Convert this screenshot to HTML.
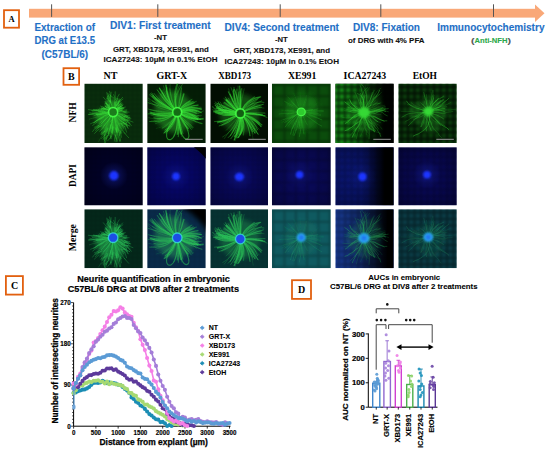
<!DOCTYPE html>
<html><head><meta charset="utf-8"><style>
html,body{margin:0;padding:0;background:#fff;}
body{width:550px;height:453px;overflow:hidden;position:relative;}
svg{position:absolute;left:0;top:0;}
</style></head><body>
<svg width="550" height="453" viewBox="0 0 550 453">
<defs><filter id="bl" x="-10%" y="-10%" width="120%" height="120%"><feGaussianBlur stdDeviation="0.55"/></filter><filter id="bl2" x="-30%" y="-30%" width="160%" height="160%"><feGaussianBlur stdDeviation="2.5"/></filter><filter id="bl1" x="-30%" y="-30%" width="160%" height="160%"><feGaussianBlur stdDeviation="0.8"/></filter><radialGradient id="vig" r="0.75"><stop offset="0.3" stop-color="#000" stop-opacity="0"/><stop offset="1" stop-color="#000" stop-opacity="0.35"/></radialGradient><radialGradient id="gglow"><stop offset="0" stop-color="#2cd02c"/><stop offset="1" stop-color="#2cd02c" stop-opacity="0"/></radialGradient><g id="nr0" fill="none" stroke="currentColor" stroke-linecap="round" stroke-linejoin="round"><polygon points="37.8,28.5 39.6,30.4 40.8,32.9 41.1,35.6 40.5,38.3 39.6,41.4 38.4,45.1 35.8,47.8 32.5,49.3 28.8,50.2 25.0,49.9 21.4,48.9 18.2,46.8 15.9,43.9 14.3,40.7 13.4,37.4 12.0,34.6 10.0,31.8 11.2,28.5 17.7,26.5 22.3,26.1 23.8,25.6 24.2,24.6 24.0,22.8 23.9,20.1 24.4,16.5 26.6,16.1 28.8,16.1 31.0,16.1 33.2,16.5 33.6,20.2 33.5,22.9 32.8,25.1 33.6,25.7 34.3,26.5 35.7,27.3" fill="currentColor" fill-opacity="0.55" stroke="none" filter="url(#bl2)"/><path d="M25.0 29.7 22.5 30.4 20.0 31.2 17.5 31.9 15.0 32.7 12.6 33.5 10.1 34.2 7.5 34.8 5.0 35.6" stroke-width="0.6" stroke-opacity="0.35"/><path d="M30.3 24.8 31.4 22.5 32.8 20.3" stroke-width="0.7" stroke-opacity="0.61"/><path d="M31.0 31.8 32.7 33.8 34.5 35.7 36.5 37.3 38.7 38.8 40.9 40.1 43.2 41.3 45.5 42.5" stroke-width="0.7" stroke-opacity="0.62"/><path d="M24.8 28.5 22.2 28.6 19.6 28.4 17.0 27.9 14.5 27.3 12.0 26.6 9.5 25.9" stroke-width="0.5" stroke-opacity="0.44"/><path d="M32.4 30.2 34.7 31.5 36.9 32.8 39.0 34.3 41.0 36.0" stroke-width="0.4" stroke-opacity="0.40"/><path d="M32.2 26.4 34.4 24.9 36.4 23.3" stroke-width="0.7" stroke-opacity="0.69"/><path d="M28.3 32.5 27.9 35.0 27.5 37.6 27.3 40.2 27.3 42.8 27.6 45.4 28.2 47.9 28.7 50.5" stroke-width="0.5" stroke-opacity="0.58"/><path d="M25.0 29.8 22.6 30.9 20.3 31.9 18.0 33.2 15.8 34.6 13.7 36.1 11.7 37.7 9.6 39.3" stroke-width="0.8" stroke-opacity="0.45"/><path d="M31.8 25.9 33.8 24.2" stroke-width="0.7" stroke-opacity="0.35"/><path d="M32.8 28.2 35.4 28.1 38.0 27.8" stroke-width="0.5" stroke-opacity="0.34"/><path d="M32.2 30.6 34.3 32.1 36.5 33.5 38.7 34.9 40.8 36.5" stroke-width="0.6" stroke-opacity="0.59"/><path d="M31.5 25.5 33.3 23.7" stroke-width="0.8" stroke-opacity="0.42"/><path d="M30.3 32.2 31.3 34.6 32.1 37.1 32.7 39.6 33.2 42.2 33.7 44.7 34.2 47.3 34.9 49.8 35.4 52.3 35.9 54.9 36.3 57.4" stroke-width="0.5" stroke-opacity="0.71"/><path d="M25.5 26.2 23.4 24.7" stroke-width="0.4" stroke-opacity="0.41"/><path d="M25.1 27.0 22.7 26.1 20.3 24.9" stroke-width="0.5" stroke-opacity="0.31"/><path d="M28.3 32.5 28.2 35.1 28.1 37.7 27.9 40.3 28.0 42.9 28.1 45.5" stroke-width="0.8" stroke-opacity="0.79"/><path d="M26.6 25.2 25.1 23.1 23.4 21.0 21.7 19.1" stroke-width="0.9" stroke-opacity="0.65"/><path d="M32.7 27.6 35.2 26.9 37.7 26.1" stroke-width="0.6" stroke-opacity="0.80"/><path d="M32.4 30.3 34.6 31.7 36.8 33.1 38.9 34.6 40.9 36.2 42.8 38.0" stroke-width="0.6" stroke-opacity="0.64"/><path d="M32.0 26.2 34.3 24.8" stroke-width="0.8" stroke-opacity="0.59"/><path d="M26.0 25.7 24.1 23.8 22.2 22.1" stroke-width="0.7" stroke-opacity="0.80"/><path d="M31.7 25.8 33.7 24.1" stroke-width="0.7" stroke-opacity="0.52"/><path d="M30.9 25.1 32.0 22.8 33.1 20.4 34.1 18.0" stroke-width="0.5" stroke-opacity="0.65"/><path d="M24.8 28.6 22.2 28.7 19.6 29.0 17.0 29.3 14.5 29.6 11.9 29.9 9.3 30.4 6.7 30.7 4.1 30.8" stroke-width="0.6" stroke-opacity="0.75"/><path d="M26.9 32.0 25.7 34.3 24.4 36.6 22.8 38.7 21.1 40.6 19.4 42.6 17.7 44.5" stroke-width="0.6" stroke-opacity="0.37"/><path d="M24.8 28.6 22.2 28.5 19.6 28.1 17.1 27.7 14.5 27.4 11.9 27.1 9.3 26.7 6.7 26.4 4.2 26.1" stroke-width="0.7" stroke-opacity="0.55"/><path d="M27.2 32.2 26.1 34.5 25.1 36.9 24.2 39.4 23.1 41.7 22.1 44.1 20.9 46.4 19.7 48.7 18.4 51.0 17.0 53.2 15.7 55.4 14.4 57.7" stroke-width="0.6" stroke-opacity="0.31"/><path d="M30.7 25.0 31.7 22.6 32.8 20.2" stroke-width="0.6" stroke-opacity="0.61"/><path d="M26.6 25.2 25.2 23.0 23.8 20.8 22.5 18.5" stroke-width="0.5" stroke-opacity="0.31"/><path d="M24.9 29.2 22.3 29.7 19.8 30.2 17.2 30.6 14.6 30.9 12.0 31.1" stroke-width="0.8" stroke-opacity="0.50"/><path d="M29.8 24.6 30.8 22.2 31.9 19.9 32.9 17.5" stroke-width="0.6" stroke-opacity="0.61"/><path d="M32.2 26.4 34.4 25.1" stroke-width="0.8" stroke-opacity="0.77"/><path d="M24.9 29.4 22.3 29.9 19.8 30.2 17.2 30.4 14.6 30.4 12.0 30.6" stroke-width="0.8" stroke-opacity="0.79"/><path d="M32.8 27.9 35.3 27.5 37.9 27.2" stroke-width="0.8" stroke-opacity="0.47"/><path d="M32.3 30.5 34.5 31.9 36.7 33.2 39.0 34.4 41.3 35.7 43.6 36.8" stroke-width="0.8" stroke-opacity="0.39"/><path d="M26.8 31.9 25.5 34.2 24.2 36.5 22.7 38.6 21.1 40.6 19.4 42.6" stroke-width="0.9" stroke-opacity="0.55"/><path d="M32.6 27.2 35.0 26.3" stroke-width="0.5" stroke-opacity="0.66"/><path d="M26.2 25.4 24.6 23.4 22.9 21.5 21.1 19.5" stroke-width="0.8" stroke-opacity="0.75"/><path d="M29.8 32.4 30.4 34.9 30.9 37.5 31.4 40.0 31.8 42.6 32.2 45.1 32.4 47.7 32.7 50.3 32.8 52.9 32.7 55.5 32.6 58.1" stroke-width="0.8" stroke-opacity="0.58"/><path d="M24.8 28.7 22.2 28.8 19.6 28.9 17.0 28.7 14.4 28.4" stroke-width="0.5" stroke-opacity="0.54"/><path d="M31.6 31.4 33.3 33.3 35.0 35.3 36.8 37.2 38.7 38.9 40.6 40.7 42.3 42.7 44.2 44.5" stroke-width="0.8" stroke-opacity="0.31"/><path d="M30.2 32.3 31.2 34.6 32.3 37.0 33.5 39.3 34.8 41.5 36.2 43.8 37.7 45.9 39.2 48.0 40.9 50.0" stroke-width="0.5" stroke-opacity="0.57"/><path d="M25.1 30.0 22.7 31.1 20.4 32.2 18.2 33.6 15.9 34.8 13.6 36.1 11.4 37.4" stroke-width="0.8" stroke-opacity="0.61"/><path d="M31.3 25.4 33.0 23.4 34.7 21.4 36.3 19.4" stroke-width="0.6" stroke-opacity="0.76"/><path d="M29.6 32.4 30.1 35.0 30.7 37.5 31.0 40.1 31.3 42.7 31.7 45.2 31.8 47.8 31.9 50.4 31.7 53.0 31.5 55.6 31.3 58.2" stroke-width="0.7" stroke-opacity="0.31"/><path d="M30.0 32.3 30.6 34.9 31.2 37.4 31.9 39.9 32.4 42.4 32.8 45.0 33.1 47.6 33.5 50.1 34.1 52.7 34.7 55.2 35.5 57.7" stroke-width="0.7" stroke-opacity="0.56"/><path d="M25.2 26.8 22.7 25.9" stroke-width="0.8" stroke-opacity="0.80"/><path d="M32.4 26.7 34.8 25.7" stroke-width="0.6" stroke-opacity="0.68"/><path d="M26.9 32.0 25.8 34.4 24.6 36.7 23.5 39.1 22.5 41.4 21.3 43.7 20.2 46.1 19.1 48.5 18.0 50.8" stroke-width="0.6" stroke-opacity="0.40"/><path d="M30.8 31.9 32.0 34.3 33.1 36.6 34.1 39.0 34.9 41.5" stroke-width="0.7" stroke-opacity="0.50"/><path d="M25.6 26.2 23.5 24.5 21.4 23.0" stroke-width="0.9" stroke-opacity="0.67"/><path d="M29.5 24.6 30.2 22.1 31.1 19.6 32.1 17.2 33.4 14.9" stroke-width="0.8" stroke-opacity="0.50"/><path d="M28.1 24.6 27.6 22.0 26.7 19.6 25.7 17.2" stroke-width="0.7" stroke-opacity="0.61"/><path d="M29.2 32.5 29.5 35.1 29.6 37.7 29.5 40.3 29.4 42.9 29.2 45.4 28.6 48.0 27.9 50.5 27.1 52.9 26.0 55.3" stroke-width="0.9" stroke-opacity="0.31"/><path d="M25.8 25.8 23.9 24.1" stroke-width="0.4" stroke-opacity="0.40"/><path d="M26.0 31.3 24.1 33.1 22.2 34.9 20.4 36.8 18.6 38.6 16.8 40.5" stroke-width="0.9" stroke-opacity="0.62"/><path d="M30.3 24.8 31.2 22.4 31.9 19.9 32.7 17.4 33.2 14.8" stroke-width="0.6" stroke-opacity="0.38"/><path d="M24.8 28.6 22.2 28.5 19.6 28.3 17.0 28.2 14.4 27.9" stroke-width="0.6" stroke-opacity="0.44"/><path d="M26.6 25.2 25.2 23.0 23.7 20.8" stroke-width="0.4" stroke-opacity="0.42"/><path d="M32.7 29.6 35.2 30.1 37.7 30.8 40.2 31.5 42.8 31.9 45.3 32.4" stroke-width="0.9" stroke-opacity="0.34"/><path d="M32.1 26.3 34.4 25.0" stroke-width="0.5" stroke-opacity="0.56"/><path d="M32.5 27.0 35.0 26.2" stroke-width="0.8" stroke-opacity="0.60"/><path d="M31.8 31.1 33.8 32.8 35.9 34.3 38.0 35.9 40.2 37.3 42.3 38.8" stroke-width="0.7" stroke-opacity="0.53"/><path d="M28.5 32.5 28.2 35.1 27.8 37.6 27.2 40.2 26.4 42.7 25.5 45.1 24.7 47.6 24.0 50.1" stroke-width="0.8" stroke-opacity="0.69"/><path d="M26.0 25.7 24.2 23.8" stroke-width="0.7" stroke-opacity="0.60"/><path d="M26.1 25.5 24.3 23.6" stroke-width="0.9" stroke-opacity="0.76"/><path d="M31.7 25.7 33.4 23.8" stroke-width="0.6" stroke-opacity="0.61"/><path d="M32.0 30.9 34.2 32.3 36.3 33.8 38.4 35.3" stroke-width="0.7" stroke-opacity="0.49"/><path d="M24.8 29.0 22.3 29.4 19.7 29.6 17.1 30.1 14.6 30.8 12.1 31.4 9.6 32.1" stroke-width="0.8" stroke-opacity="0.41"/><path d="M25.2 30.3 23.0 31.6 20.7 32.9 18.4 34.0 16.1 35.3 13.9 36.6 11.6 37.9 9.3 39.0" stroke-width="0.6" stroke-opacity="0.48"/><path d="M43.2 38.5l4.0 3.5M9.2 30.4l-4.2 0.2M30.0 21.4l0.9 -3.2M21.0 50.8l-4.0 4.2M26.2 40.9l0.4 4.4M41.3 39.9l2.3 4.7M35.0 25.0l6.0 -1.5M23.1 44.5l-0.8 4.5M35.4 25.6l4.1 -1.8M17.6 41.5l-3.8 2.5M35.7 47.5l1.5 6.2M23.4 26.2l-6.0 -0.2M33.1 24.5l4.8 -2.0M21.3 25.1l-5.0 -2.6M31.2 21.9l-0.5 -3.3M42.5 36.2l6.2 2.3M41.8 36.1l3.7 4.2M29.2 43.3l-2.1 5.7M14.3 26.5l-6.9 0.5M23.9 19.3l-1.6 -4.9M26.3 14.8l0.5 -6.3M23.0 18.4l-3.9 -4.8M34.6 18.5l4.1 -3.0M25.2 14.3l-1.7 -4.4M19.2 33.7l-3.8 2.4M35.2 39.8l4.7 0.6M21.8 54.3l-1.7 3.0M23.2 21.0l-1.9 -3.2M40.3 33.2l3.1 -0.6M36.9 35.1l3.6 1.3M30.9 51.6l1.0 3.6M26.2 41.8l-0.5 6.0M20.8 48.0l-2.0 3.5M33.9 24.1l2.3 -3.7M20.1 25.8l-3.2 -0.3M35.6 26.2l4.3 -1.4M17.6 26.5l-5.6 -0.2M29.3 34.9l-3.6 3.3M13.4 44.6l-2.3 2.8M36.9 40.8l3.4 2.2M33.8 23.2l0.5 -4.0M21.9 27.0l-5.3 2.9M39.6 28.6l3.2 1.1M25.9 51.8l1.1 3.2M11.7 30.6l-6.2 -1.6M20.7 51.6l-1.0 4.5M33.1 26.0l4.7 -2.1M20.6 27.2l-6.3 0.1M22.5 44.1l-2.8 4.0M26.4 17.7l-0.6 -5.7M39.3 36.7l6.3 -0.6M26.1 24.6l-1.8 -4.1M26.4 19.0l-1.6 -2.6M38.7 28.0l3.8 -0.7M24.2 24.4l-3.8 -1.9M19.5 43.7l-4.1 3.9M28.2 42.8l-0.1 6.8M21.6 25.5l-4.3 -0.6M31.9 22.5l3.1 -4.8M26.5 19.8l-0.7 -4.6M33.9 20.1l2.4 -2.7M38.7 38.3l2.1 2.6M34.1 25.6l3.6 -4.9M33.2 19.4l1.7 -4.0M23.4 31.8l-4.1 5.6M32.2 15.3l2.7 -4.7M37.9 29.6l3.4 -0.4M15.6 41.3l-5.7 2.4M33.9 18.5l4.5 -4.8M22.0 26.4l-3.7 -3.3M40.5 43.0l1.8 5.6M32.6 22.1l3.3 -5.9M24.5 24.1l-2.9 -4.4M25.3 18.2l-1.5 -6.6M17.0 42.5l-3.4 1.0M33.9 25.0l5.2 -0.2M22.9 26.1l-2.5 -5.8M24.7 25.5l-6.2 -0.8M22.6 53.6l-1.7 6.1M36.6 46.7l0.0 3.3M37.0 30.2l3.5 4.4M20.7 49.9l-1.8 5.7M14.6 41.6l-2.8 2.5M17.6 30.8l-4.4 1.1M23.6 26.1l-5.2 -1.1M18.0 47.6l-1.5 2.8M25.3 22.0l-0.5 -4.9M13.0 38.3l-4.6 3.5M29.5 14.5l-5.0 -3.9M33.6 22.4l3.2 -3.5M21.4 25.2l-4.7 -0.3M33.5 25.3l2.5 -2.0M26.5 13.6l-1.2 -5.9M21.5 49.0l0.2 3.3M39.1 38.7l2.8 1.5M24.5 16.6l-1.4 -3.7M22.4 45.9l-2.4 6.2M36.2 26.9l6.4 -0.6M11.1 38.0l-4.8 2.1M32.8 25.7l6.1 -0.7M39.8 39.3l2.8 2.8M23.6 44.8l-1.0 3.1M34.0 24.5l3.4 -4.1M34.6 30.2l5.9 2.9M21.6 47.4l-4.4 2.1M33.1 43.8l3.8 5.5M33.0 25.3l4.3 -2.3M39.7 48.9l4.7 5.2M35.1 48.9l0.3 3.2M41.9 38.8l1.4 4.0M34.2 24.6l4.6 -3.6M34.6 26.1l2.8 -1.7M31.5 44.6l0.8 3.6M30.9 50.9l1.7 5.9M14.5 43.3l-3.4 1.9M20.6 53.4l-0.3 5.7M25.0 50.6l-3.7 3.0M17.7 26.5l-2.6 -1.9M24.3 25.2l-2.7 -2.0M23.5 52.0l-2.7 2.9M25.0 49.2l-2.9 6.3M39.6 30.8l4.2 4.3M11.5 43.8l-3.2 4.1M24.2 22.5l-3.5 -4.5M31.4 16.3l-2.1 -5.3M12.7 26.4l-3.7 -0.4M30.4 19.9l0.1 -4.8M30.9 14.3l0.0 -6.2M30.6 48.3l0.1 5.0M40.6 31.2l4.8 3.4M21.9 25.1l-2.7 -1.6M12.8 28.9l-4.7 -0.6M26.8 53.0l-3.3 4.1M20.3 26.1l-3.3 -2.1M37.2 39.6l2.1 5.1M19.3 27.0l-5.2 -1.2M43.0 37.3l2.9 2.2M23.5 15.0l-1.0 -6.1M39.8 33.0l6.7 1.7M40.2 31.6l5.5 2.5M35.1 28.0l2.7 -1.7M30.3 54.0l-0.3 3.6M17.4 37.6l-2.2 2.2M38.9 28.3l5.9 0.2M30.7 43.7l1.6 4.6M34.3 26.0l3.8 -2.1M37.2 27.5l5.5 1.0M39.2 32.5l5.2 2.5M34.0 22.6l3.8 -2.6M33.4 21.6l2.2 -5.7M32.5 45.1l0.2 3.6M32.9 42.0l-0.3 4.9M21.8 46.6l-4.7 4.4M33.7 45.3l1.0 3.1M24.8 18.3l-1.4 -3.5M27.4 46.9l-0.9 6.6M26.6 18.6l-2.2 -6.4M14.5 45.8l-4.3 4.0M32.5 26.1l2.5 -2.2M33.2 24.5l5.4 -2.8" stroke-width="0.6" stroke-opacity="0.55"/></g><g id="nr1" fill="none" stroke="currentColor" stroke-linecap="round" stroke-linejoin="round"><polygon points="49.5,28.6 49.0,31.9 47.9,35.1 46.2,38.0 44.0,40.3 41.7,42.6 39.4,44.8 36.6,46.7 33.4,48.0 30.0,48.9 26.5,48.7 23.0,47.9 19.6,46.6 16.6,44.6 13.7,42.3 11.0,39.6 8.9,36.3 8.2,32.4 8.2,28.6 7.8,24.7 8.0,20.6 9.0,16.5 10.8,12.5 14.0,9.5 18.1,8.1 22.3,7.5 26.3,7.5 30.0,8.4 33.4,9.5 36.3,11.3 38.8,13.4 40.7,15.8 42.1,18.5 44.4,20.3 46.5,22.6 48.2,25.4" fill="currentColor" fill-opacity="0.38" stroke="none" filter="url(#bl2)"/><path d="M29.3 24.7 28.9 22.1 28.6 19.5 28.7 16.9 29.1 14.3 29.8 11.9 30.8 9.4 31.8 7.1 32.9 4.7 34.3 2.5" stroke-width="0.8" stroke-opacity="0.34"/><path d="M34.0 28.3 36.6 28.5 39.2 28.9 41.6 29.6 44.1 30.5 46.5 31.5 48.8 32.7 51.1 33.9" stroke-width="1.0" stroke-opacity="0.42"/><path d="M27.0 25.9 25.1 24.2 23.4 22.3 21.7 20.3 20.1 18.2 18.5 16.1 17.3 13.9 16.3 11.5 15.4 9.0 14.6 6.5" stroke-width="0.6" stroke-opacity="0.56"/><path d="M32.0 32.1 33.2 34.4 34.4 36.7 35.7 38.9 37.3 41.0 39.0 43.0 40.7 44.9" stroke-width="1.1" stroke-opacity="0.46"/><path d="M33.4 30.6 35.7 32.0 38.0 33.2 40.3 34.4 42.6 35.5 45.0 36.5 47.5 37.4 49.9 38.3 52.3 39.3 54.8 40.0" stroke-width="1.1" stroke-opacity="0.46"/><path d="M26.4 30.4 24.1 31.5 21.7 32.6 19.3 33.6 16.9 34.5 14.4 35.3 12.0 36.2 9.4 36.8 6.8 37.1 4.2 37.2" stroke-width="0.6" stroke-opacity="0.23"/><path d="M30.8 32.5 31.3 35.1 31.6 37.6 31.9 40.2 32.3 42.8 32.6 45.4 32.9 48.0 33.3 50.5" stroke-width="0.8" stroke-opacity="0.49"/><path d="M27.5 25.5 26.0 23.3 24.5 21.2 23.0 19.1 21.5 17.0 20.1 14.8 18.9 12.5 17.8 10.1 16.8 7.7 15.9 5.3" stroke-width="0.7" stroke-opacity="0.31"/><path d="M33.4 30.7 35.6 32.1 37.9 33.3 40.4 34.1 42.9 34.7 45.5 35.0 48.1 35.3 50.7 35.6 53.3 35.5" stroke-width="1.1" stroke-opacity="0.29"/><path d="M34.0 28.0 36.5 27.8 39.1 27.6 41.7 27.6 44.3 27.9 46.8 28.5 49.4 29.1 51.9 29.9" stroke-width="1.0" stroke-opacity="0.27"/><path d="M33.9 27.7 36.5 27.3 39.1 27.1 41.7 27.1 44.3 27.1 46.9 27.3 49.4 27.7 51.9 28.3 54.4 29.2" stroke-width="0.9" stroke-opacity="0.25"/><path d="M27.5 25.4 26.1 23.2 24.8 21.0 23.7 18.7 22.5 16.3 21.4 14.0 20.2 11.7 19.1 9.4 18.0 7.0 17.0 4.6 16.3 2.1" stroke-width="0.6" stroke-opacity="0.42"/><path d="M29.3 24.7 28.9 22.1 28.6 19.5 28.3 16.9 28.3 14.3 28.2 11.7 28.4 9.1 28.9 6.6 29.5 4.0 30.1 1.5 30.9 -1.0" stroke-width="1.2" stroke-opacity="0.43"/><path d="M27.4 25.6 25.9 23.4 24.6 21.2 23.5 18.8 22.6 16.4 21.9 13.9 21.1 11.4 20.4 8.9 19.6 6.4 18.7 4.0 18.1 1.4" stroke-width="0.7" stroke-opacity="0.21"/><path d="M26.3 30.0 23.7 30.5 21.1 30.9 18.6 31.2 16.0 31.3 13.4 31.3 10.8 31.0 8.2 30.7 5.6 30.2 3.1 29.5" stroke-width="1.2" stroke-opacity="0.56"/><path d="M26.6 26.5 24.3 25.2 22.1 23.9 19.8 22.6 17.6 21.4 15.2 20.2 13.1 18.8 11.0 17.2 8.9 15.6 6.9 14.0 5.0 12.2" stroke-width="0.9" stroke-opacity="0.23"/><path d="M26.5 30.5 24.1 31.5 21.6 32.2 19.0 32.7 16.5 33.1 13.9 33.2 11.3 33.0 8.7 32.6 6.2 32.1 3.7 31.3" stroke-width="1.2" stroke-opacity="0.25"/><path d="M26.4 26.9 24.1 25.6 21.9 24.3 19.6 23.1 17.4 21.7 15.1 20.4 13.0 18.8 11.0 17.2 9.0 15.5 7.1 13.8 5.2 12.0 3.5 10.0" stroke-width="0.9" stroke-opacity="0.49"/><path d="M33.4 26.6 35.8 25.6 38.3 24.7 40.8 24.2 43.4 24.0 46.0 23.9 48.6 24.1 51.2 24.6 53.7 25.3" stroke-width="1.0" stroke-opacity="0.30"/><path d="M27.4 25.5 26.1 23.3 24.7 21.1 23.5 18.8 22.3 16.5 21.3 14.1 20.6 11.6 19.8 9.1 19.2 6.6 18.8 4.0 18.5 1.4" stroke-width="0.6" stroke-opacity="0.52"/><path d="M27.4 25.6 25.7 23.6 24.1 21.5 22.6 19.4 20.9 17.4 19.3 15.4 17.9 13.2 16.4 11.0 15.2 8.8" stroke-width="0.9" stroke-opacity="0.26"/><path d="M33.6 30.3 36.0 31.3 38.4 32.3 40.8 33.3 43.3 34.2 45.8 34.9 48.3 35.5 50.8 36.1" stroke-width="0.8" stroke-opacity="0.54"/><path d="M33.1 26.1 35.1 24.4 37.3 23.0 39.6 21.8 42.0 20.8 44.5 20.0" stroke-width="0.8" stroke-opacity="0.37"/><path d="M33.4 26.6 35.7 25.3 38.1 24.3 40.6 23.4 43.1 22.7 45.6 22.3 48.2 21.9 50.8 21.7" stroke-width="0.6" stroke-opacity="0.21"/><path d="M26.7 30.8 24.3 31.9 21.9 32.8 19.4 33.6 16.9 34.4 14.4 34.9 11.8 35.1 9.2 35.1 6.6 35.1 4.0 34.7 1.5 34.1" stroke-width="0.6" stroke-opacity="0.31"/><path d="M31.7 25.0 32.7 22.6 33.6 20.2 34.4 17.7 35.0 15.1 35.7 12.6 36.3 10.1" stroke-width="0.8" stroke-opacity="0.46"/><path d="M26.3 27.1 23.9 26.0 21.6 24.8 19.2 23.8 16.9 22.6 14.5 21.5 12.2 20.5 9.8 19.4 7.4 18.4 5.1 17.1 2.9 15.9 0.7 14.4" stroke-width="1.1" stroke-opacity="0.20"/><path d="M33.5 26.7 35.9 25.6 38.3 24.5 40.7 23.8 43.2 23.0 45.7 22.2 48.2 21.7 50.8 21.3" stroke-width="0.7" stroke-opacity="0.46"/><path d="M26.4 30.4 24.0 31.2 21.4 31.7 18.8 32.0 16.2 32.0 13.6 31.9 11.1 31.5 8.5 31.1 5.9 30.6" stroke-width="1.1" stroke-opacity="0.59"/><path d="M33.0 25.9 35.0 24.3 37.2 22.9 39.5 21.6 41.8 20.5 44.2 19.4 46.6 18.6 49.1 17.6" stroke-width="0.8" stroke-opacity="0.25"/><path d="M33.5 30.5 35.9 31.6 38.3 32.6 40.8 33.3 43.3 33.8 45.9 34.3 48.5 34.4 51.1 34.5" stroke-width="1.0" stroke-opacity="0.51"/><path d="M26.4 26.9 24.1 25.6 21.9 24.2 19.7 22.9 17.5 21.5 15.3 20.2 13.0 18.9 10.8 17.5 8.6 16.1 6.6 14.4 4.6 12.8 2.6 11.1" stroke-width="1.3" stroke-opacity="0.31"/><path d="M26.7 30.8 24.4 32.1 22.2 33.4 19.9 34.6 17.5 35.6 15.0 36.5 12.6 37.3 10.1 38.0 7.5 38.5" stroke-width="0.6" stroke-opacity="0.24"/><path d="M26.3 27.2 23.9 26.1 21.5 25.2 19.2 23.9 16.9 22.8 14.6 21.4 12.5 19.9 10.4 18.4 8.4 16.7 6.6 14.9 4.9 12.9" stroke-width="1.3" stroke-opacity="0.34"/><path d="M26.5 30.6 24.1 31.6 21.6 32.2 19.0 32.6 16.4 32.8 13.8 32.6 11.3 32.1 8.8 31.4 6.4 30.3 4.2 28.9" stroke-width="0.7" stroke-opacity="0.37"/><path d="M33.5 30.5 35.9 31.5 38.3 32.5 40.8 33.4 43.2 34.2 45.7 35.1 48.2 35.6 50.8 35.8 53.4 35.8 56.0 35.5" stroke-width="1.2" stroke-opacity="0.44"/><path d="M26.0 28.0 23.5 27.5 21.0 26.9 18.4 26.3 15.9 25.5 13.5 24.7 11.1 23.7 8.8 22.5 6.6 21.0 4.6 19.5 2.6 17.8 0.6 16.1" stroke-width="0.5" stroke-opacity="0.46"/><path d="M33.8 27.3 36.3 26.5 38.8 26.1 41.4 25.9 44.0 25.7 46.6 25.5 49.2 25.4 51.8 25.4 54.4 25.4" stroke-width="1.3" stroke-opacity="0.34"/><path d="M34.0 28.5 36.6 28.4 39.2 28.7 41.7 29.3 44.1 30.2 46.5 31.4 48.8 32.5" stroke-width="1.1" stroke-opacity="0.25"/><path d="M33.7 30.1 36.2 30.8 38.8 31.3 41.4 31.5 44.0 31.3 46.5 30.9 49.0 30.1 51.4 29.2 53.9 28.3 56.3 27.3" stroke-width="0.6" stroke-opacity="0.40"/><path d="M33.1 26.1 35.2 24.5 37.3 23.0 39.7 21.9 42.1 20.9 44.5 20.1 47.0 19.3" stroke-width="0.8" stroke-opacity="0.36"/><path d="M28.6 32.4 27.6 34.7 26.5 37.1 25.3 39.4 23.8 41.5 22.1 43.5 20.1 45.1 17.8 46.4" stroke-width="0.8" stroke-opacity="0.45"/><path d="M28.8 32.4 27.8 34.8 26.5 37.1 25.1 39.3 23.7 41.4 22.2 43.6 20.7 45.7 18.9 47.6 17.1 49.4" stroke-width="0.9" stroke-opacity="0.44"/><path d="M27.2 25.7 25.5 23.8 23.9 21.7 22.4 19.6 20.8 17.5 19.2 15.5 17.7 13.4 16.3 11.2 14.8 9.0 13.5 6.8 12.1 4.6" stroke-width="1.1" stroke-opacity="0.52"/><path d="M28.9 32.4 28.2 34.9 27.3 37.4 26.1 39.7 24.8 42.0 23.3 44.1 21.6 46.1 19.9 48.0" stroke-width="1.0" stroke-opacity="0.59"/><path d="M32.7 25.6 34.4 23.7 36.3 21.9 38.4 20.3 40.6 19.0 42.9 17.8" stroke-width="1.2" stroke-opacity="0.56"/><path d="M26.5 26.7 24.2 25.4 22.0 24.0 19.8 22.6 17.7 21.2 15.5 19.8 13.4 18.2 11.4 16.6 9.4 14.9 7.5 13.2 5.6 11.3" stroke-width="0.9" stroke-opacity="0.52"/><path d="M30.5 32.6 30.8 35.1 31.0 37.7 31.2 40.3 31.1 42.9 31.0 45.5 30.7 48.1 30.4 50.7" stroke-width="1.0" stroke-opacity="0.37"/><path d="M27.5 25.4 26.0 23.4 24.5 21.2 23.0 19.1 21.9 16.7 20.9 14.4 20.1 11.9 19.6 9.3 19.3 6.7 19.2 4.1 19.0 1.5" stroke-width="0.9" stroke-opacity="0.56"/><path d="M26.5 26.7 24.2 25.4 22.1 23.9 19.9 22.5 17.8 21.0 15.8 19.3 13.8 17.6 11.9 15.9 10.2 13.9 8.5 11.9 6.9 9.9" stroke-width="0.8" stroke-opacity="0.50"/><path d="M26.7 30.8 24.4 32.1 22.0 33.1 19.5 33.8 17.0 34.4 14.4 34.8 11.8 34.9 9.2 34.7 6.7 34.2" stroke-width="1.0" stroke-opacity="0.46"/><path d="M31.1 24.8 31.6 22.2 32.0 19.6 32.3 17.1 32.9 14.5 33.3 11.9 33.6 9.4 33.9 6.8 34.3 4.2" stroke-width="1.3" stroke-opacity="0.40"/><path d="M34.0 29.2 36.5 29.8 38.9 30.8 41.3 31.8 43.6 33.0 45.9 34.3 48.1 35.7" stroke-width="0.6" stroke-opacity="0.45"/><path d="M30.8 32.5 31.2 35.1 31.7 37.6 32.2 40.2 32.6 42.8 33.1 45.3 33.7 47.8 34.2 50.4" stroke-width="1.0" stroke-opacity="0.57"/><path d="M27.6 25.4 26.1 23.3 24.6 21.1 23.4 18.8 22.4 16.4 21.4 14.0 20.7 11.5 20.2 9.0 19.7 6.4 19.5 3.8" stroke-width="1.2" stroke-opacity="0.55"/><path d="M33.7 27.1 36.1 26.1 38.5 25.1 40.9 24.2 43.4 23.3 45.8 22.4 48.4 21.9 51.0 21.7" stroke-width="0.8" stroke-opacity="0.45"/><path d="M28.8 32.4 27.8 34.8 26.7 37.2 25.3 39.4 23.8 41.5 22.2 43.5 20.4 45.4 18.5 47.1 16.5 48.8" stroke-width="0.9" stroke-opacity="0.22"/><path d="M32.2 32.0 33.8 34.0 35.5 36.0 37.3 37.9 39.0 39.8 40.8 41.7 42.5 43.7 44.1 45.7" stroke-width="1.0" stroke-opacity="0.41"/><path d="M27.4 25.6 25.8 23.5 24.1 21.5 22.5 19.5 21.2 17.3 19.8 15.0 18.4 12.8 17.2 10.5 16.0 8.2" stroke-width="0.5" stroke-opacity="0.22"/><path d="M30.8 32.5 31.2 35.1 31.4 37.7 31.2 40.3 31.2 42.9 31.2 45.5 31.1 48.1 30.8 50.7" stroke-width="0.7" stroke-opacity="0.24"/><path d="M33.9 29.3 36.5 29.9 38.9 30.9 41.1 32.2 43.3 33.6 45.3 35.2 47.2 37.1 49.0 39.0" stroke-width="0.6" stroke-opacity="0.42"/><path d="M28.8 24.8 28.3 22.2 28.0 19.6 28.1 17.0 28.4 14.5 29.0 11.9 29.6 9.4 30.3 6.9 31.1 4.4 32.3 2.1" stroke-width="0.6" stroke-opacity="0.48"/><path d="M33.7 30.1 36.2 30.9 38.7 31.5 41.2 32.2 43.8 32.6 46.4 32.8 49.0 32.8 51.6 32.5 54.1 32.1" stroke-width="0.6" stroke-opacity="0.52"/><path d="M26.7 30.8 24.5 32.2 22.3 33.7 20.1 35.0 17.9 36.4 15.5 37.4 13.1 38.4 10.6 39.2 8.2 40.1" stroke-width="0.9" stroke-opacity="0.26"/><path d="M33.9 27.5 36.4 26.9 38.9 26.4 41.5 26.2 44.1 26.3 46.7 26.5 49.2 27.1 51.7 27.8 54.2 28.6" stroke-width="0.7" stroke-opacity="0.42"/><path d="M30.1 32.6 30.4 35.2 30.4 37.8 30.4 40.4 30.3 43.0 30.2 45.6 30.1 48.2 29.9 50.8" stroke-width="0.8" stroke-opacity="0.40"/><path d="M27.0 25.9 25.0 24.2 23.2 22.4 21.3 20.7 19.4 18.9 17.7 16.9 16.1 14.9 14.5 12.8 13.1 10.6 11.6 8.5 10.1 6.3" stroke-width="0.9" stroke-opacity="0.58"/><path d="M33.7 30.2 36.1 31.1 38.6 31.8 41.1 32.6 43.6 33.3 46.1 34.1 48.6 34.7 51.1 35.3 53.7 35.6" stroke-width="0.8" stroke-opacity="0.52"/><path d="M26.1 29.3 23.5 29.5 20.9 29.5 18.3 29.8 15.7 30.0 13.1 30.1 10.5 30.1 7.9 30.1 5.3 30.3 2.7 30.4 0.1 30.5" stroke-width="0.9" stroke-opacity="0.29"/><path d="M34.0 28.9 36.6 29.3 39.1 29.9 41.5 30.9 43.9 31.9 46.2 33.0 48.6 34.1 50.8 35.4" stroke-width="1.0" stroke-opacity="0.28"/><path d="M29.3 32.5 28.6 35.1 27.9 37.5 26.9 39.9 25.6 42.2 24.0 44.3 22.3 46.2 20.3 47.9 18.3 49.5" stroke-width="0.8" stroke-opacity="0.31"/><path d="M28.5 32.3 27.5 34.7 26.4 37.1 25.0 39.3 23.4 41.3 21.7 43.3 19.8 45.1 17.8 46.7" stroke-width="0.7" stroke-opacity="0.45"/><path d="M34.0 28.4 36.6 28.5 39.2 28.8 41.7 29.5 44.1 30.6 46.4 31.8 48.5 33.2 50.5 34.9" stroke-width="0.9" stroke-opacity="0.25"/><path d="M28.7 32.4 27.6 34.7 26.5 37.1 25.4 39.4 24.0 41.7 22.3 43.6 20.6 45.6 18.8 47.5 16.9 49.2" stroke-width="1.0" stroke-opacity="0.44"/><path d="M26.0 29.2 23.5 29.6 20.9 30.0 18.3 30.1 15.7 30.2 13.1 30.0 10.5 29.8 7.9 29.4 5.4 28.9 2.8 28.5" stroke-width="1.2" stroke-opacity="0.44"/><path d="M30.8 32.5 31.3 35.1 31.5 37.7 31.7 40.3 31.7 42.9 31.6 45.5 31.6 48.1 31.3 50.6 31.1 53.2" stroke-width="1.0" stroke-opacity="0.42"/><path d="M26.2 27.4 23.8 26.4 21.3 25.5 18.9 24.6 16.4 23.8 13.9 23.0 11.5 22.2 9.0 21.5 6.4 20.9 4.0 20.1 1.5 19.3 -0.9 18.3" stroke-width="0.8" stroke-opacity="0.53"/><path d="M27.3 25.6 25.6 23.7 23.9 21.7 22.3 19.7 20.7 17.7 19.2 15.5 17.7 13.4 16.4 11.1 15.0 8.9 13.7 6.7 12.4 4.4" stroke-width="0.9" stroke-opacity="0.50"/><path d="M31.0 32.5 31.6 35.0 32.3 37.5 32.7 40.1 33.2 42.6 33.6 45.2 33.8 47.8 34.1 50.4" stroke-width="1.2" stroke-opacity="0.27"/><path d="M26.0 29.0 23.4 29.3 20.8 29.4 18.2 29.2 15.7 28.9 13.1 28.5 10.5 28.1 8.0 27.5 5.5 26.7 3.0 26.0 0.5 25.3" stroke-width="1.0" stroke-opacity="0.29"/><path d="M33.2 26.3 35.5 24.9 37.8 23.7 40.1 22.6 42.4 21.4 44.8 20.2 47.1 19.1" stroke-width="0.8" stroke-opacity="0.48"/><path d="M30.6 32.6 30.8 35.1 30.7 37.7 30.4 40.3 30.0 42.9 29.3 45.4 28.4 47.8 27.3 50.2 26.3 52.6" stroke-width="0.5" stroke-opacity="0.41"/><path d="M33.9 27.9 36.5 27.4 39.1 27.0 41.7 26.9 44.3 26.7 46.8 26.6 49.4 26.7 52.0 27.1" stroke-width="1.0" stroke-opacity="0.23"/><path d="M32.9 25.9 35.0 24.3 37.1 22.8 39.2 21.3 41.5 20.0 43.8 18.8 46.1 17.6" stroke-width="0.9" stroke-opacity="0.27"/><path d="M33.5 30.6 35.8 31.7 38.3 32.4 40.8 33.1 43.4 33.6 45.9 34.2 48.5 34.7 51.1 34.9" stroke-width="0.6" stroke-opacity="0.31"/><path d="M33.8 27.3 36.3 26.8 38.9 26.4 41.5 26.1 44.1 26.1 46.7 26.4 49.2 27.0 51.6 27.9" stroke-width="1.0" stroke-opacity="0.32"/><path d="M32.3 31.9 34.0 33.9 35.6 35.9 37.3 37.8 39.2 39.6 41.2 41.3 43.2 42.9 45.4 44.4" stroke-width="1.1" stroke-opacity="0.30"/><path d="M26.0 28.7 23.4 28.6 20.8 28.4 18.2 28.2 15.6 28.0 13.0 27.7 10.5 27.3 7.9 26.9 5.3 26.5 2.8 26.1" stroke-width="0.6" stroke-opacity="0.55"/><path d="M26.3 27.1 23.9 26.2 21.4 25.2 19.0 24.4 16.6 23.3 14.2 22.3 11.8 21.2 9.6 20.0 7.3 18.7 5.1 17.3" stroke-width="0.9" stroke-opacity="0.38"/><path d="M28.9 24.8 28.3 22.2 27.7 19.7 27.3 17.1 27.3 14.5 27.3 11.9 27.5 9.3 27.9 6.7 28.4 4.2 29.2 1.7 30.2 -0.7" stroke-width="0.8" stroke-opacity="0.49"/><path d="M26.8 26.2 24.9 24.4 23.1 22.5 21.4 20.6 19.7 18.6 18.0 16.7 16.4 14.6 15.1 12.4 13.8 10.1" stroke-width="1.3" stroke-opacity="0.32"/><path d="M26.5 30.6 24.2 31.8 21.9 33.0 19.5 34.0 17.1 34.8 14.5 35.4 12.0 36.0 9.4 36.4 6.8 36.8" stroke-width="0.7" stroke-opacity="0.31"/><path d="M33.8 27.3 36.3 26.6 38.9 26.2 41.4 25.9 44.0 25.9 46.6 26.2 49.1 26.9 51.6 27.8 53.8 29.1" stroke-width="1.1" stroke-opacity="0.40"/><path d="M26.0 29.1 23.4 29.3 20.8 29.3 18.2 29.3 15.6 29.4 13.0 29.4 10.4 29.5 7.8 29.5 5.2 29.6 2.7 29.8 0.1 30.1 -2.5 30.5" stroke-width="0.6" stroke-opacity="0.29"/><path d="M32.6 25.6 34.4 23.6 36.1 21.7 38.0 20.0 40.2 18.5 42.3 17.1 44.7 15.9" stroke-width="0.9" stroke-opacity="0.47"/><path d="M32.0 32.1 33.3 34.3 34.8 36.4 36.4 38.5 37.9 40.6 39.6 42.6 41.2 44.7" stroke-width="1.1" stroke-opacity="0.29"/><path d="M32.7 25.6 34.6 23.9 36.7 22.3 38.9 21.0 41.2 19.7 43.6 18.8 46.0 17.8" stroke-width="1.2" stroke-opacity="0.23"/><path d="M26.8 31.0 24.7 32.5 22.5 33.9 20.2 35.2 17.8 36.2 15.3 36.9 12.8 37.5 10.2 37.7 7.6 38.0 5.0 38.0 2.4 37.9" stroke-width="1.0" stroke-opacity="0.41"/><path d="M32.7 31.6 34.4 33.5 36.2 35.4 38.0 37.2 39.9 39.0 41.9 40.7 44.0 42.3 46.2 43.6" stroke-width="0.6" stroke-opacity="0.47"/><path d="M33.8 29.9 36.4 30.3 38.9 30.8 41.5 31.2 44.0 31.7 46.6 31.9 49.2 32.1 51.8 31.9" stroke-width="0.9" stroke-opacity="0.44"/><path d="M28.2 25.0 27.1 22.7 26.2 20.2 25.4 17.8 24.6 15.3 24.0 12.8 23.5 10.2 23.0 7.7 22.6 5.1" stroke-width="1.1" stroke-opacity="0.29"/><path d="M33.0 26.0 35.1 24.4 37.2 22.9 39.4 21.6 41.8 20.4 44.2 19.5 46.7 18.7 49.2 18.2" stroke-width="0.7" stroke-opacity="0.31"/><path d="M28.8 24.8 28.3 22.2 28.0 19.7 28.1 17.1 28.5 14.5 29.0 11.9 29.9 9.5 31.1 7.2 32.3 4.9 33.7 2.7 35.3 0.7" stroke-width="0.8" stroke-opacity="0.33"/><path d="M26.3 27.0 23.9 26.0 21.6 24.8 19.4 23.4 17.3 21.9 15.2 20.3 13.2 18.7 11.3 17.0 9.4 15.2 7.6 13.3" stroke-width="0.6" stroke-opacity="0.27"/><path d="M30.9 32.5 31.5 35.0 32.2 37.5 32.9 40.0 33.6 42.6 34.2 45.1 35.0 47.5 35.7 50.1" stroke-width="1.1" stroke-opacity="0.39"/><path d="M34.0 28.0 36.5 27.6 39.1 27.3 41.7 27.0 44.3 27.1 46.9 27.4 49.4 27.9" stroke-width="1.0" stroke-opacity="0.49"/><path d="M33.5 30.5 35.8 31.7 38.2 32.8 40.6 33.8 43.1 34.5 45.6 35.1 48.2 35.3 50.8 35.3 53.4 35.1 56.0 34.8" stroke-width="1.0" stroke-opacity="0.44"/><path d="M33.6 26.8 36.0 25.9 38.5 25.1 41.0 24.5 43.6 24.0 46.2 23.7 48.7 23.5 51.3 23.6 53.9 23.7" stroke-width="0.9" stroke-opacity="0.32"/><path d="M32.2 31.9 33.7 34.1 35.1 36.3 36.4 38.5 37.8 40.7 39.1 42.9 40.4 45.2 41.8 47.4" stroke-width="0.9" stroke-opacity="0.28"/><path d="M26.3 27.0 24.0 25.9 21.7 24.7 19.5 23.3 17.2 22.0 15.1 20.6 12.9 19.1 10.9 17.4 9.1 15.6 7.4 13.6 6.0 11.4 4.5 9.3" stroke-width="0.8" stroke-opacity="0.53"/><path d="M33.6 26.9 36.1 26.0 38.5 25.2 41.1 24.8 43.7 24.5 46.3 24.3 48.9 24.5 51.4 24.9 54.0 25.5" stroke-width="1.2" stroke-opacity="0.46"/><path d="M28.3 32.2 26.8 34.4 25.2 36.4 23.4 38.3 21.5 40.0 19.4 41.6 17.3 43.2 15.1 44.5" stroke-width="1.3" stroke-opacity="0.29"/><path d="M28.0 25.1 26.7 22.9 25.7 20.5 24.9 18.0 24.2 15.5 23.7 12.9 23.2 10.4 22.9 7.8 22.9 5.2 22.9 2.6 23.0 0.0" stroke-width="0.5" stroke-opacity="0.41"/><path d="M34.0 28.5 36.6 28.8 39.1 29.3 41.6 30.1 44.0 31.2 46.1 32.6 48.3 34.1 50.3 35.7" stroke-width="1.2" stroke-opacity="0.58"/><path d="M28.6 32.3 27.4 34.7 26.2 37.0 25.0 39.3 23.7 41.5 22.4 43.8 20.9 45.9 19.2 47.8 17.3 49.7" stroke-width="0.7" stroke-opacity="0.35"/><path d="M31.2 32.4 31.8 34.9 32.4 37.5 32.8 40.0 33.3 42.6 33.8 45.1 34.1 47.7 34.3 50.3 34.5 52.9" stroke-width="0.5" stroke-opacity="0.45"/><path d="M33.9 27.8 36.5 27.5 39.1 27.3 41.7 27.4 44.3 27.9 46.7 28.6 49.1 29.7" stroke-width="1.1" stroke-opacity="0.50"/><path d="M27.9 32.0 26.4 34.2 24.7 36.0 22.8 37.9 20.7 39.4 18.5 40.8 16.3 42.2 14.0 43.3 11.5 44.1 9.0 44.8" stroke-width="0.6" stroke-opacity="0.21"/><path d="M32.7 31.5 34.6 33.3 36.4 35.2 38.4 36.9 40.4 38.6 42.4 40.2 44.4 41.8" stroke-width="0.6" stroke-opacity="0.53"/><path d="M31.6 24.9 32.7 22.6 33.7 20.2 34.6 17.7 35.3 15.2 36.1 12.7 36.9 10.3" stroke-width="1.1" stroke-opacity="0.48"/><path d="M29.0,32.6 C16.0,46.6 18.0,58.6 24.0,55.6 C29.0,52.6 30.0,42.6 30.0,33.6" stroke-width="1.1" stroke-opacity="0.55"/><path d="M31.0,33.6 C32.0,46.6 36.0,58.6 41.0,54.6 C44.0,50.6 38.0,40.6 33.0,32.6" stroke-width="1.1" stroke-opacity="0.55"/></g><g id="nr2" fill="none" stroke="currentColor" stroke-linecap="round" stroke-linejoin="round"><polygon points="49.5,29.8 49.2,33.2 48.3,36.5 46.9,39.5 44.9,42.3 42.6,44.8 39.9,46.9 36.8,48.5 33.5,49.6 30.0,50.0 26.5,49.6 23.2,48.5 20.1,46.9 17.4,44.8 14.9,42.4 12.7,39.8 10.9,36.8 9.6,33.4 9.0,29.8 9.8,26.2 11.2,23.0 13.1,20.0 15.4,17.6 17.9,15.4 20.5,13.3 23.4,11.8 26.6,10.8 30.0,10.3 33.4,10.6 36.7,11.5 39.7,12.9 42.5,14.9 44.9,17.3 46.9,20.1 48.3,23.1 49.2,26.4" fill="currentColor" fill-opacity="0.3" stroke="none" filter="url(#bl2)"/><path d="M34.0 29.4 36.6 29.6 39.2 29.6 41.8 29.7 44.4 30.1 46.9 30.6 49.4 31.3 51.9 32.1 54.4 32.9 56.8 33.9" stroke-width="0.9" stroke-opacity="0.38"/><path d="M28.4 26.1 27.5 23.7 26.8 21.2 26.0 18.7 25.2 16.2 24.3 13.8 23.5 11.3 22.5 8.9 21.6 6.5 20.7 4.0" stroke-width="0.7" stroke-opacity="0.49"/><path d="M26.2 31.1 23.7 31.7 21.1 31.9 18.5 31.8 15.9 31.8 13.3 31.5 10.8 30.9 8.3 30.2 5.9 29.1 3.6 27.9" stroke-width="1.2" stroke-opacity="0.49"/><path d="M29.7 25.8 29.4 23.2 29.1 20.6 29.0 18.0 28.7 15.5 28.4 12.9 28.1 10.3 28.0 7.7 27.9 5.1 27.8 2.5" stroke-width="0.9" stroke-opacity="0.32"/><path d="M27.2 26.9 25.4 25.0 23.8 23.0 22.1 21.1 20.3 19.2 18.4 17.4 16.6 15.5" stroke-width="1.0" stroke-opacity="0.33"/><path d="M27.1 27.0 25.3 25.2 23.7 23.1 22.1 21.1 20.6 19.0 19.1 16.8 17.8 14.6" stroke-width="1.0" stroke-opacity="0.22"/><path d="M29.5 25.8 29.1 23.3 28.5 20.7 27.9 18.2 27.3 15.7 26.6 13.2 25.8 10.7 25.1 8.2 24.2 5.8" stroke-width="1.2" stroke-opacity="0.55"/><path d="M26.7 27.6 24.6 26.0 22.5 24.4 20.3 23.0 18.1 21.7 16.0 20.2 13.9 18.7" stroke-width="1.1" stroke-opacity="0.46"/><path d="M31.3 33.6 32.0 36.1 32.3 38.7 32.3 41.3 31.9 43.8 31.1 46.3 30.0 48.7 28.5 50.8" stroke-width="0.5" stroke-opacity="0.20"/><path d="M33.4 27.7 35.8 26.6 38.1 25.5 40.5 24.4 43.0 23.6 45.5 22.9 48.0 22.5 50.6 22.2" stroke-width="1.2" stroke-opacity="0.32"/><path d="M33.0 32.5 34.8 34.4 36.5 36.3 38.1 38.4 39.7 40.4 41.3 42.4 43.0 44.4 44.6 46.5 46.1 48.6 47.7 50.7" stroke-width="0.7" stroke-opacity="0.58"/><path d="M34.0 29.3 36.6 29.2 39.2 29.1 41.8 29.2 44.4 29.3 47.0 29.4 49.6 29.4 52.2 29.4 54.7 29.5" stroke-width="0.7" stroke-opacity="0.63"/><path d="M26.7 32.1 24.6 33.6 22.4 34.9 20.1 36.1 17.7 37.1 15.3 38.1 12.8 38.8 10.3 39.6" stroke-width="1.0" stroke-opacity="0.28"/><path d="M30.9 33.7 31.1 36.3 31.3 38.9 31.3 41.5 31.1 44.1 30.7 46.7 30.1 49.2 29.2 51.6 28.2 54.0" stroke-width="0.9" stroke-opacity="0.49"/><path d="M33.8 30.9 36.2 31.9 38.6 33.0 40.9 34.2 43.1 35.6 45.1 37.2 46.9 39.1 48.6 41.1" stroke-width="0.7" stroke-opacity="0.56"/><path d="M26.1 29.0 23.5 28.4 21.0 27.9 18.5 27.4 15.9 27.1 13.3 26.8 10.7 26.6 8.1 26.7 5.5 26.9" stroke-width="1.3" stroke-opacity="0.40"/><path d="M31.7 33.4 32.5 35.9 33.2 38.4 33.7 40.9 33.7 43.5 33.7 46.1 33.4 48.7 33.0 51.3" stroke-width="1.2" stroke-opacity="0.34"/><path d="M33.6 28.1 36.1 27.2 38.5 26.4 41.0 25.5 43.5 25.0 46.1 24.4 48.6 24.0 51.2 23.7" stroke-width="0.8" stroke-opacity="0.51"/><path d="M31.0 33.7 31.6 36.2 31.7 38.8 31.5 41.4 31.0 44.0 30.1 46.4 29.1 48.8 27.8 51.0 26.3 53.2" stroke-width="0.7" stroke-opacity="0.25"/><path d="M31.8 26.2 33.1 24.0 34.7 21.9 36.5 20.1 38.4 18.3 40.5 16.7 42.7 15.4 45.1 14.3 47.6 13.7 50.1 13.2" stroke-width="1.3" stroke-opacity="0.47"/><path d="M26.0 29.4 23.4 29.3 20.8 29.0 18.2 29.0 15.6 29.1 13.0 29.3 10.5 29.7 7.9 30.0 5.3 30.3" stroke-width="0.6" stroke-opacity="0.28"/><path d="M32.1 26.4 33.6 24.3 35.3 22.3 37.1 20.4 38.9 18.6 41.0 17.0 43.2 15.7 45.6 14.6 48.1 13.9 50.6 13.3" stroke-width="0.6" stroke-opacity="0.42"/><path d="M33.0 32.5 34.9 34.3 36.8 36.0 38.6 37.9 40.4 39.8 42.0 41.8 43.5 43.9 45.0 46.0 46.4 48.2 47.8 50.4" stroke-width="0.8" stroke-opacity="0.53"/><path d="M26.8 27.4 24.8 25.7 22.9 24.0 21.0 22.2 19.1 20.4 17.3 18.6 15.6 16.6" stroke-width="1.2" stroke-opacity="0.54"/><path d="M26.1 29.0 23.5 28.6 20.9 28.4 18.3 28.4 15.7 28.4 13.1 28.3 10.5 28.3 7.9 28.3" stroke-width="0.8" stroke-opacity="0.21"/><path d="M26.0 29.3 23.5 28.7 21.0 28.1 18.5 27.4 16.0 26.7 13.4 26.1 10.9 25.4 8.4 24.7 5.9 23.9" stroke-width="0.7" stroke-opacity="0.54"/><path d="M32.8 32.7 34.5 34.6 36.0 36.8 37.4 38.9 38.6 41.2 39.9 43.5 41.2 45.8 42.3 48.1" stroke-width="1.1" stroke-opacity="0.42"/><path d="M29.7 25.8 29.6 23.2 29.2 20.6 29.0 18.0 28.6 15.5 28.2 12.9 27.8 10.3 27.3 7.8 26.7 5.3" stroke-width="0.8" stroke-opacity="0.26"/><path d="M26.1 28.9 23.6 28.4 21.0 28.1 18.4 28.0 15.8 28.0 13.2 28.2 10.6 28.6 8.0 28.9 5.5 29.4" stroke-width="0.6" stroke-opacity="0.35"/><path d="M32.5 33.0 34.0 35.0 35.4 37.3 36.5 39.6 37.4 42.0 38.2 44.5 38.8 47.0 39.3 49.6 39.7 52.2" stroke-width="1.1" stroke-opacity="0.52"/><path d="M31.9 33.3 32.8 35.8 33.2 38.3 33.5 40.9 33.3 43.5 32.7 46.0 31.7 48.4 30.4 50.7 28.6 52.6 26.8 54.4" stroke-width="0.8" stroke-opacity="0.48"/><path d="M33.8 31.0 36.1 32.2 38.3 33.7 40.2 35.4 41.9 37.4 43.5 39.5 44.9 41.7 46.1 43.9 47.2 46.3" stroke-width="0.9" stroke-opacity="0.54"/><path d="M26.2 28.5 23.8 27.5 21.4 26.5 19.0 25.4 16.7 24.2 14.4 23.0 12.1 21.9 9.7 21.0 7.3 19.9" stroke-width="1.2" stroke-opacity="0.49"/><path d="M27.0 27.1 25.1 25.4 23.3 23.5 21.6 21.5 19.8 19.6 17.9 17.9 16.0 16.2" stroke-width="1.2" stroke-opacity="0.60"/><path d="M33.3 27.6 35.5 26.2 37.8 24.9 40.0 23.6 42.4 22.5 44.8 21.6 47.4 21.1 49.9 20.6" stroke-width="0.7" stroke-opacity="0.26"/><path d="M26.1 29.1 23.5 28.6 21.0 28.0 18.4 27.5 15.9 27.1 13.3 27.0 10.7 26.7 8.1 26.3" stroke-width="1.3" stroke-opacity="0.56"/><path d="M27.7 33.1 26.1 35.1 24.5 37.1 22.7 39.1 21.1 41.1 19.4 43.1 17.6 45.0 15.8 46.8" stroke-width="0.6" stroke-opacity="0.35"/><path d="M26.0 30.2 23.4 30.3 20.8 30.3 18.3 29.9 15.8 29.1 13.5 28.0 11.3 26.5 9.3 24.8 7.6 22.8 6.2 20.7 5.0 18.3" stroke-width="0.7" stroke-opacity="0.43"/><path d="M32.8 32.7 34.4 34.7 36.1 36.7 37.6 38.8 39.1 40.9 40.5 43.1 42.0 45.3 43.3 47.5 44.6 49.7" stroke-width="1.0" stroke-opacity="0.61"/><path d="M28.1 33.3 26.9 35.6 25.7 37.9 24.5 40.2 23.2 42.5 21.8 44.7 20.2 46.8 18.6 48.8 17.1 50.9 15.5 52.9 13.9 55.0" stroke-width="0.6" stroke-opacity="0.38"/><path d="M27.1 27.0 25.4 25.1 23.8 23.0 22.5 20.8 21.0 18.7 19.4 16.6 17.8 14.5" stroke-width="0.8" stroke-opacity="0.25"/><path d="M33.8 31.0 36.2 32.0 38.5 33.3 40.7 34.6 42.9 36.0 44.9 37.6 46.9 39.3 48.8 41.1 50.5 43.1" stroke-width="0.6" stroke-opacity="0.39"/><path d="M26.9 27.3 24.9 25.6 23.1 23.7 21.3 21.8 19.7 19.8 18.0 17.8 16.4 15.8 15.1 13.5" stroke-width="0.8" stroke-opacity="0.55"/><path d="M28.0 26.3 26.9 24.0 25.9 21.6 25.1 19.1 24.5 16.6 24.0 14.0 23.8 11.4 23.6 8.8 23.4 6.2" stroke-width="1.2" stroke-opacity="0.38"/><path d="M29.7 33.8 29.5 36.4 29.0 38.9 28.5 41.5 28.0 44.0 27.3 46.5 26.6 49.0 25.9 51.5 24.9 54.0 23.9 56.4" stroke-width="1.2" stroke-opacity="0.64"/><path d="M26.0 29.7 23.4 29.3 20.9 28.7 18.5 27.6 16.3 26.3 14.2 24.7 12.5 22.8 11.0 20.6 9.8 18.4" stroke-width="0.7" stroke-opacity="0.46"/><path d="M26.0 29.4 23.4 29.3 20.8 29.1 18.2 28.8 15.7 28.6 13.1 28.5 10.5 28.5 7.9 28.4 5.3 28.4" stroke-width="1.0" stroke-opacity="0.59"/><path d="M26.1 30.6 23.5 30.9 20.9 30.9 18.3 30.9 15.7 30.6 13.2 30.0 10.7 29.2 8.4 28.0 6.2 26.7 4.2 25.0 2.3 23.2" stroke-width="1.3" stroke-opacity="0.33"/><path d="M28.5 26.1 27.9 23.6 27.5 21.0 27.5 18.4 27.6 15.8 27.6 13.2 28.0 10.6 28.7 8.1" stroke-width="1.1" stroke-opacity="0.28"/><path d="M26.5 31.7 24.2 32.9 21.8 34.0 19.5 35.1 17.1 36.2 14.6 37.0 12.1 37.6 9.5 38.0 7.0 38.4" stroke-width="1.1" stroke-opacity="0.62"/><path d="M30.3 25.8 30.3 23.2 30.2 20.6 30.2 18.0 30.2 15.4 30.0 12.8 29.8 10.2 29.7 7.6 29.5 5.0 29.4 2.4" stroke-width="1.1" stroke-opacity="0.54"/><path d="M32.5 26.7 34.3 24.8 36.4 23.2 38.6 21.9 40.9 20.7 43.3 19.8 45.9 19.1 48.4 18.6 51.0 18.5 53.6 18.8" stroke-width="0.9" stroke-opacity="0.44"/><path d="M33.5 27.8 35.9 26.8 38.3 26.0 40.9 25.4 43.4 24.8 46.0 24.4 48.6 24.2 51.2 24.2 53.8 24.5" stroke-width="0.9" stroke-opacity="0.24"/><path d="M26.5 31.8 24.2 32.9 21.9 34.1 19.4 35.0 17.0 35.8 14.5 36.5 11.9 37.1 9.4 37.5 6.8 37.7 4.2 38.0" stroke-width="1.0" stroke-opacity="0.38"/><path d="M33.2 32.2 35.3 33.8 37.3 35.4 39.2 37.2 41.0 39.1 42.6 41.1 44.1 43.2 45.3 45.5 46.4 47.9" stroke-width="1.2" stroke-opacity="0.25"/><path d="M26.3 28.3 23.9 27.2 21.5 26.4 19.0 25.6 16.5 24.8 14.0 24.0 11.5 23.4 9.0 22.9" stroke-width="0.9" stroke-opacity="0.51"/><path d="M26.1 30.6 23.5 31.0 20.9 31.2 18.3 31.1 15.7 31.0 13.2 30.5 10.7 29.7 8.2 28.9 5.9 27.7 3.7 26.4" stroke-width="1.0" stroke-opacity="0.35"/><path d="M30.0 25.8 30.0 23.2 29.9 20.6 29.7 18.0 29.5 15.4 29.5 12.8 29.6 10.2 29.8 7.6" stroke-width="1.1" stroke-opacity="0.29"/><path d="M26.0 30.3 23.4 30.3 20.9 29.9 18.3 29.4 15.9 28.5 13.4 27.6 11.1 26.5 8.9 25.0 6.9 23.4 4.9 21.8" stroke-width="1.2" stroke-opacity="0.47"/><path d="M34.0 29.9 36.6 30.0 39.2 29.9 41.8 30.1 44.4 30.3 47.0 30.6 49.6 30.9 52.1 31.2" stroke-width="1.1" stroke-opacity="0.64"/><path d="M26.1 30.7 23.5 31.0 20.9 30.9 18.3 30.7 15.8 30.2 13.3 29.3 11.1 28.0 8.9 26.6 6.8 25.0" stroke-width="1.0" stroke-opacity="0.22"/><path d="M27.0 27.1 25.1 25.4 23.2 23.6 21.3 21.8 19.4 20.0 17.5 18.2 15.6 16.5 13.6 14.9" stroke-width="1.0" stroke-opacity="0.31"/><path d="M29.1 33.7 28.2 36.1 27.3 38.6 26.3 41.0 25.2 43.3 24.0 45.6 22.7 47.9 21.5 50.2 20.0 52.3" stroke-width="0.9" stroke-opacity="0.33"/><path d="M31.7 26.2 32.9 23.9 34.2 21.6 35.9 19.7 37.8 17.9 39.9 16.3 42.0 14.8 44.1 13.3" stroke-width="1.1" stroke-opacity="0.46"/><path d="M33.6 28.1 36.0 27.0 38.3 25.9 40.7 24.9 43.1 23.9 45.6 23.0 48.0 22.2 50.5 21.4 53.0 20.7" stroke-width="1.0" stroke-opacity="0.51"/><path d="M31.8 33.4 32.4 35.9 32.7 38.5 32.5 41.1 32.2 43.7 31.6 46.2 30.6 48.6 29.5 50.9" stroke-width="1.2" stroke-opacity="0.42"/><path d="M26.1 28.9 23.6 28.3 21.0 27.8 18.5 27.2 16.0 26.6 13.4 26.2 10.8 25.7 8.3 25.4 5.7 25.2" stroke-width="0.5" stroke-opacity="0.46"/><path d="M26.0 29.9 23.4 29.8 20.8 29.4 18.3 28.8 15.9 27.9 13.5 26.7 11.4 25.3 9.4 23.6 7.8 21.6 6.4 19.3" stroke-width="0.7" stroke-opacity="0.50"/><path d="M30.8 33.7 31.1 36.3 31.3 38.9 31.5 41.5 31.5 44.1 31.2 46.7 30.5 49.2 29.6 51.6 28.2 53.8" stroke-width="1.3" stroke-opacity="0.37"/><path d="M26.9 32.4 24.8 33.9 22.7 35.4 20.7 37.0 18.5 38.4 16.2 39.7 14.0 41.0 11.7 42.3" stroke-width="0.9" stroke-opacity="0.21"/><path d="M30.5 33.8 30.5 36.4 30.3 39.0 29.9 41.5 29.3 44.1 28.2 46.4 27.1 48.8 25.8 51.0 24.2 53.1" stroke-width="1.3" stroke-opacity="0.52"/><path d="M33.4 27.7 35.6 26.2 37.8 25.0 40.1 23.7 42.3 22.3 44.4 20.8 46.6 19.4 48.9 18.3 51.4 17.3" stroke-width="1.0" stroke-opacity="0.37"/><path d="M29.9 33.8 29.8 36.4 29.5 39.0 29.2 41.6 28.7 44.1 28.1 46.7 27.5 49.2 26.8 51.7 26.0 54.1" stroke-width="0.6" stroke-opacity="0.65"/><path d="M34.0 29.8 36.6 30.1 39.2 30.4 41.8 30.5 44.4 30.6 46.9 31.0 49.5 31.2 52.1 31.7 54.6 32.2" stroke-width="1.1" stroke-opacity="0.49"/><path d="M26.2 28.7 23.7 27.9 21.1 27.4 18.6 27.1 16.0 26.7 13.4 26.7 10.8 26.9 8.2 27.3 5.7 27.9 3.1 28.4" stroke-width="0.9" stroke-opacity="0.32"/><path d="M28.3 26.2 27.4 23.7 26.5 21.3 25.9 18.8 25.2 16.3 24.5 13.8 24.0 11.2 23.4 8.7 22.9 6.1" stroke-width="0.9" stroke-opacity="0.29"/><path d="M26.3 28.2 23.9 27.2 21.5 26.3 19.0 25.5 16.6 24.5 14.2 23.6 11.7 22.7 9.3 21.9" stroke-width="0.8" stroke-opacity="0.26"/><path d="M26.4 31.5 24.0 32.5 21.6 33.5 19.3 34.7 16.9 35.9 14.5 36.8 12.1 37.6 9.6 38.6 7.2 39.4" stroke-width="0.5" stroke-opacity="0.62"/><path d="M29.9 33.8 29.8 36.4 29.5 39.0 28.9 41.5 28.0 44.0 27.1 46.4 26.0 48.8 24.8 51.1 23.4 53.3" stroke-width="0.8" stroke-opacity="0.21"/><path d="M26.2 28.4 23.8 27.4 21.4 26.5 18.9 25.8 16.4 25.0 13.9 24.4 11.3 23.9 8.8 23.5" stroke-width="0.5" stroke-opacity="0.49"/><path d="M26.8 27.4 24.8 25.7 23.0 23.9 21.1 22.1 19.3 20.3 17.5 18.3 15.8 16.4" stroke-width="0.8" stroke-opacity="0.26"/><path d="M26.0 30.3 23.4 30.3 20.8 30.0 18.4 29.3 16.0 28.1 14.0 26.5 12.0 24.9 10.3 22.8 9.0 20.6 7.9 18.3" stroke-width="0.8" stroke-opacity="0.58"/><path d="M26.6 31.9 24.4 33.3 22.3 34.8 20.1 36.1 17.9 37.6 15.7 39.0 13.4 40.2 11.2 41.6" stroke-width="0.8" stroke-opacity="0.49"/><path d="M28.1 26.3 26.7 24.1 25.3 21.9 24.1 19.6 22.9 17.3 21.8 14.9 20.5 12.7 19.2 10.4 18.0 8.1" stroke-width="1.1" stroke-opacity="0.51"/><path d="M33.3 32.0 35.5 33.5 37.5 35.1 39.6 36.6 41.7 38.2 43.6 40.0 45.4 41.8 47.1 43.8 48.8 45.7" stroke-width="0.6" stroke-opacity="0.39"/><path d="M26.9 32.3 24.8 33.8 22.7 35.5 20.6 36.9 18.4 38.4 16.1 39.6 13.7 40.6 11.3 41.4 8.8 42.3" stroke-width="0.7" stroke-opacity="0.59"/><path d="M33.9 30.8 36.3 31.7 38.7 32.8 41.1 33.8 43.3 35.1 45.4 36.6 47.5 38.2 49.6 39.8 51.6 41.4" stroke-width="1.1" stroke-opacity="0.47"/><path d="M33.0 32.5 34.6 34.5 36.4 36.4 37.8 38.6 39.0 40.9 40.1 43.3 41.0 45.7 41.9 48.1 42.7 50.6" stroke-width="0.7" stroke-opacity="0.43"/><path d="M29.9 33.8 29.8 36.4 29.3 39.0 28.8 41.5 28.3 44.0 27.7 46.6 27.1 49.1 26.5 51.6 25.8 54.1 25.1 56.7" stroke-width="0.6" stroke-opacity="0.35"/><path d="M26.2 31.0 23.7 31.6 21.1 31.9 18.5 32.1 15.9 32.0 13.3 31.5 10.8 30.8 8.3 30.1 6.0 28.9 3.9 27.4 1.9 25.8" stroke-width="0.6" stroke-opacity="0.37"/><path d="M26.1 30.4 23.5 30.8 20.9 31.1 18.3 31.1 15.7 30.8 13.2 30.3 10.6 29.7 8.1 28.9 5.7 28.0" stroke-width="0.8" stroke-opacity="0.25"/><path d="M33.2 27.3 35.2 25.7 37.1 24.0 39.1 22.3 41.1 20.6 43.0 18.9 45.1 17.3 47.2 15.7" stroke-width="1.2" stroke-opacity="0.27"/><path d="M32.9 32.5 34.7 34.5 36.1 36.6 37.3 38.9 38.5 41.3 39.5 43.6 40.5 46.1 41.4 48.5 42.0 51.0 42.5 53.6 42.9 56.1" stroke-width="0.7" stroke-opacity="0.26"/><path d="M32.2 26.4 33.9 24.5 35.7 22.6 37.6 20.9 39.6 19.2 41.8 17.8 44.1 16.6 46.4 15.5 48.8 14.3" stroke-width="0.8" stroke-opacity="0.60"/><path d="M30.8 33.7 30.9 36.3 30.9 38.9 30.7 41.5 30.2 44.1 29.5 46.6 28.7 49.0" stroke-width="1.2" stroke-opacity="0.24"/><path d="M27.9 26.4 26.9 24.0 25.9 21.6 24.9 19.2 24.3 16.7 23.8 14.1 23.6 11.5 23.4 8.9 23.5 6.3 23.7 3.7" stroke-width="1.3" stroke-opacity="0.31"/><path d="M26.6 27.7 24.4 26.3 22.2 24.8 20.1 23.4 17.8 22.1 15.5 20.9 13.2 19.7" stroke-width="1.1" stroke-opacity="0.24"/><path d="M31.2 33.6 31.9 36.1 32.5 38.7 32.7 41.2 32.5 43.8 32.0 46.4 31.1 48.8 29.9 51.1" stroke-width="1.1" stroke-opacity="0.49"/><path d="M33.3 32.1 35.4 33.6 37.4 35.3 39.1 37.2 40.7 39.3 42.1 41.4 43.4 43.7 44.4 46.1" stroke-width="0.7" stroke-opacity="0.35"/><path d="M26.1 30.7 23.5 31.0 20.9 30.9 18.4 30.5 15.9 29.6 13.6 28.3 11.5 26.8 9.8 24.9 8.0 23.0 6.5 20.9" stroke-width="1.0" stroke-opacity="0.40"/><path d="M26.1 28.8 23.6 28.1 21.1 27.4 18.6 26.8 16.0 26.3 13.5 25.9 10.9 25.4 8.4 25.0 5.8 24.5" stroke-width="1.2" stroke-opacity="0.51"/><path d="M30.3 25.8 30.5 23.2 30.7 20.6 30.8 18.0 31.0 15.4 31.1 12.8 31.3 10.2 31.5 7.7 31.6 5.1" stroke-width="1.3" stroke-opacity="0.23"/><path d="M28.3 33.4 27.2 35.8 26.0 38.1 24.9 40.4 23.6 42.7 22.1 44.8 20.5 46.8 18.6 48.7 16.7 50.4 14.6 51.9 12.4 53.3" stroke-width="0.8" stroke-opacity="0.33"/><path d="M33.6 31.4 36.0 32.6 38.3 33.8 40.6 35.1 42.8 36.3 45.1 37.6 47.2 39.2 49.1 40.9 50.8 42.9" stroke-width="1.2" stroke-opacity="0.46"/><path d="M30.3 25.8 30.5 23.2 30.7 20.6 31.2 18.1 31.6 15.5 32.1 13.0 32.8 10.4 33.3 7.9 33.8 5.3" stroke-width="1.1" stroke-opacity="0.23"/><path d="M28.8 33.6 27.8 36.0 26.7 38.4 25.6 40.7 24.4 43.0 23.3 45.4 22.2 47.7 21.0 50.0 19.9 52.4" stroke-width="0.9" stroke-opacity="0.30"/><path d="M27.5 26.7 26.0 24.5 24.7 22.3 23.6 19.9 22.5 17.6 21.4 15.2 20.4 12.8 19.5 10.4" stroke-width="1.1" stroke-opacity="0.40"/><path d="M29.9 25.8 29.9 23.2 30.0 20.6 30.1 18.0 30.1 15.4 30.1 12.8 30.3 10.2 30.5 7.6 31.0 5.1" stroke-width="1.1" stroke-opacity="0.37"/><path d="M33.1 32.3 35.1 34.0 37.0 35.8 38.8 37.7 40.4 39.7 41.9 41.8 43.0 44.2 44.1 46.5 45.0 49.0" stroke-width="1.0" stroke-opacity="0.43"/><path d="M30.3 33.8 30.2 36.4 29.8 39.0 29.2 41.5 28.1 43.8 26.9 46.1 25.5 48.3 23.9 50.4" stroke-width="0.7" stroke-opacity="0.47"/><path d="M27.8 26.4 26.4 24.3 25.0 22.1 23.7 19.9 22.6 17.5 21.6 15.1 20.7 12.6 19.9 10.2 19.0 7.7 18.3 5.2" stroke-width="0.9" stroke-opacity="0.29"/><path d="M33.9 30.8 36.4 31.5 38.9 32.2 41.2 33.3 43.5 34.7 45.6 36.1 47.6 37.8 49.4 39.7" stroke-width="1.3" stroke-opacity="0.30"/><path d="M26.0 30.3 23.4 30.3 20.8 29.9 18.3 29.4 15.8 28.8 13.4 27.8 11.2 26.4 9.1 24.8 7.4 22.8" stroke-width="1.0" stroke-opacity="0.42"/><path d="M28.9 33.7 28.2 36.2 27.3 38.6 26.4 41.0 25.3 43.4 24.0 45.6 22.7 47.9 21.3 50.0 19.7 52.1 17.9 54.0" stroke-width="0.6" stroke-opacity="0.65"/><path d="M28.7 26.0 28.0 23.5 27.5 21.0 27.1 18.4 26.6 15.8 26.2 13.3 26.1 10.7 26.2 8.1 26.5 5.5" stroke-width="0.6" stroke-opacity="0.57"/><path d="M29.5 33.8 28.8 36.3 28.1 38.8 27.4 41.3 26.4 43.7 25.5 46.1 24.5 48.5 23.4 50.9 22.0 53.1 20.5 55.2" stroke-width="0.7" stroke-opacity="0.58"/><path d="M30.0 33.8 29.9 36.4 29.8 39.0 29.7 41.6 29.4 44.2 29.0 46.7 28.4 49.3 27.8 51.8 27.3 54.4" stroke-width="1.2" stroke-opacity="0.26"/><path d="M26.1 29.1 23.5 28.8 20.9 28.7 18.3 28.8 15.7 28.9 13.1 29.1 10.5 29.6 8.0 30.1" stroke-width="1.0" stroke-opacity="0.41"/><path d="M34.0 30.0 36.6 30.3 39.2 30.6 41.7 30.9 44.3 31.2 46.9 31.4 49.5 31.6 52.1 31.9 54.7 32.2" stroke-width="0.6" stroke-opacity="0.56"/><path d="M26.1 30.4 23.5 30.7 20.9 30.6 18.3 30.3 15.7 29.9 13.3 29.0 11.0 27.7 9.0 26.0 7.3 24.1 5.7 22.1 4.4 19.8" stroke-width="0.8" stroke-opacity="0.41"/></g><g id="nr3" fill="none" stroke="currentColor" stroke-linecap="round" stroke-linejoin="round"><polygon points="45.8,28.3 45.9,31.2 45.4,34.2 44.5,37.0 43.0,39.8 41.0,42.2 38.6,44.3 35.7,46.0 32.6,47.2 29.3,47.8 26.1,46.7 23.2,45.1 20.8,43.0 18.9,40.7 17.1,38.5 15.2,36.4 13.7,34.0 12.6,31.2 12.1,28.3 12.8,25.4 14.0,22.7 15.7,20.4 17.6,18.5 19.5,16.6 21.4,14.7 23.7,13.0 26.4,11.8 29.3,11.1 32.4,11.0 35.4,11.5 38.4,12.5 41.2,14.1 43.5,16.4 44.9,19.3 45.7,22.3 46.0,25.3" fill="currentColor" fill-opacity="0.12" stroke="none" filter="url(#bl2)"/><path d="M25.9 30.5 23.8 32.0 21.8 33.6 19.9 35.4 18.1 37.2 16.4 39.2 14.8 41.3 13.3 43.4" stroke-width="0.9" stroke-opacity="0.27"/><path d="M26.4 31.1 24.6 32.9 22.9 34.9 21.1 36.8 19.3 38.7 17.7 40.7 16.1 42.8" stroke-width="0.4" stroke-opacity="0.34"/><path d="M32.4 30.8 34.6 32.3 36.7 33.7 38.9 35.2 40.9 36.8 43.0 38.3 45.2 39.8 47.4 41.2 49.7 42.4" stroke-width="0.7" stroke-opacity="0.30"/><path d="M25.6 29.9 23.2 30.8 20.8 31.8 18.4 32.9 16.0 33.9 13.6 34.9 11.2 35.9 8.9 36.9" stroke-width="0.5" stroke-opacity="0.21"/><path d="M30.4 24.5 31.3 22.0 32.3 19.6 33.1 17.1 33.9 14.7 34.5 12.1" stroke-width="0.4" stroke-opacity="0.29"/><path d="M26.9 25.1 25.3 23.1 23.6 21.1 21.7 19.3 19.9 17.4 18.1 15.5 16.4 13.6 14.5 11.8" stroke-width="0.6" stroke-opacity="0.11"/><path d="M26.4 25.5 24.6 23.7 22.8 21.8 21.0 19.9 19.2 18.1" stroke-width="0.7" stroke-opacity="0.17"/><path d="M33.3 28.5 35.9 28.6 38.5 28.6 41.1 28.7 43.7 28.9 46.3 29.0 48.9 29.2" stroke-width="0.5" stroke-opacity="0.12"/><path d="M25.3 28.0 22.7 27.7 20.1 27.4 17.6 27.2 15.0 27.0 12.4 26.8 9.8 26.5" stroke-width="0.9" stroke-opacity="0.12"/><path d="M29.2 32.3 29.3 34.9 29.4 37.5 29.3 40.1 29.1 42.7 28.9 45.3 28.5 47.9 28.0 50.4 27.5 52.9" stroke-width="0.7" stroke-opacity="0.31"/><path d="M29.5 32.3 29.7 34.9 30.1 37.5 30.4 40.0 30.9 42.6 31.2 45.2 31.5 47.8 32.0 50.3" stroke-width="0.7" stroke-opacity="0.23"/><path d="M27.6 31.9 26.4 34.2 25.3 36.6 24.1 38.9 22.8 41.1 21.4 43.4 20.0 45.5" stroke-width="0.6" stroke-opacity="0.34"/><path d="M29.1 24.3 28.9 21.7 28.8 19.1 28.8 16.5 28.6 13.9 28.4 11.3 28.2 8.7" stroke-width="0.5" stroke-opacity="0.13"/><path d="M30.8 32.0 31.9 34.4 33.0 36.7 34.2 39.0 35.4 41.3" stroke-width="0.5" stroke-opacity="0.33"/><path d="M26.6 25.4 24.8 23.5 23.0 21.6 21.3 19.7 19.5 17.7 17.9 15.7 16.2 13.8" stroke-width="0.8" stroke-opacity="0.13"/><path d="M33.3 28.7 35.9 29.1 38.4 29.6 41.0 29.8 43.6 30.1 46.2 30.4 48.7 30.9" stroke-width="0.8" stroke-opacity="0.16"/><path d="M28.7 32.3 28.4 34.8 28.0 37.4 27.5 40.0 27.3 42.6 27.2 45.2" stroke-width="0.6" stroke-opacity="0.32"/><path d="M25.4 29.0 22.8 29.3 20.2 29.5 17.6 29.7 15.0 30.0 12.4 30.0 9.8 30.2 7.2 30.4" stroke-width="0.8" stroke-opacity="0.22"/><path d="M26.8 25.2 25.0 23.3 23.2 21.4 21.3 19.7" stroke-width="0.5" stroke-opacity="0.34"/><path d="M25.6 29.8 23.3 31.0 21.0 32.3 18.8 33.6 16.5 34.9 14.3 36.3 12.1 37.6 9.9 38.9" stroke-width="0.6" stroke-opacity="0.22"/><path d="M33.3 28.4 35.9 28.6 38.5 28.9 41.1 29.1 43.6 29.4 46.2 29.9" stroke-width="0.5" stroke-opacity="0.30"/><path d="M25.3 28.9 22.8 29.2 20.2 29.7 17.7 30.2 15.1 30.5" stroke-width="0.7" stroke-opacity="0.19"/><path d="M33.2 27.4 35.7 26.8 38.3 26.3 40.8 25.8" stroke-width="0.6" stroke-opacity="0.34"/><path d="M27.3 31.8 26.1 34.1 25.0 36.4 24.2 38.9 23.5 41.4 22.9 43.9 22.2 46.4 21.6 49.0 21.0 51.5" stroke-width="0.8" stroke-opacity="0.26"/><path d="M25.8 26.4 23.5 25.2 21.2 23.9 19.0 22.6 16.8 21.2 14.7 19.6 12.7 17.9" stroke-width="0.7" stroke-opacity="0.13"/><path d="M25.3 27.7 22.8 27.3 20.2 27.0 17.6 26.8 15.0 26.3" stroke-width="0.7" stroke-opacity="0.12"/><path d="M25.3 28.0 22.7 27.9 20.1 28.0 17.5 28.0" stroke-width="0.6" stroke-opacity="0.10"/><path d="M29.4 32.3 29.5 34.9 29.7 37.5 30.0 40.1 30.5 42.6 31.1 45.1 31.7 47.7 32.3 50.2" stroke-width="0.7" stroke-opacity="0.14"/><path d="M33.2 29.3 35.6 30.1 38.1 31.1 40.5 32.0 42.9 33.1 45.3 34.1 47.6 35.2 49.9 36.4" stroke-width="0.6" stroke-opacity="0.25"/><path d="M33.3 28.0 35.9 28.0 38.5 28.0 41.1 28.0 43.7 27.9" stroke-width="0.4" stroke-opacity="0.12"/><path d="M33.3 27.8 35.8 27.3 38.4 27.0 41.0 26.8 43.6 26.8 46.2 26.8 48.8 26.9 51.4 27.1" stroke-width="0.5" stroke-opacity="0.33"/><path d="M28.0 32.1 27.2 34.6 26.3 37.0 25.4 39.4 24.7 41.9 24.0 44.5 23.5 47.0" stroke-width="0.9" stroke-opacity="0.19"/><path d="M33.3 28.9 35.8 29.3 38.4 29.8 40.9 30.3 43.4 31.0 46.0 31.5 48.6 31.8" stroke-width="0.6" stroke-opacity="0.26"/><path d="M25.8 30.3 23.7 31.7 21.5 33.2 19.3 34.5 17.1 36.0 15.0 37.5 12.8 38.9" stroke-width="0.6" stroke-opacity="0.35"/><path d="M33.1 27.1 35.5 26.2 38.0 25.2 40.3 24.2 42.7 23.1" stroke-width="0.4" stroke-opacity="0.17"/><path d="M25.9 30.4 23.7 31.8 21.4 33.1 19.1 34.3 16.8 35.4" stroke-width="0.5" stroke-opacity="0.28"/><path d="M26.6 31.2 24.8 33.2 23.0 35.0 21.3 37.0" stroke-width="0.6" stroke-opacity="0.24"/><path d="M29.6 32.3 29.7 34.9 29.5 37.5 29.4 40.1 29.2 42.7 29.1 45.3" stroke-width="0.6" stroke-opacity="0.13"/><path d="M32.9 26.5 35.3 25.6 37.6 24.4 39.9 23.1 42.2 21.9 44.3 20.4 46.4 18.8" stroke-width="0.5" stroke-opacity="0.10"/><path d="M27.1 31.6 25.7 33.8 24.5 36.1 23.3 38.4 22.2 40.8 21.0 43.1 20.1 45.5 19.3 48.0 18.7 50.5" stroke-width="0.8" stroke-opacity="0.33"/><path d="M33.2 27.4 35.8 27.0 38.3 26.6 40.9 26.4 43.5 26.0 46.0 25.3" stroke-width="0.6" stroke-opacity="0.31"/><path d="M27.8 24.6 26.8 22.2 25.9 19.8 24.9 17.4 24.0 14.9 23.0 12.5 21.9 10.1" stroke-width="0.6" stroke-opacity="0.18"/><path d="M28.9 32.3 28.6 34.9 28.3 37.4 28.0 40.0 27.7 42.6" stroke-width="0.7" stroke-opacity="0.30"/><path d="M33.3 27.9 35.9 27.8 38.5 27.8 41.1 27.8 43.7 27.8 46.3 27.8 48.9 27.9 51.5 28.0" stroke-width="0.8" stroke-opacity="0.15"/><path d="M32.9 30.0 35.3 31.0 37.8 31.8 40.2 32.7 42.7 33.6 45.1 34.4 47.6 35.3 50.0 36.2" stroke-width="0.7" stroke-opacity="0.17"/><path d="M29.7 32.3 30.0 34.9 30.4 37.4 31.1 39.9 31.7 42.5 32.4 45.0 33.0 47.5 33.4 50.1 33.7 52.7" stroke-width="0.5" stroke-opacity="0.13"/><path d="M31.2 24.8 32.3 22.4 33.2 20.0 34.1 17.6 34.8 15.0" stroke-width="0.8" stroke-opacity="0.11"/><path d="M28.4 32.2 27.6 34.7 26.9 37.2 26.4 39.7 25.7 42.2 25.0 44.7 24.1 47.2 23.1 49.6 22.1 52.0" stroke-width="0.8" stroke-opacity="0.33"/><path d="M26.3 25.6 24.2 24.1 22.0 22.7 19.7 21.5 17.4 20.3 15.1 19.1 12.9 17.7" stroke-width="0.6" stroke-opacity="0.24"/><path d="M25.8 30.3 23.6 31.6 21.3 32.8 18.8 33.7 16.4 34.7 13.9 35.4 11.5 36.2" stroke-width="0.8" stroke-opacity="0.21"/></g><g id="nr4" fill="none" stroke="currentColor" stroke-linecap="round" stroke-linejoin="round"><polygon points="45.1,28.9 45.2,31.8 44.7,34.8 43.8,37.6 42.3,40.4 40.3,42.9 38.0,45.1 35.2,47.0 32.0,48.3 28.6,49.1 25.2,48.0 22.2,46.4 19.7,44.3 17.7,41.9 15.8,39.6 13.9,37.4 12.3,34.8 11.2,32.0 10.6,28.9 11.5,25.9 12.9,23.2 14.7,20.9 16.9,19.0 18.6,17.0 20.3,14.6 22.6,12.5 25.4,10.7 28.6,9.4 32.0,9.4 35.5,9.9 38.8,11.1 42.0,12.9 44.3,15.7 45.5,19.2 46.0,22.6 45.8,25.9" fill="currentColor" fill-opacity="0.2" stroke="none" filter="url(#bl2)"/><path d="M32.0 31.1 33.8 32.9 35.1 35.1 35.9 37.6 36.8 40.1" stroke-width="0.6" stroke-opacity="0.49"/><path d="M32.5 28.0 35.0 27.4 37.5 26.6 40.1 26.3 42.7 25.9 45.2 25.6 47.8 25.6" stroke-width="0.7" stroke-opacity="0.22"/><path d="M29.1 32.9 28.8 35.5 29.1 38.0 29.8 40.5 30.4 43.1 30.5 45.7 31.0 48.2 31.0 50.8" stroke-width="0.6" stroke-opacity="0.32"/><path d="M30.5 25.4 31.3 22.9 31.8 20.4 31.7 17.8 31.4 15.2 31.4 12.6 30.9 10.1 30.2 7.5 29.4 5.1 28.1 2.8 26.3 1.0" stroke-width="0.7" stroke-opacity="0.37"/><path d="M24.7 29.7 22.1 29.6 19.6 28.9 17.0 28.6 14.5 27.7" stroke-width="0.7" stroke-opacity="0.32"/><path d="M28.1 32.9 28.0 35.5 28.1 38.1 28.4 40.6 28.8 43.2 29.9 45.6 31.5 47.6 33.1 49.7" stroke-width="0.6" stroke-opacity="0.27"/><path d="M27.9 32.8 27.0 35.3 26.1 37.7 25.1 40.1 23.7 42.3 22.0 44.3 20.1 46.0 18.5 48.1 16.6 49.8 14.9 51.8" stroke-width="0.6" stroke-opacity="0.41"/><path d="M32.4 27.6 34.7 26.4 37.2 25.7 39.6 24.6 41.9 23.6 44.4 22.8 46.9 22.2 49.5 21.6" stroke-width="0.7" stroke-opacity="0.20"/><path d="M32.6 28.5 35.1 27.9 37.6 27.3 40.2 27.0 42.8 26.5 45.2 25.5 47.3 24.1" stroke-width="0.8" stroke-opacity="0.28"/><path d="M24.6 28.5 22.1 27.8 19.7 26.9 17.6 25.4 15.3 24.2 12.9 23.1" stroke-width="0.6" stroke-opacity="0.31"/><path d="M25.0 30.7 22.5 31.3 20.1 32.3 18.0 33.8 15.7 35.1 13.5 36.5" stroke-width="0.4" stroke-opacity="0.50"/><path d="M28.0 24.9 27.3 22.4 27.2 19.8 27.0 17.3 27.3 14.7 28.5 12.4 29.8 10.1 31.0 7.8 32.6 5.8 34.5 4.0" stroke-width="0.7" stroke-opacity="0.23"/><path d="M26.1 32.1 24.6 34.1 22.5 35.7 20.3 37.0" stroke-width="0.5" stroke-opacity="0.25"/><path d="M25.0 27.2 22.7 26.0 20.9 24.1 19.2 22.1 17.7 20.0 15.7 18.3" stroke-width="0.6" stroke-opacity="0.21"/><path d="M32.5 28.0 35.1 27.7 37.5 26.7 40.0 26.2 42.6 26.0 45.1 25.2 47.7 25.0 50.3 25.4" stroke-width="0.9" stroke-opacity="0.24"/><path d="M32.1 26.9 34.0 25.1 36.1 23.7 37.9 21.8 39.8 20.0 42.1 18.7" stroke-width="0.6" stroke-opacity="0.33"/><path d="M25.1 30.9 22.9 32.2 20.5 33.3 18.0 33.7 15.6 34.9" stroke-width="0.6" stroke-opacity="0.53"/><path d="M27.6 32.8 26.3 35.0 24.7 37.1 22.9 38.9 20.6 40.2 18.6 41.8 16.6 43.6 14.4 44.9 12.2 46.3 9.7 47.1" stroke-width="0.9" stroke-opacity="0.49"/><path d="M25.2 26.8 22.8 25.8 20.2 25.5 17.7 24.7 15.6 23.3 13.6 21.6 11.6 19.9 9.5 18.4" stroke-width="0.9" stroke-opacity="0.48"/><path d="M32.6 28.5 35.1 28.0 37.7 27.8 40.2 27.1 42.6 26.1 45.1 25.2 47.5 24.3 50.1 24.3" stroke-width="0.7" stroke-opacity="0.24"/><path d="M29.8 25.1 31.3 22.9 33.1 21.1 35.1 19.4 37.3 18.0 39.1 16.1 40.8 14.2 42.5 12.2 44.6 10.6 46.2 8.6" stroke-width="0.5" stroke-opacity="0.30"/><path d="M29.8 32.7 30.9 35.1 32.5 37.1 34.7 38.6 36.6 40.3 38.6 41.9 40.1 44.1 41.9 45.9 43.1 48.2 44.6 50.4 45.4 52.8" stroke-width="0.9" stroke-opacity="0.36"/><path d="M32.0 31.0 34.0 32.6 36.4 33.8 38.4 35.4 40.5 36.9 42.8 38.2 45.3 38.9" stroke-width="0.4" stroke-opacity="0.38"/><path d="M31.3 31.9 32.8 34.0 34.4 36.0 36.4 37.7 38.3 39.5 40.3 41.1 41.9 43.2 43.2 45.4" stroke-width="0.8" stroke-opacity="0.31"/><path d="M29.0 24.9 28.7 22.3 28.3 19.8 28.2 17.2 27.6 14.6 26.4 12.3 25.3 10.0" stroke-width="0.7" stroke-opacity="0.49"/><path d="M31.3 25.9 32.6 23.7 34.2 21.6 35.3 19.3 36.7 17.1 37.7 14.7 38.7 12.3 40.0 10.1 41.6 8.0 43.4 6.1 45.6 4.6" stroke-width="0.6" stroke-opacity="0.30"/><path d="M30.5 25.4 32.3 23.6 34.6 22.2 37.0 21.4 39.5 20.5 42.1 20.1 44.6 19.6" stroke-width="0.5" stroke-opacity="0.53"/><path d="M25.5 26.4 23.5 24.7 21.5 23.0 19.2 21.9" stroke-width="0.8" stroke-opacity="0.38"/><path d="M24.6 29.4 22.2 30.3 19.9 31.6 18.0 33.3 15.9 34.9 14.2 36.8 12.2 38.5 10.0 39.8" stroke-width="0.8" stroke-opacity="0.59"/><path d="M24.6 28.4 22.1 28.0 19.5 27.4 16.9 27.3 14.4 26.8 11.9 25.9 9.4 25.2" stroke-width="0.4" stroke-opacity="0.43"/><path d="M28.7 32.9 28.3 35.5 27.3 37.9 26.3 40.3 25.0 42.5 24.1 45.0 23.2 47.4 22.2 49.8 21.7 52.3 21.1 54.9" stroke-width="0.7" stroke-opacity="0.27"/><path d="M29.4 25.0 29.5 22.4 30.1 19.9 31.0 17.4 31.5 14.9 31.4 12.3 31.2 9.7 30.7 7.1 30.3 4.5 29.8 2.0" stroke-width="0.4" stroke-opacity="0.32"/><path d="M24.7 27.8 22.3 27.0 19.7 26.5 17.3 25.6 15.0 24.5 12.5 23.6" stroke-width="0.5" stroke-opacity="0.59"/><path d="M30.4 32.5 31.8 34.6 33.7 36.5 35.0 38.7 36.3 41.0 38.0 42.9" stroke-width="0.4" stroke-opacity="0.44"/><path d="M28.8 32.9 28.6 35.5 28.7 38.1 29.2 40.6 29.1 43.2 28.2 45.7 27.2 48.1 26.2 50.5 25.1 52.8" stroke-width="0.5" stroke-opacity="0.27"/><path d="M31.9 31.1 34.4 31.9 36.6 33.3 38.7 34.8 40.4 36.8 42.6 38.1" stroke-width="0.8" stroke-opacity="0.51"/><path d="M27.8 25.0 27.9 22.4 28.0 19.8 28.3 17.2 27.9 14.6 27.9 12.0 27.1 9.5 26.3 7.1 25.9 4.5 25.0 2.1" stroke-width="0.6" stroke-opacity="0.47"/><path d="M32.6 29.3 35.1 30.1 37.7 30.2 40.2 29.7 42.5 28.4 44.8 27.3 47.4 26.9 49.7 25.7" stroke-width="0.8" stroke-opacity="0.42"/><path d="M29.1 32.9 29.8 35.4 30.9 37.8 32.2 40.0 33.9 41.9 35.7 43.8 37.3 45.8 39.3 47.5" stroke-width="0.6" stroke-opacity="0.57"/><path d="M24.9 30.4 22.4 31.0 20.1 32.4 17.8 33.4 15.2 34.0 12.7 34.4 10.1 34.3 7.5 34.0" stroke-width="0.8" stroke-opacity="0.26"/><path d="M31.9 26.6 34.1 25.2 36.5 24.3 38.8 23.1 41.1 21.8 43.1 20.2 45.5 19.2" stroke-width="0.6" stroke-opacity="0.24"/><path d="M31.7 26.4 33.2 24.3 34.7 22.2 36.8 20.5 38.5 18.6 40.2 16.6" stroke-width="0.4" stroke-opacity="0.34"/><path d="M24.8 27.7 22.3 27.0 19.7 26.5 17.1 26.6 14.6 26.2" stroke-width="0.8" stroke-opacity="0.25"/><path d="M25.2 31.0 22.8 32.0 20.5 33.2 18.3 34.7 16.1 36.0 13.6 36.8 11.1 37.5 8.5 37.6" stroke-width="0.9" stroke-opacity="0.22"/><path d="M32.3 27.3 34.7 26.4 37.2 25.7 39.7 25.1 42.3 24.5 44.9 24.3 47.4 23.7 49.9 22.9" stroke-width="0.4" stroke-opacity="0.58"/><path d="M25.0 27.1 22.9 25.6 20.7 24.3 18.9 22.4 16.9 20.8 15.4 18.6 14.5 16.2" stroke-width="0.9" stroke-opacity="0.59"/><path d="M26.8 25.3 25.8 22.9 25.5 20.3 25.2 17.8 24.7 15.2" stroke-width="0.7" stroke-opacity="0.40"/><path d="M30.0 32.7 30.3 35.2 31.1 37.7 32.3 40.0 33.2 42.4 34.5 44.7 36.3 46.6" stroke-width="0.8" stroke-opacity="0.48"/><path d="M29.5 25.0 29.3 22.4 29.0 19.8 28.3 17.3 27.5 14.9 26.0 12.7 24.1 11.0 21.8 9.8" stroke-width="0.9" stroke-opacity="0.29"/><path d="M29.2 32.9 29.2 35.5 29.8 38.0 29.7 40.6 29.9 43.2" stroke-width="0.4" stroke-opacity="0.29"/><path d="M27.2 32.7 26.1 35.0 25.1 37.4 24.2 39.8 23.0 42.1 21.7 44.4 20.3 46.6 19.3 49.0 18.0 51.2 17.0 53.6" stroke-width="0.8" stroke-opacity="0.56"/><path d="M32.4 30.0 35.0 30.1 37.6 30.2 40.2 30.4 42.8 31.0 45.4 30.9" stroke-width="0.4" stroke-opacity="0.33"/><path d="M26.3 32.1 24.3 33.9 22.9 36.0 21.8 38.4 20.2 40.5 18.3 42.2 16.2 43.7 13.7 44.6" stroke-width="0.4" stroke-opacity="0.41"/><path d="M29.3 32.8 29.3 35.4 30.0 38.0 30.9 40.4 32.5 42.4 34.3 44.3 36.5 45.8 38.4 47.5" stroke-width="0.7" stroke-opacity="0.30"/><path d="M29.5 25.0 30.9 22.8 32.3 20.6 34.0 18.6 35.8 16.8 37.7 15.0 40.0 13.8 42.1 12.3 44.2 10.7" stroke-width="0.5" stroke-opacity="0.42"/><path d="M29.3 32.8 30.1 35.3 31.4 37.5 32.0 40.1 33.2 42.4 33.9 44.9 33.9 47.5 34.1 50.1 33.9 52.7 33.7 55.3" stroke-width="0.6" stroke-opacity="0.42"/><path d="M24.6 28.5 22.0 28.9 19.5 28.6 16.9 28.5 14.3 28.2 11.8 27.3 9.3 27.1" stroke-width="0.6" stroke-opacity="0.29"/><path d="M27.7 25.0 27.0 22.5 26.1 20.1 25.5 17.5 25.6 14.9 26.5 12.5 27.7 10.2 28.5 7.8 30.1 5.7 32.1 4.0" stroke-width="0.9" stroke-opacity="0.29"/><path d="M27.1 32.6 26.1 35.0 25.1 37.4 24.5 39.9 23.8 42.4 23.5 45.0" stroke-width="0.4" stroke-opacity="0.43"/><path d="M28.0 24.9 28.2 22.3 28.3 19.7 28.5 17.2 28.9 14.6 29.6 12.1" stroke-width="0.7" stroke-opacity="0.58"/><path d="M24.6 28.4 22.1 28.0 19.5 27.3 17.0 26.9 14.6 25.8 12.4 24.5" stroke-width="0.5" stroke-opacity="0.23"/><path d="M25.1 30.9 22.8 32.1 20.6 33.4 18.2 34.6 16.3 36.3 14.9 38.5" stroke-width="0.4" stroke-opacity="0.27"/><path d="M32.5 28.2 35.1 28.2 37.7 27.9 40.3 27.4 42.9 27.4 45.4 28.1 47.7 29.3 49.6 31.0 52.0 32.2" stroke-width="0.7" stroke-opacity="0.40"/><path d="M32.5 29.7 34.9 30.7 37.1 32.1 39.6 33.0 41.7 34.5 44.0 35.8 46.4 36.6 49.0 37.2 51.6 37.2" stroke-width="0.6" stroke-opacity="0.54"/><path d="M31.8 26.5 33.3 24.4 34.9 22.4 35.9 20.0 37.3 17.7 38.4 15.4 40.2 13.5 41.7 11.4 43.1 9.2 44.2 6.8" stroke-width="0.8" stroke-opacity="0.52"/><path d="M26.9 25.3 25.5 23.1 24.7 20.6 23.7 18.2 22.8 15.8 21.7 13.4 20.8 11.0 19.7 8.7" stroke-width="0.6" stroke-opacity="0.38"/><path d="M24.9 27.4 22.3 27.2 19.7 27.4 17.1 27.1 14.6 27.7" stroke-width="0.7" stroke-opacity="0.45"/><path d="M31.4 26.0 32.5 23.7 33.2 21.2 34.5 18.9 34.9 16.3 35.8 13.9 36.7 11.5 38.0 9.2 38.8 6.8" stroke-width="0.9" stroke-opacity="0.29"/><path d="M25.3 31.2 23.6 33.1 22.1 35.3 21.0 37.6 20.0 40.0 19.0 42.4 17.5 44.6 15.5 46.2" stroke-width="0.6" stroke-opacity="0.35"/><path d="M32.6 28.8 35.2 28.3 37.7 27.8 40.1 26.8 42.6 26.3 45.2 26.2 47.8 25.5 50.3 25.4 52.9 25.0" stroke-width="0.5" stroke-opacity="0.59"/><path d="M30.2 25.2 30.7 22.7 31.8 20.3 33.4 18.3 34.8 16.1 35.7 13.7 36.5 11.2 37.1 8.7" stroke-width="0.6" stroke-opacity="0.46"/><path d="M28.5 24.9 27.9 22.4 26.9 20.0 25.4 17.9 23.6 15.9" stroke-width="0.6" stroke-opacity="0.22"/><path d="M31.2 31.9 33.1 33.7 35.2 35.2 37.0 37.1 39.0 38.8 41.1 40.3 43.4 41.6 45.3 43.3 46.7 45.5" stroke-width="0.7" stroke-opacity="0.21"/><path d="M32.6 29.1 35.2 28.9 37.8 28.6 40.2 27.8 42.8 27.3 45.4 26.9 48.0 26.9 50.4 27.8" stroke-width="0.7" stroke-opacity="0.56"/><path d="M30.3 32.5 31.8 34.7 33.2 36.9 34.4 39.1 35.9 41.3 37.3 43.5 38.3 45.8 39.1 48.3" stroke-width="0.8" stroke-opacity="0.47"/><path d="M29.8 32.7 30.5 35.2 31.6 37.6 33.2 39.6 34.9 41.6 36.8 43.4 38.8 45.1 40.3 47.2" stroke-width="0.8" stroke-opacity="0.34"/><path d="M32.6 29.1 35.2 29.1 37.8 28.9 40.3 28.3 42.9 28.0 45.5 27.8 48.1 27.4 50.7 27.4 53.1 28.2" stroke-width="0.9" stroke-opacity="0.23"/><path d="M28.2 32.9 28.8 35.4 29.4 37.9 30.3 40.4 31.7 42.6 33.7 44.3 35.8 45.7 38.1 47.1 40.4 48.2 42.9 48.9 45.3 49.9" stroke-width="0.4" stroke-opacity="0.41"/><path d="M30.8 32.3 32.5 34.2 34.1 36.2 35.9 38.1 37.8 39.9 39.3 42.1" stroke-width="0.4" stroke-opacity="0.44"/><path d="M32.3 30.5 34.6 31.6 36.9 32.8 39.5 33.4 41.9 34.3 44.3 35.4 46.6 36.6 48.9 37.8" stroke-width="0.6" stroke-opacity="0.54"/></g><g id="nr5" fill="none" stroke="currentColor" stroke-linecap="round" stroke-linejoin="round"><polygon points="50.2,28.0 48.7,31.3 46.7,34.1 44.3,36.2 43.8,39.6 42.5,42.9 40.5,46.2 37.3,48.1 33.8,49.4 30.0,48.6 26.6,47.2 23.8,45.1 21.5,42.7 19.9,40.0 18.0,38.1 15.3,36.5 12.9,34.2 10.8,31.4 10.1,28.0 10.1,24.5 13.0,21.8 16.2,20.0 19.4,19.1 21.8,18.2 23.5,16.7 25.5,15.6 27.7,14.9 30.0,14.5 32.4,14.2 35.0,14.4 37.5,15.0 40.0,16.1 42.3,17.7 44.3,19.8 46.7,21.9 48.7,24.7" fill="currentColor" fill-opacity="0.2" stroke="none" filter="url(#bl2)"/><path d="M33.6 29.7 36.0 30.8 38.5 31.5 40.8 32.6 43.1 33.8 45.3 35.3" stroke-width="0.9" stroke-opacity="0.35"/><path d="M26.1 28.8 23.7 29.9 21.5 31.3 19.7 33.1 17.7 34.8 15.8 36.5 13.9 38.4 12.1 40.3 10.1 41.9" stroke-width="0.9" stroke-opacity="0.30"/><path d="M32.9 25.3 35.2 24.0 37.3 22.5 39.4 20.9 41.4 19.3 43.3 17.5 45.1 15.6" stroke-width="0.5" stroke-opacity="0.52"/><path d="M33.9 27.3 36.5 26.8 39.0 26.1 41.5 25.5 43.8 24.3 46.0 22.8 48.1 21.4 50.3 19.9 52.6 18.8" stroke-width="0.7" stroke-opacity="0.19"/><path d="M32.3 24.7 33.7 22.5 34.8 20.2 36.5 18.2 38.5 16.6 40.2 14.6" stroke-width="0.9" stroke-opacity="0.47"/><path d="M31.8 24.4 33.0 22.1 34.1 19.8 34.6 17.2 35.0 14.6 34.9 12.0 34.6 9.5 34.6 6.9" stroke-width="0.6" stroke-opacity="0.48"/><path d="M27.3 31.0 26.0 33.2 25.2 35.7 24.3 38.1 23.2 40.5 22.7 43.0" stroke-width="0.8" stroke-opacity="0.36"/><path d="M33.2 30.4 35.1 32.2 36.7 34.3 38.2 36.3 40.3 37.9 42.2 39.7 44.5 40.9 46.7 42.3" stroke-width="0.4" stroke-opacity="0.54"/><path d="M26.0 28.5 23.5 29.2 21.0 29.7 18.5 30.5 16.3 31.9 14.0 33.2" stroke-width="0.5" stroke-opacity="0.22"/><path d="M30.9 31.9 32.2 34.2 34.0 36.0 36.2 37.5 38.5 38.7 40.5 40.2 42.4 42.1" stroke-width="0.7" stroke-opacity="0.22"/><path d="M33.6 26.3 36.0 25.2 38.3 24.0 40.3 22.4 42.6 21.1 44.6 19.5 46.4 17.6" stroke-width="0.7" stroke-opacity="0.26"/><path d="M34.0 28.5 36.6 28.8 39.2 28.7 41.7 29.0 44.3 29.4 46.9 29.3 49.4 28.6 52.0 28.4 54.6 27.9" stroke-width="0.7" stroke-opacity="0.29"/><path d="M33.7 26.5 36.1 25.5 38.6 24.7 40.9 23.5 42.9 21.8 44.8 20.0 46.4 18.1 48.6 16.5 50.5 14.8" stroke-width="0.7" stroke-opacity="0.50"/><path d="M26.1 27.1 23.7 26.1 21.2 25.4 18.6 24.9 16.3 23.8 13.9 22.8 11.7 21.3 9.7 19.7 8.3 17.5" stroke-width="0.7" stroke-opacity="0.53"/><path d="M31.9 24.5 33.4 22.3 34.8 20.2 36.7 18.3 38.7 16.7 40.8 15.2 43.1 14.1 45.5 13.0" stroke-width="0.8" stroke-opacity="0.36"/><path d="M33.2 25.6 34.9 23.6 36.9 22.0 38.6 20.1 40.2 18.0 41.6 15.8 43.3 13.8 45.1 12.0" stroke-width="0.6" stroke-opacity="0.18"/><path d="M26.0 28.6 23.5 29.1 20.9 28.8 18.3 28.8 15.8 28.1 13.2 27.8 10.6 27.9 8.0 27.9 5.4 27.9 2.8 27.7" stroke-width="0.6" stroke-opacity="0.23"/><path d="M33.3 25.8 35.4 24.3 37.6 22.8 39.5 21.0 41.1 19.0 42.3 16.7" stroke-width="0.8" stroke-opacity="0.31"/><path d="M31.1 31.9 31.2 34.5 31.1 37.1 30.3 39.5 29.5 42.0 28.1 44.2 26.2 46.0 24.2 47.6 22.0 49.1 19.8 50.4 17.3 51.3 15.0 52.5" stroke-width="0.9" stroke-opacity="0.44"/><path d="M33.7 26.4 35.8 24.9 37.8 23.2 40.1 22.0 42.6 21.4" stroke-width="0.5" stroke-opacity="0.29"/><path d="M34.0 28.2 36.6 28.4 39.2 28.8 41.6 29.7 44.2 30.0 46.8 30.0" stroke-width="0.5" stroke-opacity="0.41"/><path d="M26.3 29.4 24.0 30.6 21.6 31.8 19.2 32.7 16.7 33.2" stroke-width="0.5" stroke-opacity="0.36"/><path d="M30.2 32.0 30.7 34.5 31.7 36.9 32.9 39.2 33.6 41.8 34.8 44.0 36.4 46.1 38.1 48.0 39.9 49.9 41.3 52.2 43.1 54.0" stroke-width="0.9" stroke-opacity="0.27"/><path d="M33.9 27.2 36.4 26.4 39.0 26.2 41.5 25.7 44.0 25.1 46.6 24.8" stroke-width="0.6" stroke-opacity="0.54"/><path d="M32.6 31.0 34.5 32.8 36.2 34.8 38.1 36.6 39.8 38.5 41.7 40.3 43.9 41.7 46.1 43.0 48.4 44.2 50.4 45.9" stroke-width="0.8" stroke-opacity="0.52"/><path d="M28.9 24.2 28.4 21.6 28.2 19.0 28.2 16.4 28.1 13.8 28.2 11.2" stroke-width="0.6" stroke-opacity="0.31"/><path d="M26.1 29.0 23.6 29.5 21.1 30.4 18.9 31.7 16.8 33.3 14.7 34.8" stroke-width="0.6" stroke-opacity="0.21"/><path d="M27.8 24.7 26.3 22.6 24.6 20.6" stroke-width="0.7" stroke-opacity="0.35"/><path d="M27.9 24.6 26.2 22.6 24.2 21.0 22.4 19.1" stroke-width="0.7" stroke-opacity="0.29"/><path d="M26.6 25.9 24.3 24.7 21.8 24.0 19.3 23.2 17.0 22.0 14.8 20.6 12.8 19.0" stroke-width="0.4" stroke-opacity="0.42"/><path d="M29.1 31.9 28.8 34.5 29.2 37.1 30.1 39.5 30.9 41.9 31.9 44.4 32.8 46.8" stroke-width="0.6" stroke-opacity="0.54"/><path d="M28.0 31.5 27.2 33.9 25.9 36.2 25.2 38.7 24.2 41.1 22.7 43.2" stroke-width="0.8" stroke-opacity="0.30"/><path d="M33.6 26.3 36.0 25.3 38.5 24.4 40.7 23.1 43.2 22.3 45.5 21.1" stroke-width="0.4" stroke-opacity="0.44"/><path d="M28.4 24.3 27.3 22.0 26.7 19.5 25.9 17.0" stroke-width="0.5" stroke-opacity="0.26"/><path d="M32.7 25.1 34.4 23.1 36.1 21.1 37.6 19.0 38.5 16.6" stroke-width="0.6" stroke-opacity="0.16"/><path d="M33.5 26.1 35.9 25.1 38.3 24.1 40.9 23.7 43.4 23.3 46.0 23.4 48.6 23.1" stroke-width="0.6" stroke-opacity="0.37"/><path d="M30.9 24.1 32.0 21.7 32.6 19.2 33.1 16.7 33.7 14.1 34.5 11.7" stroke-width="0.6" stroke-opacity="0.33"/><path d="M30.2 24.0 30.5 21.4 30.9 18.9 30.9 16.3" stroke-width="0.6" stroke-opacity="0.33"/><path d="M26.2 26.8 23.7 26.2 21.2 25.4 18.9 24.2 16.7 22.8 14.2 22.0 11.7 21.4 9.1 21.2" stroke-width="0.7" stroke-opacity="0.28"/><path d="M31.8 24.5 33.3 22.3 35.0 20.3 37.0 18.7" stroke-width="0.4" stroke-opacity="0.29"/><path d="M26.1 28.8 23.6 29.6 21.3 30.7 18.9 31.9 16.6 32.9 14.1 33.8 11.9 35.1 9.7 36.6 7.4 37.7" stroke-width="0.8" stroke-opacity="0.28"/><path d="M32.4 24.8 34.3 23.0 36.4 21.5 38.6 20.2 40.6 18.5 42.9 17.2 45.1 15.9" stroke-width="0.7" stroke-opacity="0.35"/><path d="M31.2 24.2 32.0 21.7 32.6 19.2 33.1 16.6 33.5 14.1 33.3 11.5 32.8 8.9" stroke-width="0.6" stroke-opacity="0.32"/><path d="M29.7 24.0 29.7 21.4 29.1 18.9 28.9 16.3" stroke-width="0.5" stroke-opacity="0.36"/><path d="M33.7 26.4 36.2 25.7 38.6 24.8 41.0 23.7 43.1 22.3" stroke-width="0.6" stroke-opacity="0.16"/><path d="M33.9 26.9 36.4 26.4 39.0 26.3 41.6 26.6 44.1 27.2 46.5 28.2" stroke-width="0.8" stroke-opacity="0.43"/><path d="M26.7 25.7 24.7 24.1 22.6 22.5 20.3 21.3" stroke-width="0.7" stroke-opacity="0.15"/><path d="M26.7 30.3 24.7 31.9 22.4 33.1 19.9 33.9 17.5 34.8 15.2 36.1" stroke-width="0.9" stroke-opacity="0.30"/><path d="M33.3 25.7 35.8 24.9 38.2 24.1 40.8 23.6 43.2 22.6 45.7 21.8 48.1 20.8 50.6 20.3" stroke-width="0.6" stroke-opacity="0.22"/><path d="M29.1 31.9 28.4 34.4 28.0 37.0 28.1 39.6 27.7 42.1 27.8 44.7 28.2 47.3" stroke-width="0.8" stroke-opacity="0.41"/><path d="M29.0 24.1 28.2 21.6 27.9 19.1 28.2 16.5 29.0 14.0 30.0 11.6" stroke-width="0.4" stroke-opacity="0.18"/><path d="M29.4 24.0 28.8 21.5 28.2 19.0 27.4 16.5 26.7 14.0 26.0 11.5 25.5 9.0" stroke-width="0.6" stroke-opacity="0.52"/><path d="M32.9 25.2 34.9 23.5 36.8 21.8 39.0 20.5 41.1 19.0 43.4 17.8 45.8 16.7" stroke-width="0.8" stroke-opacity="0.27"/><path d="M31.1 24.1 31.9 21.7 33.1 19.4 34.4 17.2 35.4 14.7" stroke-width="0.7" stroke-opacity="0.33"/><path d="M30.8 24.1 31.4 21.6 31.9 19.0 32.5 16.5 32.8 13.9" stroke-width="0.4" stroke-opacity="0.26"/><path d="M32.5 24.9 34.0 22.7 35.5 20.6 36.6 18.3 37.6 15.9" stroke-width="0.5" stroke-opacity="0.19"/><path d="M26.0 28.5 23.5 29.0 20.9 29.3 18.3 29.2 15.7 29.5 13.1 29.7 10.6 30.1 8.1 31.0 5.9 32.4 3.6 33.5" stroke-width="0.6" stroke-opacity="0.48"/><path d="M34.0 27.9 36.5 27.4 39.1 27.2 41.7 26.9 44.3 26.3 46.9 26.3 49.5 26.3 52.1 26.4 54.6 25.9 57.2 25.7" stroke-width="0.8" stroke-opacity="0.21"/><path d="M31.4 24.3 32.2 21.8 33.2 19.4 34.3 17.0 34.9 14.5 36.1 12.1" stroke-width="0.8" stroke-opacity="0.18"/><path d="M31.1 31.8 31.4 34.4 31.8 37.0 32.6 39.5 33.4 41.9 34.4 44.4 35.7 46.6" stroke-width="0.4" stroke-opacity="0.32"/></g><pattern id="p00" x="86.10" y="85.40" width="4.6" height="4.6" patternUnits="userSpaceOnUse"><rect width="4.6" height="1.0"/><rect width="1.0" height="4.6"/></pattern><clipPath id="c00"><rect x="84.3" y="83.6" width="58.5" height="59.4"/></clipPath><pattern id="p01" x="86.10" y="149.00" width="4.6" height="4.6" patternUnits="userSpaceOnUse"><rect width="4.6" height="1.0"/><rect width="1.0" height="4.6"/></pattern><clipPath id="c01"><rect x="84.3" y="147.2" width="58.5" height="58.2"/></clipPath><radialGradient id="dg0"><stop offset="0" stop-color="#2c44ff" stop-opacity="0.3"/><stop offset="1" stop-color="#2c44ff" stop-opacity="0"/></radialGradient><pattern id="p02" x="86.10" y="211.00" width="4.6" height="4.6" patternUnits="userSpaceOnUse"><rect width="4.6" height="1.0"/><rect width="1.0" height="4.6"/></pattern><clipPath id="c02"><rect x="84.3" y="209.2" width="58.5" height="59.0"/></clipPath><pattern id="p10" x="149.20" y="85.60" width="5.0" height="5.0" patternUnits="userSpaceOnUse"><rect width="5.0" height="1.0"/><rect width="1.0" height="5.0"/></pattern><clipPath id="c10"><rect x="147.2" y="83.6" width="58.55" height="59.4"/></clipPath><pattern id="p11" x="149.20" y="149.20" width="5.0" height="5.0" patternUnits="userSpaceOnUse"><rect width="5.0" height="1.0"/><rect width="1.0" height="5.0"/></pattern><clipPath id="c11"><rect x="147.2" y="147.2" width="58.55" height="58.2"/></clipPath><radialGradient id="dg1"><stop offset="0" stop-color="#2c44ff" stop-opacity="0.2"/><stop offset="1" stop-color="#2c44ff" stop-opacity="0"/></radialGradient><pattern id="p12" x="149.20" y="211.20" width="5.0" height="5.0" patternUnits="userSpaceOnUse"><rect width="5.0" height="1.0"/><rect width="1.0" height="5.0"/></pattern><clipPath id="c12"><rect x="147.2" y="209.2" width="58.55" height="59.0"/></clipPath><pattern id="p20" x="212.30" y="85.60" width="5.0" height="5.0" patternUnits="userSpaceOnUse"><rect width="5.0" height="1.0"/><rect width="1.0" height="5.0"/></pattern><clipPath id="c20"><rect x="210.3" y="83.6" width="57.7" height="59.4"/></clipPath><pattern id="p21" x="212.30" y="149.20" width="5.0" height="5.0" patternUnits="userSpaceOnUse"><rect width="5.0" height="1.0"/><rect width="1.0" height="5.0"/></pattern><clipPath id="c21"><rect x="210.3" y="147.2" width="57.7" height="58.2"/></clipPath><radialGradient id="dg2"><stop offset="0" stop-color="#2c44ff" stop-opacity="0.2"/><stop offset="1" stop-color="#2c44ff" stop-opacity="0"/></radialGradient><pattern id="p22" x="212.30" y="211.20" width="5.0" height="5.0" patternUnits="userSpaceOnUse"><rect width="5.0" height="1.0"/><rect width="1.0" height="5.0"/></pattern><clipPath id="c22"><rect x="210.3" y="209.2" width="57.7" height="59.0"/></clipPath><pattern id="p30" x="272.30" y="84.00" width="11.3" height="11.3" patternUnits="userSpaceOnUse"><rect width="11.3" height="1.8"/><rect width="1.8" height="11.3"/></pattern><clipPath id="c30"><rect x="271.9" y="83.6" width="58.9" height="59.4"/></clipPath><pattern id="p31" x="272.30" y="147.60" width="11.3" height="11.3" patternUnits="userSpaceOnUse"><rect width="11.3" height="1.8"/><rect width="1.8" height="11.3"/></pattern><clipPath id="c31"><rect x="271.9" y="147.2" width="58.9" height="58.2"/></clipPath><radialGradient id="dg3"><stop offset="0" stop-color="#2c44ff" stop-opacity="0.15"/><stop offset="1" stop-color="#2c44ff" stop-opacity="0"/></radialGradient><pattern id="p32" x="272.30" y="209.60" width="11.3" height="11.3" patternUnits="userSpaceOnUse"><rect width="11.3" height="1.8"/><rect width="1.8" height="11.3"/></pattern><clipPath id="c32"><rect x="271.9" y="209.2" width="58.9" height="59.0"/></clipPath><pattern id="p40" x="337.55" y="85.85" width="6.5" height="6.5" patternUnits="userSpaceOnUse"><rect width="6.5" height="2.0"/><rect width="2.0" height="6.5"/></pattern><clipPath id="c40"><rect x="335.3" y="83.6" width="58.45" height="59.4"/></clipPath><linearGradient id="lg4" x1="0" x2="1" y1="0" y2="0"><stop offset="0" stop-color="#17961a"/><stop offset="0.35" stop-color="#0f6a12"/><stop offset="0.65" stop-color="#052606"/><stop offset="0.85" stop-color="#010401"/></linearGradient><pattern id="p41" x="337.55" y="149.45" width="6.5" height="6.5" patternUnits="userSpaceOnUse"><rect width="6.5" height="2.0"/><rect width="2.0" height="6.5"/></pattern><clipPath id="c41"><rect x="335.3" y="147.2" width="58.45" height="58.2"/></clipPath><linearGradient id="fd4" x1="0" x2="1"><stop offset="0" stop-color="#000" stop-opacity="0"/><stop offset="0.5" stop-color="#000" stop-opacity="0.25"/><stop offset="0.85" stop-color="#000" stop-opacity="1"/><stop offset="1" stop-color="#000" stop-opacity="1"/></linearGradient><radialGradient id="dg4"><stop offset="0" stop-color="#2c44ff" stop-opacity="0.15"/><stop offset="1" stop-color="#2c44ff" stop-opacity="0"/></radialGradient><pattern id="p42" x="337.55" y="211.45" width="6.5" height="6.5" patternUnits="userSpaceOnUse"><rect width="6.5" height="2.0"/><rect width="2.0" height="6.5"/></pattern><clipPath id="c42"><rect x="335.3" y="209.2" width="58.45" height="59.0"/></clipPath><linearGradient id="mf4" x1="0" x2="1"><stop offset="0" stop-color="#000" stop-opacity="0"/><stop offset="0.45" stop-color="#000" stop-opacity="0.35"/><stop offset="0.9" stop-color="#000" stop-opacity="1"/><stop offset="1" stop-color="#000" stop-opacity="1"/></linearGradient><pattern id="p50" x="400.55" y="85.85" width="6.5" height="6.5" patternUnits="userSpaceOnUse"><rect width="6.5" height="2.0"/><rect width="2.0" height="6.5"/></pattern><clipPath id="c50"><rect x="398.3" y="83.6" width="58.5" height="59.4"/></clipPath><pattern id="p51" x="400.55" y="149.45" width="6.5" height="6.5" patternUnits="userSpaceOnUse"><rect width="6.5" height="2.0"/><rect width="2.0" height="6.5"/></pattern><clipPath id="c51"><rect x="398.3" y="147.2" width="58.5" height="58.2"/></clipPath><radialGradient id="dg5"><stop offset="0" stop-color="#2c44ff" stop-opacity="0.25"/><stop offset="1" stop-color="#2c44ff" stop-opacity="0"/></radialGradient><pattern id="p52" x="400.55" y="211.45" width="6.5" height="6.5" patternUnits="userSpaceOnUse"><rect width="6.5" height="2.0"/><rect width="2.0" height="6.5"/></pattern><clipPath id="c52"><rect x="398.3" y="209.2" width="58.5" height="59.0"/></clipPath></defs><g clip-path="url(#c00)"><rect x="84.3" y="83.6" width="58.5" height="59.4" fill="#0a300e"/><rect x="84.3" y="83.6" width="58.5" height="59.4" fill="url(#p00)" opacity="0.25" filter="url(#bl1)"/><g filter="url(#bl)"><use href="#nr0" transform="translate(84.3,83.6)" color="#36dc36"/><circle cx="113.1" cy="112.1" r="4.6" fill="#127012" fill-opacity="0.5" stroke="#44f444" stroke-width="1.5"/></g></g><g clip-path="url(#c01)"><rect x="84.3" y="147.2" width="58.5" height="58.2" fill="#020228"/><rect x="84.3" y="147.2" width="58.5" height="58.2" fill="url(#p01)" opacity="0.2" filter="url(#bl1)"/><rect x="84.3" y="147.2" width="58.5" height="58.2" fill="url(#vig)"/><circle cx="113.9" cy="175.7" r="14" fill="url(#dg0)"/><ellipse cx="113.9" cy="175.7" rx="4.6" ry="4.6" fill="#1c34ff" filter="url(#bl1)"/></g><g clip-path="url(#c02)"><rect x="84.3" y="209.2" width="58.5" height="59.0" fill="#052a1c"/><rect x="84.3" y="209.2" width="58.5" height="59.0" fill="url(#p02)" opacity="0.2" filter="url(#bl1)"/><g filter="url(#bl)"><use href="#nr0" transform="translate(84.3,209.2)" color="#2cc45a" opacity="1.0"/></g><circle cx="113.1" cy="237.7" r="4.8" fill="#1c4ee6" stroke="#3ad8d8" stroke-width="1.3" stroke-opacity="0.85" filter="url(#bl)"/></g><g clip-path="url(#c10)"><rect x="147.2" y="83.6" width="58.55" height="59.4" fill="#051f07"/><rect x="147.2" y="83.6" width="58.55" height="59.4" fill="url(#p10)" opacity="0.15" filter="url(#bl1)"/><g filter="url(#bl)"><use href="#nr1" transform="translate(147.2,83.6)" color="#36dc36"/><circle cx="177.2" cy="112.19999999999999" r="4.6" fill="#127012" fill-opacity="0.5" stroke="#44f444" stroke-width="1.5"/></g><rect x="185.2" y="138.8" width="17.5" height="1.1" fill="#8a8a8a"/></g><g clip-path="url(#c11)"><rect x="147.2" y="147.2" width="58.55" height="58.2" fill="#060668"/><circle cx="157.2" cy="197.2" r="77" fill="none" stroke="#000" stroke-width="30"/><rect x="147.2" y="147.2" width="58.55" height="58.2" fill="url(#p11)" opacity="0.2" filter="url(#bl1)"/><rect x="147.2" y="147.2" width="58.55" height="58.2" fill="url(#vig)"/><circle cx="176.0" cy="176.39999999999998" r="14" fill="url(#dg1)"/><ellipse cx="176.0" cy="176.39999999999998" rx="3.8" ry="3.8" fill="#1c34ff" filter="url(#bl1)"/></g><g clip-path="url(#c12)"><rect x="147.2" y="209.2" width="58.55" height="59.0" fill="#0a2c4c"/><circle cx="157.2" cy="259.2" r="74" fill="none" stroke="#000" stroke-width="34" filter="url(#bl2)"/><rect x="147.2" y="209.2" width="58.55" height="59.0" fill="url(#p12)" opacity="0.15" filter="url(#bl1)"/><g filter="url(#bl)"><use href="#nr1" transform="translate(147.2,209.2)" color="#2cc45a" opacity="1.0"/></g><circle cx="177.2" cy="237.79999999999998" r="4.8" fill="#1c4ee6" stroke="#3ad8d8" stroke-width="1.3" stroke-opacity="0.85" filter="url(#bl)"/></g><g clip-path="url(#c20)"><rect x="210.3" y="83.6" width="57.7" height="59.4" fill="#030f03"/><rect x="210.3" y="83.6" width="57.7" height="59.4" fill="url(#p20)" opacity="0.1" filter="url(#bl1)"/><g filter="url(#bl)"><use href="#nr2" transform="translate(210.3,83.6)" color="#36dc36"/><circle cx="240.3" cy="113.39999999999999" r="4.6" fill="#127012" fill-opacity="0.5" stroke="#44f444" stroke-width="1.5"/></g><rect x="248.3" y="138.8" width="17.5" height="1.1" fill="#8a8a8a"/></g><g clip-path="url(#c21)"><rect x="210.3" y="147.2" width="57.7" height="58.2" fill="#08085a"/><rect x="210.3" y="147.2" width="57.7" height="58.2" fill="url(#p21)" opacity="0.2" filter="url(#bl1)"/><rect x="210.3" y="147.2" width="57.7" height="58.2" fill="url(#vig)"/><circle cx="239.4" cy="176.79999999999998" r="14" fill="url(#dg2)"/><ellipse cx="239.4" cy="176.79999999999998" rx="4.6" ry="4.0" fill="#1c34ff" filter="url(#bl1)"/></g><g clip-path="url(#c22)"><rect x="210.3" y="209.2" width="57.7" height="59.0" fill="#073434"/><rect x="210.3" y="209.2" width="57.7" height="59.0" fill="url(#p22)" opacity="0.15" filter="url(#bl1)"/><g filter="url(#bl)"><use href="#nr2" transform="translate(210.3,209.2)" color="#2cc45a" opacity="1.0"/></g><circle cx="240.3" cy="239.0" r="4.8" fill="#1c4ee6" stroke="#3ad8d8" stroke-width="1.3" stroke-opacity="0.85" filter="url(#bl)"/></g><g clip-path="url(#c30)"><rect x="271.9" y="83.6" width="58.9" height="59.4" fill="#0b4c0c"/><circle cx="301.2" cy="111.89999999999999" r="24" fill="url(#gglow)" opacity="0.35"/><rect x="271.9" y="83.6" width="58.9" height="59.4" fill="url(#p30)" opacity="0.35" filter="url(#bl1)"/><g filter="url(#bl)"><use href="#nr3" transform="translate(271.9,83.6)" color="#36dc36"/><ellipse cx="301.2" cy="111.89999999999999" rx="3.9999999999999996" ry="3.8000000000000003" fill="#2ecc2e" stroke="#44f044" stroke-width="1.3" filter="url(#bl)"/></g></g><g clip-path="url(#c31)"><rect x="271.9" y="147.2" width="58.9" height="58.2" fill="#090956"/><rect x="271.9" y="147.2" width="58.9" height="58.2" fill="url(#p31)" opacity="0.2" filter="url(#bl1)"/><rect x="271.9" y="147.2" width="58.9" height="58.2" fill="url(#vig)"/><circle cx="299.59999999999997" cy="174.7" r="14" fill="url(#dg3)"/><ellipse cx="299.59999999999997" cy="174.7" rx="3.8" ry="3.8" fill="#1c34ff" filter="url(#bl1)"/></g><g clip-path="url(#c32)"><rect x="271.9" y="209.2" width="58.9" height="59.0" fill="#0f5a60"/><rect x="271.9" y="209.2" width="58.9" height="59.0" fill="url(#p32)" opacity="0.25" filter="url(#bl1)"/><g filter="url(#bl)"><use href="#nr3" transform="translate(271.9,209.2)" color="#2cc070" opacity="0.8"/></g><ellipse cx="301.2" cy="237.5" rx="4.6" ry="4.4" fill="#2aa4f0" filter="url(#bl1)"/><circle cx="301.2" cy="237.5" r="2.6" fill="#2078f0" filter="url(#bl1)"/></g><g clip-path="url(#c40)"><rect x="335.3" y="83.6" width="58.45" height="59.4" fill="#020602"/><rect x="335.3" y="83.6" width="58.45" height="59.4" fill="url(#lg4)"/><rect x="335.3" y="83.6" width="58.45" height="59.4" fill="url(#p40)" opacity="0.7" filter="url(#bl1)"/><g filter="url(#bl)"><use href="#nr4" transform="translate(335.3,83.6)" color="#36dc36"/><ellipse cx="363.90000000000003" cy="112.5" rx="5.8" ry="5.2" fill="#36d836" filter="url(#bl1)"/></g><rect x="373.3" y="138.8" width="17.5" height="1.1" fill="#8a8a8a"/></g><g clip-path="url(#c41)"><rect x="335.3" y="147.2" width="58.45" height="58.2" fill="#0b1880"/><rect x="335.3" y="147.2" width="58.45" height="58.2" fill="url(#fd4)"/><rect x="335.3" y="147.2" width="58.45" height="58.2" fill="url(#p41)" opacity="0.2" filter="url(#bl1)"/><rect x="335.3" y="147.2" width="58.45" height="58.2" fill="url(#vig)"/><circle cx="362.5" cy="176.79999999999998" r="14" fill="url(#dg4)"/><ellipse cx="362.5" cy="176.79999999999998" rx="4.2" ry="4.2" fill="#1c34ff" filter="url(#bl1)"/></g><g clip-path="url(#c42)"><rect x="335.3" y="209.2" width="58.45" height="59.0" fill="#183a92"/><rect x="335.3" y="209.2" width="58.45" height="59.0" fill="url(#mf4)"/><rect x="335.3" y="209.2" width="58.45" height="59.0" fill="url(#p42)" opacity="0.25" filter="url(#bl1)"/><g filter="url(#bl)"><use href="#nr4" transform="translate(335.3,209.2)" color="#2cc45a" opacity="0.8"/></g><ellipse cx="363.90000000000003" cy="238.1" rx="5.8" ry="5.2" fill="#2aa4f0" filter="url(#bl1)"/><circle cx="363.90000000000003" cy="238.1" r="2.6" fill="#2078f0" filter="url(#bl1)"/></g><g clip-path="url(#c50)"><rect x="398.3" y="83.6" width="58.5" height="59.4" fill="#0b3c0d"/><rect x="398.3" y="83.6" width="58.5" height="59.4" fill="url(#p50)" opacity="0.75" filter="url(#bl1)"/><g filter="url(#bl)"><use href="#nr5" transform="translate(398.3,83.6)" color="#36dc36"/><ellipse cx="428.3" cy="111.6" rx="4.9" ry="4.6" fill="#36d836" filter="url(#bl1)"/></g><rect x="436.3" y="138.8" width="17.5" height="1.1" fill="#8a8a8a"/></g><g clip-path="url(#c51)"><rect x="398.3" y="147.2" width="58.5" height="58.2" fill="#080852"/><rect x="398.3" y="147.2" width="58.5" height="58.2" fill="url(#p51)" opacity="0.2" filter="url(#bl1)"/><rect x="398.3" y="147.2" width="58.5" height="58.2" fill="url(#vig)"/><circle cx="427.0" cy="174.7" r="14" fill="url(#dg5)"/><ellipse cx="427.0" cy="174.7" rx="3.8" ry="3.8" fill="#1c34ff" filter="url(#bl1)"/></g><g clip-path="url(#c52)"><rect x="398.3" y="209.2" width="58.5" height="59.0" fill="#0b3c46"/><rect x="398.3" y="209.2" width="58.5" height="59.0" fill="url(#p52)" opacity="0.4" filter="url(#bl1)"/><g filter="url(#bl)"><use href="#nr5" transform="translate(398.3,209.2)" color="#2cb878" opacity="0.6"/></g><ellipse cx="428.3" cy="237.2" rx="4.9" ry="4.6" fill="#2aa4f0" filter="url(#bl1)"/><circle cx="428.3" cy="237.2" r="2.6" fill="#2078f0" filter="url(#bl1)"/></g>
<rect x="4.0" y="10.200000000000001" width="14.999999999999996" height="17.5" fill="#fff" stroke="#e2600f" stroke-width="1.8"/>
<text x="11.5" y="22.2" font-family="'Liberation Serif', serif" font-size="8.5" font-weight="bold" fill="#000" text-anchor="middle" >A</text>
<rect x="29" y="8.8" width="507" height="8.8" fill="#f9a878"/>
<polygon points="535,4.5 544.5,13.2 535,21.9" fill="#f9a878"/>
<rect x="51.1" y="4.3" width="1" height="12.6" fill="#555"/>
<rect x="157.3" y="4.3" width="1" height="12.6" fill="#555"/>
<rect x="279.7" y="4.3" width="1" height="12.6" fill="#555"/>
<rect x="380.3" y="4.3" width="1" height="12.6" fill="#555"/>
<rect x="493.0" y="4.3" width="1" height="12.6" fill="#555"/>
<text x="34.5" y="30.6" font-family="'Liberation Sans', sans-serif" font-size="10" font-weight="bold" fill="#1f70c6" stroke="#1f70c6" stroke-width="0.12" textLength="60.5" lengthAdjust="spacingAndGlyphs">Extraction of</text>
<text x="34.5" y="44.4" font-family="'Liberation Sans', sans-serif" font-size="10" font-weight="bold" fill="#1f70c6" stroke="#1f70c6" stroke-width="0.12" textLength="60.5" lengthAdjust="spacingAndGlyphs">DRG at E13.5</text>
<text x="41.5" y="58.0" font-family="'Liberation Sans', sans-serif" font-size="10" font-weight="bold" fill="#1f70c6" stroke="#1f70c6" stroke-width="0.12" textLength="46.7" lengthAdjust="spacingAndGlyphs">(C57BL/6)</text>
<text x="110" y="29.3" font-family="'Liberation Sans', sans-serif" font-size="10" font-weight="bold" fill="#1f70c6" stroke="#1f70c6" stroke-width="0.12" textLength="100.6" lengthAdjust="spacingAndGlyphs">DIV1: First treatment</text>
<text x="154" y="40.4" font-family="'Liberation Sans', sans-serif" font-size="7.6" font-weight="bold" fill="#111" stroke="#111" stroke-width="0.1" textLength="13" lengthAdjust="spacingAndGlyphs">-NT</text>
<text x="113" y="51.6" font-family="'Liberation Sans', sans-serif" font-size="7.6" font-weight="bold" fill="#111" stroke="#111" stroke-width="0.1" textLength="95.69999999999999" lengthAdjust="spacingAndGlyphs">GRT, XBD173, XE991, and</text>
<text x="103.5" y="62.2" font-family="'Liberation Sans', sans-serif" font-size="7.6" font-weight="bold" fill="#111" stroke="#111" stroke-width="0.1" textLength="114.0" lengthAdjust="spacingAndGlyphs">ICA27243: 10µM in 0.1% EtOH</text>
<text x="224.5" y="31.0" font-family="'Liberation Sans', sans-serif" font-size="10" font-weight="bold" fill="#1f70c6" stroke="#1f70c6" stroke-width="0.12" textLength="114.5" lengthAdjust="spacingAndGlyphs">DIV4: Second treatment</text>
<text x="275" y="41.8" font-family="'Liberation Sans', sans-serif" font-size="7.6" font-weight="bold" fill="#111" stroke="#111" stroke-width="0.1" textLength="12.800000000000011" lengthAdjust="spacingAndGlyphs">-NT</text>
<text x="233.4" y="53.3" font-family="'Liberation Sans', sans-serif" font-size="7.6" font-weight="bold" fill="#111" stroke="#111" stroke-width="0.1" textLength="96.6" lengthAdjust="spacingAndGlyphs">GRT, XBD173, XE991, and</text>
<text x="224.5" y="63.6" font-family="'Liberation Sans', sans-serif" font-size="7.6" font-weight="bold" fill="#111" stroke="#111" stroke-width="0.1" textLength="114.5" lengthAdjust="spacingAndGlyphs">ICA27243: 10µM in 0.1% EtOH</text>
<text x="353" y="31.4" font-family="'Liberation Sans', sans-serif" font-size="10" font-weight="bold" fill="#1f70c6" stroke="#1f70c6" stroke-width="0.12" textLength="67" lengthAdjust="spacingAndGlyphs">DIV8: Fixation</text>
<text x="348" y="43.2" font-family="'Liberation Sans', sans-serif" font-size="7.6" font-weight="bold" fill="#111" stroke="#111" stroke-width="0.1" textLength="76.5" lengthAdjust="spacingAndGlyphs">of DRG with 4% PFA</text>
<text x="437.2" y="31.4" font-family="'Liberation Sans', sans-serif" font-size="10" font-weight="bold" fill="#1f70c6" stroke="#1f70c6" stroke-width="0.12" textLength="107.30000000000001" lengthAdjust="spacingAndGlyphs">Immunocytochemistry</text>
<text x="471" y="43" font-family="'Liberation Sans', sans-serif" font-size="7.6" font-weight="bold" fill="#555" stroke="#555" stroke-width="0.1" textLength="3.5" lengthAdjust="spacingAndGlyphs">(</text>
<text x="474.5" y="43" font-family="'Liberation Sans', sans-serif" font-size="7.6" font-weight="bold" fill="#2aa84a" stroke="#2aa84a" stroke-width="0.1" textLength="33.0" lengthAdjust="spacingAndGlyphs">Anti-NFH</text>
<text x="507.5" y="43" font-family="'Liberation Sans', sans-serif" font-size="7.6" font-weight="bold" fill="#555" stroke="#555" stroke-width="0.1" textLength="3.5" lengthAdjust="spacingAndGlyphs">)</text>
<rect x="63.5" y="68.2" width="15.599999999999998" height="16.600000000000005" fill="#fff" stroke="#e2600f" stroke-width="1.8"/>
<text x="71.4" y="80" font-family="'Liberation Serif', serif" font-size="10" font-weight="bold" fill="#000" text-anchor="middle" >B</text>
<text x="103.6" y="79" font-family="'Liberation Serif', serif" font-size="10" font-weight="bold" fill="#000" textLength="13.900000000000006" lengthAdjust="spacingAndGlyphs">NT</text>
<text x="156.4" y="79" font-family="'Liberation Serif', serif" font-size="10" font-weight="bold" fill="#000" textLength="30.900000000000006" lengthAdjust="spacingAndGlyphs">GRT-X</text>
<text x="218.2" y="79" font-family="'Liberation Serif', serif" font-size="10" font-weight="bold" fill="#000" textLength="32.80000000000001" lengthAdjust="spacingAndGlyphs">XBD173</text>
<text x="288" y="79" font-family="'Liberation Serif', serif" font-size="10" font-weight="bold" fill="#000" textLength="28.399999999999977" lengthAdjust="spacingAndGlyphs">XE991</text>
<text x="343.6" y="79" font-family="'Liberation Serif', serif" font-size="10" font-weight="bold" fill="#000" textLength="42.599999999999966" lengthAdjust="spacingAndGlyphs">ICA27243</text>
<text x="412.7" y="79" font-family="'Liberation Serif', serif" font-size="10" font-weight="bold" fill="#000" textLength="24.30000000000001" lengthAdjust="spacingAndGlyphs">EtOH</text>
<text transform="translate(75.6,122.4) rotate(-90)" x="0" y="0" font-family="'Liberation Serif', serif" font-size="10" font-weight="bold" textLength="20.10000000000001" lengthAdjust="spacingAndGlyphs">NFH</text>
<text transform="translate(75.6,187) rotate(-90)" x="0" y="0" font-family="'Liberation Serif', serif" font-size="10" font-weight="bold" textLength="23" lengthAdjust="spacingAndGlyphs">DAPI</text>
<text transform="translate(75.6,251.3) rotate(-90)" x="0" y="0" font-family="'Liberation Serif', serif" font-size="10" font-weight="bold" textLength="27.30000000000001" lengthAdjust="spacingAndGlyphs">Merge</text>
<rect x="5.9" y="276.09999999999997" width="17.0" height="18.50000000000001" fill="#fff" stroke="#e2600f" stroke-width="1.8"/>
<text x="14.6" y="288.9" font-family="'Liberation Serif', serif" font-size="10" font-weight="bold" fill="#000" text-anchor="middle" >C</text>
<text x="153.5" y="282.0" font-family="'Liberation Sans', sans-serif" font-size="9.1" font-weight="bold" fill="#000" text-anchor="middle" stroke="#000" stroke-width="0.2">Neurite quantification in embryonic</text>
<text x="153.3" y="292.3" font-family="'Liberation Sans', sans-serif" font-size="9.1" font-weight="bold" fill="#000" text-anchor="middle" stroke="#000" stroke-width="0.2">C57BL/6 DRG at DIV8 after 2 treatments</text>
<line x1="73.6" y1="302.594" x2="73.6" y2="426.2" stroke="#000" stroke-width="1"/>
<line x1="73.6" y1="426.2" x2="230.525" y2="426.2" stroke="#000" stroke-width="1"/>
<line x1="71.0" y1="426.20" x2="73.6" y2="426.20" stroke="#000" stroke-width="0.7"/>
<line x1="72.1" y1="422.77" x2="73.6" y2="422.77" stroke="#000" stroke-width="0.7"/>
<line x1="72.1" y1="419.33" x2="73.6" y2="419.33" stroke="#000" stroke-width="0.7"/>
<line x1="72.1" y1="415.90" x2="73.6" y2="415.90" stroke="#000" stroke-width="0.7"/>
<line x1="72.1" y1="412.47" x2="73.6" y2="412.47" stroke="#000" stroke-width="0.7"/>
<line x1="72.1" y1="409.03" x2="73.6" y2="409.03" stroke="#000" stroke-width="0.7"/>
<line x1="72.1" y1="405.60" x2="73.6" y2="405.60" stroke="#000" stroke-width="0.7"/>
<line x1="72.1" y1="402.17" x2="73.6" y2="402.17" stroke="#000" stroke-width="0.7"/>
<line x1="72.1" y1="398.73" x2="73.6" y2="398.73" stroke="#000" stroke-width="0.7"/>
<line x1="72.1" y1="395.30" x2="73.6" y2="395.30" stroke="#000" stroke-width="0.7"/>
<line x1="72.1" y1="391.87" x2="73.6" y2="391.87" stroke="#000" stroke-width="0.7"/>
<line x1="72.1" y1="388.43" x2="73.6" y2="388.43" stroke="#000" stroke-width="0.7"/>
<line x1="71.0" y1="385.00" x2="73.6" y2="385.00" stroke="#000" stroke-width="0.7"/>
<line x1="72.1" y1="381.56" x2="73.6" y2="381.56" stroke="#000" stroke-width="0.7"/>
<line x1="72.1" y1="378.13" x2="73.6" y2="378.13" stroke="#000" stroke-width="0.7"/>
<line x1="72.1" y1="374.70" x2="73.6" y2="374.70" stroke="#000" stroke-width="0.7"/>
<line x1="72.1" y1="371.26" x2="73.6" y2="371.26" stroke="#000" stroke-width="0.7"/>
<line x1="72.1" y1="367.83" x2="73.6" y2="367.83" stroke="#000" stroke-width="0.7"/>
<line x1="72.1" y1="364.40" x2="73.6" y2="364.40" stroke="#000" stroke-width="0.7"/>
<line x1="72.1" y1="360.96" x2="73.6" y2="360.96" stroke="#000" stroke-width="0.7"/>
<line x1="72.1" y1="357.53" x2="73.6" y2="357.53" stroke="#000" stroke-width="0.7"/>
<line x1="72.1" y1="354.10" x2="73.6" y2="354.10" stroke="#000" stroke-width="0.7"/>
<line x1="72.1" y1="350.66" x2="73.6" y2="350.66" stroke="#000" stroke-width="0.7"/>
<line x1="72.1" y1="347.23" x2="73.6" y2="347.23" stroke="#000" stroke-width="0.7"/>
<line x1="71.0" y1="343.80" x2="73.6" y2="343.80" stroke="#000" stroke-width="0.7"/>
<line x1="72.1" y1="340.36" x2="73.6" y2="340.36" stroke="#000" stroke-width="0.7"/>
<line x1="72.1" y1="336.93" x2="73.6" y2="336.93" stroke="#000" stroke-width="0.7"/>
<line x1="72.1" y1="333.50" x2="73.6" y2="333.50" stroke="#000" stroke-width="0.7"/>
<line x1="72.1" y1="330.06" x2="73.6" y2="330.06" stroke="#000" stroke-width="0.7"/>
<line x1="72.1" y1="326.63" x2="73.6" y2="326.63" stroke="#000" stroke-width="0.7"/>
<line x1="72.1" y1="323.19" x2="73.6" y2="323.19" stroke="#000" stroke-width="0.7"/>
<line x1="72.1" y1="319.76" x2="73.6" y2="319.76" stroke="#000" stroke-width="0.7"/>
<line x1="72.1" y1="316.33" x2="73.6" y2="316.33" stroke="#000" stroke-width="0.7"/>
<line x1="72.1" y1="312.89" x2="73.6" y2="312.89" stroke="#000" stroke-width="0.7"/>
<line x1="72.1" y1="309.46" x2="73.6" y2="309.46" stroke="#000" stroke-width="0.7"/>
<line x1="72.1" y1="306.03" x2="73.6" y2="306.03" stroke="#000" stroke-width="0.7"/>
<line x1="71.0" y1="302.59" x2="73.6" y2="302.59" stroke="#000" stroke-width="0.7"/>
<text transform="translate(70.80,428.50) scale(1,1.15)" font-family="'Liberation Sans', sans-serif" font-size="6.3" font-weight="bold" text-anchor="end" stroke="#000" stroke-width="0.15">0</text>
<text transform="translate(70.80,387.30) scale(1,1.15)" font-family="'Liberation Sans', sans-serif" font-size="6.3" font-weight="bold" text-anchor="end" stroke="#000" stroke-width="0.15">90</text>
<text transform="translate(70.80,346.10) scale(1,1.15)" font-family="'Liberation Sans', sans-serif" font-size="6.3" font-weight="bold" text-anchor="end" stroke="#000" stroke-width="0.15">180</text>
<text transform="translate(70.80,304.89) scale(1,1.15)" font-family="'Liberation Sans', sans-serif" font-size="6.3" font-weight="bold" text-anchor="end" stroke="#000" stroke-width="0.15">270</text>
<line x1="73.60" y1="426.2" x2="73.60" y2="428.59999999999997" stroke="#000" stroke-width="0.8"/>
<text transform="translate(73.60,435.4) scale(1,1.18)" font-family="'Liberation Sans', sans-serif" font-size="6.2" font-weight="bold" text-anchor="middle" stroke="#000" stroke-width="0.15">0</text>
<line x1="95.88" y1="426.2" x2="95.88" y2="428.59999999999997" stroke="#000" stroke-width="0.8"/>
<text transform="translate(95.88,435.4) scale(1,1.18)" font-family="'Liberation Sans', sans-serif" font-size="6.2" font-weight="bold" text-anchor="middle" stroke="#000" stroke-width="0.15">500</text>
<line x1="118.15" y1="426.2" x2="118.15" y2="428.59999999999997" stroke="#000" stroke-width="0.8"/>
<text transform="translate(118.15,435.4) scale(1,1.18)" font-family="'Liberation Sans', sans-serif" font-size="6.2" font-weight="bold" text-anchor="middle" stroke="#000" stroke-width="0.15">1000</text>
<line x1="140.43" y1="426.2" x2="140.43" y2="428.59999999999997" stroke="#000" stroke-width="0.8"/>
<text transform="translate(140.43,435.4) scale(1,1.18)" font-family="'Liberation Sans', sans-serif" font-size="6.2" font-weight="bold" text-anchor="middle" stroke="#000" stroke-width="0.15">1500</text>
<line x1="162.70" y1="426.2" x2="162.70" y2="428.59999999999997" stroke="#000" stroke-width="0.8"/>
<text transform="translate(162.70,435.4) scale(1,1.18)" font-family="'Liberation Sans', sans-serif" font-size="6.2" font-weight="bold" text-anchor="middle" stroke="#000" stroke-width="0.15">2000</text>
<line x1="184.97" y1="426.2" x2="184.97" y2="428.59999999999997" stroke="#000" stroke-width="0.8"/>
<text transform="translate(184.97,435.4) scale(1,1.18)" font-family="'Liberation Sans', sans-serif" font-size="6.2" font-weight="bold" text-anchor="middle" stroke="#000" stroke-width="0.15">2500</text>
<line x1="207.25" y1="426.2" x2="207.25" y2="428.59999999999997" stroke="#000" stroke-width="0.8"/>
<text transform="translate(207.25,435.4) scale(1,1.18)" font-family="'Liberation Sans', sans-serif" font-size="6.2" font-weight="bold" text-anchor="middle" stroke="#000" stroke-width="0.15">3000</text>
<line x1="229.53" y1="426.2" x2="229.53" y2="428.59999999999997" stroke="#000" stroke-width="0.8"/>
<text transform="translate(229.53,435.4) scale(1,1.18)" font-family="'Liberation Sans', sans-serif" font-size="6.2" font-weight="bold" text-anchor="middle" stroke="#000" stroke-width="0.15">3500</text>
<text x="153.7" y="445.4" font-family="'Liberation Sans', sans-serif" font-size="8.45" font-weight="bold" fill="#000" text-anchor="middle" stroke="#000" stroke-width="0.25">Distance from explant (µm)</text>
<text transform="translate(57.6,360.75) rotate(-90)" font-family="'Liberation Sans', sans-serif" font-size="8.3" font-weight="bold" text-anchor="middle" stroke="#000" stroke-width="0.25">Number of intersecting neurites</text>
<polyline points="73.60,392.87 75.83,392.49 78.05,391.31 80.28,390.57 82.51,389.67 84.74,389.38 86.96,388.38 89.19,387.06 91.42,384.83 93.65,382.98 95.88,382.75 98.10,382.94 100.33,382.45 102.56,380.73 104.78,381.77 107.01,383.23 109.24,382.27 111.47,383.23 113.69,383.12 115.92,383.54 118.15,384.68 120.38,385.12 122.60,387.05 124.83,389.06 127.06,390.61 129.29,392.96 131.51,397.40 133.74,399.02 135.97,401.66 138.20,402.94 140.43,405.48 142.65,406.55 144.88,408.89 147.11,411.46 149.33,414.10 151.56,415.43 153.79,417.50 156.02,419.20 158.25,419.66 160.47,422.11 162.70,421.90 164.93,423.23 167.15,425.94 169.38,425.07 171.61,425.97" fill="none" stroke="#1b8db4" stroke-width="1.6"/>
<circle cx="73.60" cy="392.87" r="2.05" fill="#1b8db4"/>
<circle cx="75.83" cy="392.49" r="2.05" fill="#1b8db4"/>
<circle cx="78.05" cy="391.31" r="2.05" fill="#1b8db4"/>
<circle cx="80.28" cy="390.57" r="2.05" fill="#1b8db4"/>
<circle cx="82.51" cy="389.67" r="2.05" fill="#1b8db4"/>
<circle cx="84.74" cy="389.38" r="2.05" fill="#1b8db4"/>
<circle cx="86.96" cy="388.38" r="2.05" fill="#1b8db4"/>
<circle cx="89.19" cy="387.06" r="2.05" fill="#1b8db4"/>
<circle cx="91.42" cy="384.83" r="2.05" fill="#1b8db4"/>
<circle cx="93.65" cy="382.98" r="2.05" fill="#1b8db4"/>
<circle cx="95.88" cy="382.75" r="2.05" fill="#1b8db4"/>
<circle cx="98.10" cy="382.94" r="2.05" fill="#1b8db4"/>
<circle cx="100.33" cy="382.45" r="2.05" fill="#1b8db4"/>
<circle cx="102.56" cy="380.73" r="2.05" fill="#1b8db4"/>
<circle cx="104.78" cy="381.77" r="2.05" fill="#1b8db4"/>
<circle cx="107.01" cy="383.23" r="2.05" fill="#1b8db4"/>
<circle cx="109.24" cy="382.27" r="2.05" fill="#1b8db4"/>
<circle cx="111.47" cy="383.23" r="2.05" fill="#1b8db4"/>
<circle cx="113.69" cy="383.12" r="2.05" fill="#1b8db4"/>
<circle cx="115.92" cy="383.54" r="2.05" fill="#1b8db4"/>
<circle cx="118.15" cy="384.68" r="2.05" fill="#1b8db4"/>
<circle cx="120.38" cy="385.12" r="2.05" fill="#1b8db4"/>
<circle cx="122.60" cy="387.05" r="2.05" fill="#1b8db4"/>
<circle cx="124.83" cy="389.06" r="2.05" fill="#1b8db4"/>
<circle cx="127.06" cy="390.61" r="2.05" fill="#1b8db4"/>
<circle cx="129.29" cy="392.96" r="2.05" fill="#1b8db4"/>
<circle cx="131.51" cy="397.40" r="2.05" fill="#1b8db4"/>
<circle cx="133.74" cy="399.02" r="2.05" fill="#1b8db4"/>
<circle cx="135.97" cy="401.66" r="2.05" fill="#1b8db4"/>
<circle cx="138.20" cy="402.94" r="2.05" fill="#1b8db4"/>
<circle cx="140.43" cy="405.48" r="2.05" fill="#1b8db4"/>
<circle cx="142.65" cy="406.55" r="2.05" fill="#1b8db4"/>
<circle cx="144.88" cy="408.89" r="2.05" fill="#1b8db4"/>
<circle cx="147.11" cy="411.46" r="2.05" fill="#1b8db4"/>
<circle cx="149.33" cy="414.10" r="2.05" fill="#1b8db4"/>
<circle cx="151.56" cy="415.43" r="2.05" fill="#1b8db4"/>
<circle cx="153.79" cy="417.50" r="2.05" fill="#1b8db4"/>
<circle cx="156.02" cy="419.20" r="2.05" fill="#1b8db4"/>
<circle cx="158.25" cy="419.66" r="2.05" fill="#1b8db4"/>
<circle cx="160.47" cy="422.11" r="2.05" fill="#1b8db4"/>
<circle cx="162.70" cy="421.90" r="2.05" fill="#1b8db4"/>
<circle cx="164.93" cy="423.23" r="2.05" fill="#1b8db4"/>
<circle cx="167.15" cy="425.94" r="2.05" fill="#1b8db4"/>
<circle cx="169.38" cy="425.07" r="2.05" fill="#1b8db4"/>
<circle cx="171.61" cy="425.97" r="2.05" fill="#1b8db4"/>
<polyline points="73.60,393.17 75.83,390.25 78.05,386.78 80.28,385.43 82.51,385.43 84.74,383.42 86.96,382.84 89.19,381.60 91.42,382.09 93.65,380.74 95.88,380.82 98.10,380.30 100.33,381.45 102.56,381.79 104.78,383.41 107.01,381.54 109.24,384.24 111.47,382.66 113.69,383.74 115.92,384.35 118.15,384.58 120.38,385.14 122.60,385.89 124.83,388.15 127.06,389.17 129.29,392.73 131.51,393.12 133.74,395.16 135.97,395.82 138.20,399.40 140.43,400.29 142.65,401.87 144.88,404.61 147.11,404.59 149.33,406.34 151.56,407.19 153.79,408.60 156.02,411.15 158.25,412.50 160.47,413.66 162.70,414.77 164.93,416.48 167.15,419.09 169.38,420.53 171.61,422.16 173.84,423.35 176.06,424.03 178.29,424.50 180.52,423.64 182.75,425.47 184.97,425.46" fill="none" stroke="#a6d972" stroke-width="1.6"/>
<circle cx="73.60" cy="393.17" r="2.05" fill="#a6d972"/>
<circle cx="75.83" cy="390.25" r="2.05" fill="#a6d972"/>
<circle cx="78.05" cy="386.78" r="2.05" fill="#a6d972"/>
<circle cx="80.28" cy="385.43" r="2.05" fill="#a6d972"/>
<circle cx="82.51" cy="385.43" r="2.05" fill="#a6d972"/>
<circle cx="84.74" cy="383.42" r="2.05" fill="#a6d972"/>
<circle cx="86.96" cy="382.84" r="2.05" fill="#a6d972"/>
<circle cx="89.19" cy="381.60" r="2.05" fill="#a6d972"/>
<circle cx="91.42" cy="382.09" r="2.05" fill="#a6d972"/>
<circle cx="93.65" cy="380.74" r="2.05" fill="#a6d972"/>
<circle cx="95.88" cy="380.82" r="2.05" fill="#a6d972"/>
<circle cx="98.10" cy="380.30" r="2.05" fill="#a6d972"/>
<circle cx="100.33" cy="381.45" r="2.05" fill="#a6d972"/>
<circle cx="102.56" cy="381.79" r="2.05" fill="#a6d972"/>
<circle cx="104.78" cy="383.41" r="2.05" fill="#a6d972"/>
<circle cx="107.01" cy="381.54" r="2.05" fill="#a6d972"/>
<circle cx="109.24" cy="384.24" r="2.05" fill="#a6d972"/>
<circle cx="111.47" cy="382.66" r="2.05" fill="#a6d972"/>
<circle cx="113.69" cy="383.74" r="2.05" fill="#a6d972"/>
<circle cx="115.92" cy="384.35" r="2.05" fill="#a6d972"/>
<circle cx="118.15" cy="384.58" r="2.05" fill="#a6d972"/>
<circle cx="120.38" cy="385.14" r="2.05" fill="#a6d972"/>
<circle cx="122.60" cy="385.89" r="2.05" fill="#a6d972"/>
<circle cx="124.83" cy="388.15" r="2.05" fill="#a6d972"/>
<circle cx="127.06" cy="389.17" r="2.05" fill="#a6d972"/>
<circle cx="129.29" cy="392.73" r="2.05" fill="#a6d972"/>
<circle cx="131.51" cy="393.12" r="2.05" fill="#a6d972"/>
<circle cx="133.74" cy="395.16" r="2.05" fill="#a6d972"/>
<circle cx="135.97" cy="395.82" r="2.05" fill="#a6d972"/>
<circle cx="138.20" cy="399.40" r="2.05" fill="#a6d972"/>
<circle cx="140.43" cy="400.29" r="2.05" fill="#a6d972"/>
<circle cx="142.65" cy="401.87" r="2.05" fill="#a6d972"/>
<circle cx="144.88" cy="404.61" r="2.05" fill="#a6d972"/>
<circle cx="147.11" cy="404.59" r="2.05" fill="#a6d972"/>
<circle cx="149.33" cy="406.34" r="2.05" fill="#a6d972"/>
<circle cx="151.56" cy="407.19" r="2.05" fill="#a6d972"/>
<circle cx="153.79" cy="408.60" r="2.05" fill="#a6d972"/>
<circle cx="156.02" cy="411.15" r="2.05" fill="#a6d972"/>
<circle cx="158.25" cy="412.50" r="2.05" fill="#a6d972"/>
<circle cx="160.47" cy="413.66" r="2.05" fill="#a6d972"/>
<circle cx="162.70" cy="414.77" r="2.05" fill="#a6d972"/>
<circle cx="164.93" cy="416.48" r="2.05" fill="#a6d972"/>
<circle cx="167.15" cy="419.09" r="2.05" fill="#a6d972"/>
<circle cx="169.38" cy="420.53" r="2.05" fill="#a6d972"/>
<circle cx="171.61" cy="422.16" r="2.05" fill="#a6d972"/>
<circle cx="173.84" cy="423.35" r="2.05" fill="#a6d972"/>
<circle cx="176.06" cy="424.03" r="2.05" fill="#a6d972"/>
<circle cx="178.29" cy="424.50" r="2.05" fill="#a6d972"/>
<circle cx="180.52" cy="423.64" r="2.05" fill="#a6d972"/>
<circle cx="182.75" cy="425.47" r="2.05" fill="#a6d972"/>
<circle cx="184.97" cy="425.46" r="2.05" fill="#a6d972"/>
<polyline points="73.60,388.80 75.83,386.28 78.05,387.21 80.28,383.72 82.51,380.89 84.74,378.49 86.96,377.08 89.19,375.21 91.42,375.09 93.65,374.05 95.88,373.55 98.10,373.71 100.33,372.73 102.56,370.79 104.78,370.46 107.01,368.52 109.24,368.53 111.47,368.35 113.69,370.00 115.92,369.39 118.15,371.58 120.38,372.78 122.60,373.95 124.83,375.55 127.06,378.30 129.29,379.68 131.51,379.42 133.74,381.63 135.97,381.56 138.20,383.71 140.43,385.40 142.65,387.16 144.88,388.37 147.11,390.84 149.33,391.71 151.56,394.82 153.79,396.78 156.02,399.66 158.25,401.48 160.47,404.74 162.70,408.24 164.93,409.13 167.15,413.65 169.38,416.05 171.61,418.08 173.84,418.97 176.06,421.78 178.29,422.30 180.52,423.45 182.75,425.07 184.97,423.85 187.20,424.03 189.43,425.23 191.66,425.23 193.88,425.97" fill="none" stroke="#5d3a9b" stroke-width="1.6"/>
<circle cx="73.60" cy="388.80" r="2.05" fill="#5d3a9b"/>
<circle cx="75.83" cy="386.28" r="2.05" fill="#5d3a9b"/>
<circle cx="78.05" cy="387.21" r="2.05" fill="#5d3a9b"/>
<circle cx="80.28" cy="383.72" r="2.05" fill="#5d3a9b"/>
<circle cx="82.51" cy="380.89" r="2.05" fill="#5d3a9b"/>
<circle cx="84.74" cy="378.49" r="2.05" fill="#5d3a9b"/>
<circle cx="86.96" cy="377.08" r="2.05" fill="#5d3a9b"/>
<circle cx="89.19" cy="375.21" r="2.05" fill="#5d3a9b"/>
<circle cx="91.42" cy="375.09" r="2.05" fill="#5d3a9b"/>
<circle cx="93.65" cy="374.05" r="2.05" fill="#5d3a9b"/>
<circle cx="95.88" cy="373.55" r="2.05" fill="#5d3a9b"/>
<circle cx="98.10" cy="373.71" r="2.05" fill="#5d3a9b"/>
<circle cx="100.33" cy="372.73" r="2.05" fill="#5d3a9b"/>
<circle cx="102.56" cy="370.79" r="2.05" fill="#5d3a9b"/>
<circle cx="104.78" cy="370.46" r="2.05" fill="#5d3a9b"/>
<circle cx="107.01" cy="368.52" r="2.05" fill="#5d3a9b"/>
<circle cx="109.24" cy="368.53" r="2.05" fill="#5d3a9b"/>
<circle cx="111.47" cy="368.35" r="2.05" fill="#5d3a9b"/>
<circle cx="113.69" cy="370.00" r="2.05" fill="#5d3a9b"/>
<circle cx="115.92" cy="369.39" r="2.05" fill="#5d3a9b"/>
<circle cx="118.15" cy="371.58" r="2.05" fill="#5d3a9b"/>
<circle cx="120.38" cy="372.78" r="2.05" fill="#5d3a9b"/>
<circle cx="122.60" cy="373.95" r="2.05" fill="#5d3a9b"/>
<circle cx="124.83" cy="375.55" r="2.05" fill="#5d3a9b"/>
<circle cx="127.06" cy="378.30" r="2.05" fill="#5d3a9b"/>
<circle cx="129.29" cy="379.68" r="2.05" fill="#5d3a9b"/>
<circle cx="131.51" cy="379.42" r="2.05" fill="#5d3a9b"/>
<circle cx="133.74" cy="381.63" r="2.05" fill="#5d3a9b"/>
<circle cx="135.97" cy="381.56" r="2.05" fill="#5d3a9b"/>
<circle cx="138.20" cy="383.71" r="2.05" fill="#5d3a9b"/>
<circle cx="140.43" cy="385.40" r="2.05" fill="#5d3a9b"/>
<circle cx="142.65" cy="387.16" r="2.05" fill="#5d3a9b"/>
<circle cx="144.88" cy="388.37" r="2.05" fill="#5d3a9b"/>
<circle cx="147.11" cy="390.84" r="2.05" fill="#5d3a9b"/>
<circle cx="149.33" cy="391.71" r="2.05" fill="#5d3a9b"/>
<circle cx="151.56" cy="394.82" r="2.05" fill="#5d3a9b"/>
<circle cx="153.79" cy="396.78" r="2.05" fill="#5d3a9b"/>
<circle cx="156.02" cy="399.66" r="2.05" fill="#5d3a9b"/>
<circle cx="158.25" cy="401.48" r="2.05" fill="#5d3a9b"/>
<circle cx="160.47" cy="404.74" r="2.05" fill="#5d3a9b"/>
<circle cx="162.70" cy="408.24" r="2.05" fill="#5d3a9b"/>
<circle cx="164.93" cy="409.13" r="2.05" fill="#5d3a9b"/>
<circle cx="167.15" cy="413.65" r="2.05" fill="#5d3a9b"/>
<circle cx="169.38" cy="416.05" r="2.05" fill="#5d3a9b"/>
<circle cx="171.61" cy="418.08" r="2.05" fill="#5d3a9b"/>
<circle cx="173.84" cy="418.97" r="2.05" fill="#5d3a9b"/>
<circle cx="176.06" cy="421.78" r="2.05" fill="#5d3a9b"/>
<circle cx="178.29" cy="422.30" r="2.05" fill="#5d3a9b"/>
<circle cx="180.52" cy="423.45" r="2.05" fill="#5d3a9b"/>
<circle cx="182.75" cy="425.07" r="2.05" fill="#5d3a9b"/>
<circle cx="184.97" cy="423.85" r="2.05" fill="#5d3a9b"/>
<circle cx="187.20" cy="424.03" r="2.05" fill="#5d3a9b"/>
<circle cx="189.43" cy="425.23" r="2.05" fill="#5d3a9b"/>
<circle cx="191.66" cy="425.23" r="2.05" fill="#5d3a9b"/>
<circle cx="193.88" cy="425.97" r="2.05" fill="#5d3a9b"/>
<polyline points="73.60,383.30 75.83,384.59 78.05,376.89 80.28,373.66 82.51,368.79 84.74,363.41 86.96,360.77 89.19,354.00 91.42,350.58 93.65,342.57 95.88,341.11 98.10,338.07 100.33,334.08 102.56,330.22 104.78,326.63 107.01,321.97 109.24,317.22 111.47,314.75 113.69,311.12 115.92,311.50 118.15,310.35 120.38,307.36 122.60,308.60 124.83,312.40 127.06,314.40 129.29,316.09 131.51,316.87 133.74,322.83 135.97,327.33 138.20,331.07 140.43,339.27 142.65,344.86 144.88,350.12 147.11,357.93 149.33,365.59 151.56,371.06 153.79,380.54 156.02,381.75 158.25,389.27 160.47,395.87 162.70,400.22 164.93,406.04 167.15,413.04 169.38,418.20 171.61,419.76 173.84,421.39 176.06,420.67 178.29,422.37 180.52,423.75 182.75,423.14 184.97,425.28 187.20,425.97" fill="none" stroke="#f57fe6" stroke-width="1.6"/>
<circle cx="73.60" cy="383.30" r="2.05" fill="#f57fe6"/>
<circle cx="75.83" cy="384.59" r="2.05" fill="#f57fe6"/>
<circle cx="78.05" cy="376.89" r="2.05" fill="#f57fe6"/>
<circle cx="80.28" cy="373.66" r="2.05" fill="#f57fe6"/>
<circle cx="82.51" cy="368.79" r="2.05" fill="#f57fe6"/>
<circle cx="84.74" cy="363.41" r="2.05" fill="#f57fe6"/>
<circle cx="86.96" cy="360.77" r="2.05" fill="#f57fe6"/>
<circle cx="89.19" cy="354.00" r="2.05" fill="#f57fe6"/>
<circle cx="91.42" cy="350.58" r="2.05" fill="#f57fe6"/>
<circle cx="93.65" cy="342.57" r="2.05" fill="#f57fe6"/>
<circle cx="95.88" cy="341.11" r="2.05" fill="#f57fe6"/>
<circle cx="98.10" cy="338.07" r="2.05" fill="#f57fe6"/>
<circle cx="100.33" cy="334.08" r="2.05" fill="#f57fe6"/>
<circle cx="102.56" cy="330.22" r="2.05" fill="#f57fe6"/>
<circle cx="104.78" cy="326.63" r="2.05" fill="#f57fe6"/>
<circle cx="107.01" cy="321.97" r="2.05" fill="#f57fe6"/>
<circle cx="109.24" cy="317.22" r="2.05" fill="#f57fe6"/>
<circle cx="111.47" cy="314.75" r="2.05" fill="#f57fe6"/>
<circle cx="113.69" cy="311.12" r="2.05" fill="#f57fe6"/>
<circle cx="115.92" cy="311.50" r="2.05" fill="#f57fe6"/>
<circle cx="118.15" cy="310.35" r="2.05" fill="#f57fe6"/>
<circle cx="120.38" cy="307.36" r="2.05" fill="#f57fe6"/>
<circle cx="122.60" cy="308.60" r="2.05" fill="#f57fe6"/>
<circle cx="124.83" cy="312.40" r="2.05" fill="#f57fe6"/>
<circle cx="127.06" cy="314.40" r="2.05" fill="#f57fe6"/>
<circle cx="129.29" cy="316.09" r="2.05" fill="#f57fe6"/>
<circle cx="131.51" cy="316.87" r="2.05" fill="#f57fe6"/>
<circle cx="133.74" cy="322.83" r="2.05" fill="#f57fe6"/>
<circle cx="135.97" cy="327.33" r="2.05" fill="#f57fe6"/>
<circle cx="138.20" cy="331.07" r="2.05" fill="#f57fe6"/>
<circle cx="140.43" cy="339.27" r="2.05" fill="#f57fe6"/>
<circle cx="142.65" cy="344.86" r="2.05" fill="#f57fe6"/>
<circle cx="144.88" cy="350.12" r="2.05" fill="#f57fe6"/>
<circle cx="147.11" cy="357.93" r="2.05" fill="#f57fe6"/>
<circle cx="149.33" cy="365.59" r="2.05" fill="#f57fe6"/>
<circle cx="151.56" cy="371.06" r="2.05" fill="#f57fe6"/>
<circle cx="153.79" cy="380.54" r="2.05" fill="#f57fe6"/>
<circle cx="156.02" cy="381.75" r="2.05" fill="#f57fe6"/>
<circle cx="158.25" cy="389.27" r="2.05" fill="#f57fe6"/>
<circle cx="160.47" cy="395.87" r="2.05" fill="#f57fe6"/>
<circle cx="162.70" cy="400.22" r="2.05" fill="#f57fe6"/>
<circle cx="164.93" cy="406.04" r="2.05" fill="#f57fe6"/>
<circle cx="167.15" cy="413.04" r="2.05" fill="#f57fe6"/>
<circle cx="169.38" cy="418.20" r="2.05" fill="#f57fe6"/>
<circle cx="171.61" cy="419.76" r="2.05" fill="#f57fe6"/>
<circle cx="173.84" cy="421.39" r="2.05" fill="#f57fe6"/>
<circle cx="176.06" cy="420.67" r="2.05" fill="#f57fe6"/>
<circle cx="178.29" cy="422.37" r="2.05" fill="#f57fe6"/>
<circle cx="180.52" cy="423.75" r="2.05" fill="#f57fe6"/>
<circle cx="182.75" cy="423.14" r="2.05" fill="#f57fe6"/>
<circle cx="184.97" cy="425.28" r="2.05" fill="#f57fe6"/>
<circle cx="187.20" cy="425.97" r="2.05" fill="#f57fe6"/>
<polyline points="73.60,387.13 75.83,383.27 78.05,378.57 80.28,375.30 82.51,367.05 84.74,362.29 86.96,358.44 89.19,353.12 91.42,349.42 93.65,346.33 95.88,341.69 98.10,339.62 100.33,336.79 102.56,334.73 104.78,331.76 107.01,330.63 109.24,328.44 111.47,327.19 113.69,323.90 115.92,322.49 118.15,319.20 120.38,317.99 122.60,316.57 124.83,315.99 127.06,317.91 129.29,317.97 131.51,319.04 133.74,324.98 135.97,328.30 138.20,331.41 140.43,333.12 142.65,337.49 144.88,340.33 147.11,343.92 149.33,347.91 151.56,352.46 153.79,359.49 156.02,365.88 158.25,374.48 160.47,380.70 162.70,385.99 164.93,389.84 167.15,396.73 169.38,401.71 171.61,405.99 173.84,408.30 176.06,412.31 178.29,413.64 180.52,418.22 182.75,416.81 184.97,417.61 187.20,420.24 189.43,419.45 191.66,419.00 193.88,420.29 196.11,419.85 198.34,419.15 200.57,421.00 202.79,421.70 205.02,422.31 207.25,421.33 209.48,422.20 211.70,422.35 213.93,422.45 216.16,422.00 218.39,423.59 220.61,424.15 222.84,424.88 225.07,422.25 227.30,423.34" fill="none" stroke="#a47ed8" stroke-width="1.6"/>
<circle cx="73.60" cy="387.13" r="2.05" fill="#a47ed8"/>
<circle cx="75.83" cy="383.27" r="2.05" fill="#a47ed8"/>
<circle cx="78.05" cy="378.57" r="2.05" fill="#a47ed8"/>
<circle cx="80.28" cy="375.30" r="2.05" fill="#a47ed8"/>
<circle cx="82.51" cy="367.05" r="2.05" fill="#a47ed8"/>
<circle cx="84.74" cy="362.29" r="2.05" fill="#a47ed8"/>
<circle cx="86.96" cy="358.44" r="2.05" fill="#a47ed8"/>
<circle cx="89.19" cy="353.12" r="2.05" fill="#a47ed8"/>
<circle cx="91.42" cy="349.42" r="2.05" fill="#a47ed8"/>
<circle cx="93.65" cy="346.33" r="2.05" fill="#a47ed8"/>
<circle cx="95.88" cy="341.69" r="2.05" fill="#a47ed8"/>
<circle cx="98.10" cy="339.62" r="2.05" fill="#a47ed8"/>
<circle cx="100.33" cy="336.79" r="2.05" fill="#a47ed8"/>
<circle cx="102.56" cy="334.73" r="2.05" fill="#a47ed8"/>
<circle cx="104.78" cy="331.76" r="2.05" fill="#a47ed8"/>
<circle cx="107.01" cy="330.63" r="2.05" fill="#a47ed8"/>
<circle cx="109.24" cy="328.44" r="2.05" fill="#a47ed8"/>
<circle cx="111.47" cy="327.19" r="2.05" fill="#a47ed8"/>
<circle cx="113.69" cy="323.90" r="2.05" fill="#a47ed8"/>
<circle cx="115.92" cy="322.49" r="2.05" fill="#a47ed8"/>
<circle cx="118.15" cy="319.20" r="2.05" fill="#a47ed8"/>
<circle cx="120.38" cy="317.99" r="2.05" fill="#a47ed8"/>
<circle cx="122.60" cy="316.57" r="2.05" fill="#a47ed8"/>
<circle cx="124.83" cy="315.99" r="2.05" fill="#a47ed8"/>
<circle cx="127.06" cy="317.91" r="2.05" fill="#a47ed8"/>
<circle cx="129.29" cy="317.97" r="2.05" fill="#a47ed8"/>
<circle cx="131.51" cy="319.04" r="2.05" fill="#a47ed8"/>
<circle cx="133.74" cy="324.98" r="2.05" fill="#a47ed8"/>
<circle cx="135.97" cy="328.30" r="2.05" fill="#a47ed8"/>
<circle cx="138.20" cy="331.41" r="2.05" fill="#a47ed8"/>
<circle cx="140.43" cy="333.12" r="2.05" fill="#a47ed8"/>
<circle cx="142.65" cy="337.49" r="2.05" fill="#a47ed8"/>
<circle cx="144.88" cy="340.33" r="2.05" fill="#a47ed8"/>
<circle cx="147.11" cy="343.92" r="2.05" fill="#a47ed8"/>
<circle cx="149.33" cy="347.91" r="2.05" fill="#a47ed8"/>
<circle cx="151.56" cy="352.46" r="2.05" fill="#a47ed8"/>
<circle cx="153.79" cy="359.49" r="2.05" fill="#a47ed8"/>
<circle cx="156.02" cy="365.88" r="2.05" fill="#a47ed8"/>
<circle cx="158.25" cy="374.48" r="2.05" fill="#a47ed8"/>
<circle cx="160.47" cy="380.70" r="2.05" fill="#a47ed8"/>
<circle cx="162.70" cy="385.99" r="2.05" fill="#a47ed8"/>
<circle cx="164.93" cy="389.84" r="2.05" fill="#a47ed8"/>
<circle cx="167.15" cy="396.73" r="2.05" fill="#a47ed8"/>
<circle cx="169.38" cy="401.71" r="2.05" fill="#a47ed8"/>
<circle cx="171.61" cy="405.99" r="2.05" fill="#a47ed8"/>
<circle cx="173.84" cy="408.30" r="2.05" fill="#a47ed8"/>
<circle cx="176.06" cy="412.31" r="2.05" fill="#a47ed8"/>
<circle cx="178.29" cy="413.64" r="2.05" fill="#a47ed8"/>
<circle cx="180.52" cy="418.22" r="2.05" fill="#a47ed8"/>
<circle cx="182.75" cy="416.81" r="2.05" fill="#a47ed8"/>
<circle cx="184.97" cy="417.61" r="2.05" fill="#a47ed8"/>
<circle cx="187.20" cy="420.24" r="2.05" fill="#a47ed8"/>
<circle cx="189.43" cy="419.45" r="2.05" fill="#a47ed8"/>
<circle cx="191.66" cy="419.00" r="2.05" fill="#a47ed8"/>
<circle cx="193.88" cy="420.29" r="2.05" fill="#a47ed8"/>
<circle cx="196.11" cy="419.85" r="2.05" fill="#a47ed8"/>
<circle cx="198.34" cy="419.15" r="2.05" fill="#a47ed8"/>
<circle cx="200.57" cy="421.00" r="2.05" fill="#a47ed8"/>
<circle cx="202.79" cy="421.70" r="2.05" fill="#a47ed8"/>
<circle cx="205.02" cy="422.31" r="2.05" fill="#a47ed8"/>
<circle cx="207.25" cy="421.33" r="2.05" fill="#a47ed8"/>
<circle cx="209.48" cy="422.20" r="2.05" fill="#a47ed8"/>
<circle cx="211.70" cy="422.35" r="2.05" fill="#a47ed8"/>
<circle cx="213.93" cy="422.45" r="2.05" fill="#a47ed8"/>
<circle cx="216.16" cy="422.00" r="2.05" fill="#a47ed8"/>
<circle cx="218.39" cy="423.59" r="2.05" fill="#a47ed8"/>
<circle cx="220.61" cy="424.15" r="2.05" fill="#a47ed8"/>
<circle cx="222.84" cy="424.88" r="2.05" fill="#a47ed8"/>
<circle cx="225.07" cy="422.25" r="2.05" fill="#a47ed8"/>
<circle cx="227.30" cy="423.34" r="2.05" fill="#a47ed8"/>
<polyline points="73.60,388.42 75.83,383.04 78.05,378.72 80.28,375.54 82.51,370.18 84.74,367.02 86.96,364.82 89.19,362.18 91.42,360.89 93.65,359.81 95.88,359.11 98.10,358.03 100.33,358.28 102.56,357.28 104.78,356.83 107.01,355.36 109.24,355.12 111.47,355.01 113.69,355.66 115.92,356.61 118.15,357.98 120.38,359.84 122.60,360.67 124.83,362.69 127.06,366.44 129.29,367.73 131.51,368.21 133.74,370.12 135.97,371.41 138.20,373.08 140.43,373.47 142.65,377.46 144.88,378.86 147.11,379.20 149.33,382.28 151.56,384.60 153.79,388.04 156.02,391.88 158.25,394.00 160.47,397.52 162.70,402.00 164.93,405.48 167.15,408.26 169.38,411.46 171.61,413.22 173.84,415.03 176.06,416.52 178.29,417.96 180.52,418.16 182.75,418.78 184.97,419.87 187.20,421.22 189.43,420.57 191.66,421.70 193.88,420.99 196.11,422.53 198.34,421.33 200.57,422.12 202.79,423.11 205.02,422.60 207.25,422.50 209.48,422.50 211.70,423.52 213.93,423.75 216.16,423.00 218.39,423.60 220.61,423.25 222.84,423.02 225.07,424.80 227.30,423.62 229.53,423.07" fill="none" stroke="#5b9bd5" stroke-width="1.6"/>
<circle cx="73.60" cy="388.42" r="2.05" fill="#5b9bd5"/>
<circle cx="75.83" cy="383.04" r="2.05" fill="#5b9bd5"/>
<circle cx="78.05" cy="378.72" r="2.05" fill="#5b9bd5"/>
<circle cx="80.28" cy="375.54" r="2.05" fill="#5b9bd5"/>
<circle cx="82.51" cy="370.18" r="2.05" fill="#5b9bd5"/>
<circle cx="84.74" cy="367.02" r="2.05" fill="#5b9bd5"/>
<circle cx="86.96" cy="364.82" r="2.05" fill="#5b9bd5"/>
<circle cx="89.19" cy="362.18" r="2.05" fill="#5b9bd5"/>
<circle cx="91.42" cy="360.89" r="2.05" fill="#5b9bd5"/>
<circle cx="93.65" cy="359.81" r="2.05" fill="#5b9bd5"/>
<circle cx="95.88" cy="359.11" r="2.05" fill="#5b9bd5"/>
<circle cx="98.10" cy="358.03" r="2.05" fill="#5b9bd5"/>
<circle cx="100.33" cy="358.28" r="2.05" fill="#5b9bd5"/>
<circle cx="102.56" cy="357.28" r="2.05" fill="#5b9bd5"/>
<circle cx="104.78" cy="356.83" r="2.05" fill="#5b9bd5"/>
<circle cx="107.01" cy="355.36" r="2.05" fill="#5b9bd5"/>
<circle cx="109.24" cy="355.12" r="2.05" fill="#5b9bd5"/>
<circle cx="111.47" cy="355.01" r="2.05" fill="#5b9bd5"/>
<circle cx="113.69" cy="355.66" r="2.05" fill="#5b9bd5"/>
<circle cx="115.92" cy="356.61" r="2.05" fill="#5b9bd5"/>
<circle cx="118.15" cy="357.98" r="2.05" fill="#5b9bd5"/>
<circle cx="120.38" cy="359.84" r="2.05" fill="#5b9bd5"/>
<circle cx="122.60" cy="360.67" r="2.05" fill="#5b9bd5"/>
<circle cx="124.83" cy="362.69" r="2.05" fill="#5b9bd5"/>
<circle cx="127.06" cy="366.44" r="2.05" fill="#5b9bd5"/>
<circle cx="129.29" cy="367.73" r="2.05" fill="#5b9bd5"/>
<circle cx="131.51" cy="368.21" r="2.05" fill="#5b9bd5"/>
<circle cx="133.74" cy="370.12" r="2.05" fill="#5b9bd5"/>
<circle cx="135.97" cy="371.41" r="2.05" fill="#5b9bd5"/>
<circle cx="138.20" cy="373.08" r="2.05" fill="#5b9bd5"/>
<circle cx="140.43" cy="373.47" r="2.05" fill="#5b9bd5"/>
<circle cx="142.65" cy="377.46" r="2.05" fill="#5b9bd5"/>
<circle cx="144.88" cy="378.86" r="2.05" fill="#5b9bd5"/>
<circle cx="147.11" cy="379.20" r="2.05" fill="#5b9bd5"/>
<circle cx="149.33" cy="382.28" r="2.05" fill="#5b9bd5"/>
<circle cx="151.56" cy="384.60" r="2.05" fill="#5b9bd5"/>
<circle cx="153.79" cy="388.04" r="2.05" fill="#5b9bd5"/>
<circle cx="156.02" cy="391.88" r="2.05" fill="#5b9bd5"/>
<circle cx="158.25" cy="394.00" r="2.05" fill="#5b9bd5"/>
<circle cx="160.47" cy="397.52" r="2.05" fill="#5b9bd5"/>
<circle cx="162.70" cy="402.00" r="2.05" fill="#5b9bd5"/>
<circle cx="164.93" cy="405.48" r="2.05" fill="#5b9bd5"/>
<circle cx="167.15" cy="408.26" r="2.05" fill="#5b9bd5"/>
<circle cx="169.38" cy="411.46" r="2.05" fill="#5b9bd5"/>
<circle cx="171.61" cy="413.22" r="2.05" fill="#5b9bd5"/>
<circle cx="173.84" cy="415.03" r="2.05" fill="#5b9bd5"/>
<circle cx="176.06" cy="416.52" r="2.05" fill="#5b9bd5"/>
<circle cx="178.29" cy="417.96" r="2.05" fill="#5b9bd5"/>
<circle cx="180.52" cy="418.16" r="2.05" fill="#5b9bd5"/>
<circle cx="182.75" cy="418.78" r="2.05" fill="#5b9bd5"/>
<circle cx="184.97" cy="419.87" r="2.05" fill="#5b9bd5"/>
<circle cx="187.20" cy="421.22" r="2.05" fill="#5b9bd5"/>
<circle cx="189.43" cy="420.57" r="2.05" fill="#5b9bd5"/>
<circle cx="191.66" cy="421.70" r="2.05" fill="#5b9bd5"/>
<circle cx="193.88" cy="420.99" r="2.05" fill="#5b9bd5"/>
<circle cx="196.11" cy="422.53" r="2.05" fill="#5b9bd5"/>
<circle cx="198.34" cy="421.33" r="2.05" fill="#5b9bd5"/>
<circle cx="200.57" cy="422.12" r="2.05" fill="#5b9bd5"/>
<circle cx="202.79" cy="423.11" r="2.05" fill="#5b9bd5"/>
<circle cx="205.02" cy="422.60" r="2.05" fill="#5b9bd5"/>
<circle cx="207.25" cy="422.50" r="2.05" fill="#5b9bd5"/>
<circle cx="209.48" cy="422.50" r="2.05" fill="#5b9bd5"/>
<circle cx="211.70" cy="423.52" r="2.05" fill="#5b9bd5"/>
<circle cx="213.93" cy="423.75" r="2.05" fill="#5b9bd5"/>
<circle cx="216.16" cy="423.00" r="2.05" fill="#5b9bd5"/>
<circle cx="218.39" cy="423.60" r="2.05" fill="#5b9bd5"/>
<circle cx="220.61" cy="423.25" r="2.05" fill="#5b9bd5"/>
<circle cx="222.84" cy="423.02" r="2.05" fill="#5b9bd5"/>
<circle cx="225.07" cy="424.80" r="2.05" fill="#5b9bd5"/>
<circle cx="227.30" cy="423.62" r="2.05" fill="#5b9bd5"/>
<circle cx="229.53" cy="423.07" r="2.05" fill="#5b9bd5"/>
<line x1="73.90" y1="389.58" x2="73.90" y2="407.89" stroke="#5b9bd5" stroke-width="1.2"/>
<ellipse cx="73.90" cy="406.97" rx="1.7" ry="2.8" fill="#6fa5d9"/>
<polygon points="200.2,327.8 202.2,326.0 204.2,327.8 202.2,329.6" fill="#5b9bd5" stroke="#5b9bd5" stroke-width="0.8"/>
<text x="208.7" y="330.3" font-family="'Liberation Sans', sans-serif" font-size="7" font-weight="bold" fill="#000" text-anchor="start" stroke="#000" stroke-width="0.08">NT</text>
<polygon points="200.2,336.68 202.2,334.88 204.2,336.68 202.2,338.48" fill="#a47ed8" stroke="#a47ed8" stroke-width="0.8"/>
<text x="208.7" y="339.18" font-family="'Liberation Sans', sans-serif" font-size="7" font-weight="bold" fill="#000" text-anchor="start" stroke="#000" stroke-width="0.08">GRT-X</text>
<polygon points="200.2,345.56 202.2,343.76 204.2,345.56 202.2,347.36" fill="#f57fe6" stroke="#f57fe6" stroke-width="0.8"/>
<text x="208.7" y="348.06" font-family="'Liberation Sans', sans-serif" font-size="7" font-weight="bold" fill="#000" text-anchor="start" stroke="#000" stroke-width="0.08">XBD173</text>
<polygon points="200.2,354.44 202.2,352.64 204.2,354.44 202.2,356.24" fill="#a6d972" stroke="#a6d972" stroke-width="0.8"/>
<text x="208.7" y="356.94" font-family="'Liberation Sans', sans-serif" font-size="7" font-weight="bold" fill="#000" text-anchor="start" stroke="#000" stroke-width="0.08">XE991</text>
<polygon points="200.2,363.32 202.2,361.52 204.2,363.32 202.2,365.12" fill="#1b8db4" stroke="#1b8db4" stroke-width="0.8"/>
<text x="208.7" y="365.82" font-family="'Liberation Sans', sans-serif" font-size="7" font-weight="bold" fill="#000" text-anchor="start" stroke="#000" stroke-width="0.08">ICA27243</text>
<polygon points="200.2,372.20000000000005 202.2,370.40000000000003 204.2,372.20000000000005 202.2,374.00000000000006" fill="#5d3a9b" stroke="#5d3a9b" stroke-width="0.8"/>
<text x="208.7" y="374.70000000000005" font-family="'Liberation Sans', sans-serif" font-size="7" font-weight="bold" fill="#000" text-anchor="start" stroke="#000" stroke-width="0.08">EtOH</text>
<rect x="292.0" y="280.2" width="18.999999999999954" height="18.7" fill="#fff" stroke="#e2600f" stroke-width="1.8"/>
<text x="301.5" y="293.3" font-family="'Liberation Serif', serif" font-size="10" font-weight="bold" fill="#000" text-anchor="middle" >D</text>
<text x="404.2" y="279.8" font-family="'Liberation Sans', sans-serif" font-size="7.8" font-weight="bold" fill="#000" text-anchor="middle" stroke="#000" stroke-width="0.08">AUCs in embryonic</text>
<text x="403.8" y="288.9" font-family="'Liberation Sans', sans-serif" font-size="7.83" font-weight="bold" fill="#000" text-anchor="middle" stroke="#000" stroke-width="0.08">C57BL/6 DRG at DIV8 after 2 treatments</text>
<line x1="368.3" y1="333.40999999999997" x2="368.3" y2="407.2" stroke="#000" stroke-width="1"/>
<line x1="368.3" y1="407.2" x2="437.5" y2="407.2" stroke="#000" stroke-width="1"/>
<line x1="365.7" y1="407.20" x2="368.3" y2="407.20" stroke="#000" stroke-width="0.9"/>
<text x="364.90000000000003" y="409.9" font-family="'Liberation Sans', sans-serif" font-size="7.7" font-weight="bold" fill="#000" text-anchor="end" stroke="#000" stroke-width="0.2">0</text>
<line x1="365.7" y1="382.77" x2="368.3" y2="382.77" stroke="#000" stroke-width="0.9"/>
<text x="364.90000000000003" y="385.46999999999997" font-family="'Liberation Sans', sans-serif" font-size="7.7" font-weight="bold" fill="#000" text-anchor="end" stroke="#000" stroke-width="0.2">100</text>
<line x1="365.7" y1="358.34" x2="368.3" y2="358.34" stroke="#000" stroke-width="0.9"/>
<text x="364.90000000000003" y="361.03999999999996" font-family="'Liberation Sans', sans-serif" font-size="7.7" font-weight="bold" fill="#000" text-anchor="end" stroke="#000" stroke-width="0.2">200</text>
<line x1="365.7" y1="333.91" x2="368.3" y2="333.91" stroke="#000" stroke-width="0.9"/>
<text x="364.90000000000003" y="336.60999999999996" font-family="'Liberation Sans', sans-serif" font-size="7.7" font-weight="bold" fill="#000" text-anchor="end" stroke="#000" stroke-width="0.2">300</text>
<text transform="translate(347.6,369.6) rotate(-90)" font-family="'Liberation Sans', sans-serif" font-size="8.1" font-weight="bold" text-anchor="middle" stroke="#000" stroke-width="0.2">AUC normalized on NT (%)</text>
<rect x="372.7" y="383.26" width="7.1" height="23.94" fill="#fff" stroke="#3f86cc" stroke-width="1.4"/>
<line x1="376.25" y1="383.26" x2="376.25" y2="381.30" stroke="#3f86cc" stroke-width="0.9"/>
<line x1="374.45" y1="381.30" x2="378.05" y2="381.30" stroke="#3f86cc" stroke-width="0.9"/>
<circle cx="376.79" cy="374.22" r="1.5" fill="#5b9bd5" opacity="0.9"/>
<circle cx="377.31" cy="378.37" r="1.5" fill="#5b9bd5" opacity="0.9"/>
<circle cx="377.55" cy="379.35" r="1.5" fill="#5b9bd5" opacity="0.9"/>
<circle cx="378.20" cy="380.33" r="1.5" fill="#5b9bd5" opacity="0.9"/>
<circle cx="377.31" cy="381.06" r="1.5" fill="#5b9bd5" opacity="0.9"/>
<circle cx="378.11" cy="381.55" r="1.5" fill="#5b9bd5" opacity="0.9"/>
<circle cx="374.18" cy="382.04" r="1.5" fill="#5b9bd5" opacity="0.9"/>
<circle cx="376.10" cy="382.53" r="1.5" fill="#5b9bd5" opacity="0.9"/>
<circle cx="378.20" cy="383.01" r="1.5" fill="#5b9bd5" opacity="0.9"/>
<circle cx="376.91" cy="383.50" r="1.5" fill="#5b9bd5" opacity="0.9"/>
<circle cx="378.01" cy="383.99" r="1.5" fill="#5b9bd5" opacity="0.9"/>
<circle cx="374.55" cy="384.72" r="1.5" fill="#5b9bd5" opacity="0.9"/>
<circle cx="376.11" cy="385.21" r="1.5" fill="#5b9bd5" opacity="0.9"/>
<circle cx="375.13" cy="386.19" r="1.5" fill="#5b9bd5" opacity="0.9"/>
<circle cx="376.44" cy="387.17" r="1.5" fill="#5b9bd5" opacity="0.9"/>
<circle cx="376.58" cy="388.63" r="1.5" fill="#5b9bd5" opacity="0.9"/>
<circle cx="374.11" cy="390.10" r="1.5" fill="#5b9bd5" opacity="0.9"/>
<circle cx="375.00" cy="391.08" r="1.5" fill="#5b9bd5" opacity="0.9"/>
<line x1="376.25" y1="407.2" x2="376.25" y2="409.59999999999997" stroke="#000" stroke-width="0.8"/>
<text transform="translate(377.95,413.8) rotate(-90)" font-family="'Liberation Sans', sans-serif" font-size="7.6" font-weight="bold" text-anchor="end" stroke="#000" stroke-width="0.15">NT</text>
<rect x="383.9" y="361.52" width="6.500000000000034" height="45.68" fill="#fff" stroke="#9068cf" stroke-width="1.4"/>
<line x1="387.15" y1="361.52" x2="387.15" y2="340.75" stroke="#9068cf" stroke-width="0.9"/>
<line x1="385.34999999999997" y1="340.75" x2="388.95" y2="340.75" stroke="#9068cf" stroke-width="0.9"/>
<circle cx="386.18" cy="334.64" r="1.5" fill="#a783dc" opacity="0.9"/>
<circle cx="388.98" cy="351.01" r="1.5" fill="#a783dc" opacity="0.9"/>
<circle cx="388.32" cy="360.78" r="1.5" fill="#a783dc" opacity="0.9"/>
<circle cx="385.65" cy="363.23" r="1.5" fill="#a783dc" opacity="0.9"/>
<circle cx="388.46" cy="365.67" r="1.5" fill="#a783dc" opacity="0.9"/>
<circle cx="385.56" cy="368.11" r="1.5" fill="#a783dc" opacity="0.9"/>
<circle cx="387.67" cy="370.56" r="1.5" fill="#a783dc" opacity="0.9"/>
<circle cx="385.51" cy="373.00" r="1.5" fill="#a783dc" opacity="0.9"/>
<circle cx="384.96" cy="375.93" r="1.5" fill="#a783dc" opacity="0.9"/>
<circle cx="388.78" cy="378.37" r="1.5" fill="#a783dc" opacity="0.9"/>
<circle cx="385.87" cy="380.33" r="1.5" fill="#a783dc" opacity="0.9"/>
<line x1="387.15" y1="407.2" x2="387.15" y2="409.59999999999997" stroke="#000" stroke-width="0.8"/>
<text transform="translate(388.85,413.8) rotate(-90)" font-family="'Liberation Sans', sans-serif" font-size="7.6" font-weight="bold" text-anchor="end" stroke="#000" stroke-width="0.15">GRT-X</text>
<rect x="395.3" y="365.91" width="5.999999999999977" height="41.29" fill="#fff" stroke="#d040d0" stroke-width="1.4"/>
<line x1="398.3" y1="365.91" x2="398.3" y2="360.29" stroke="#d040d0" stroke-width="0.9"/>
<line x1="396.5" y1="360.29" x2="400.1" y2="360.29" stroke="#d040d0" stroke-width="0.9"/>
<circle cx="397.05" cy="355.41" r="1.5" fill="#ef7ee6" opacity="0.9"/>
<circle cx="400.42" cy="362.00" r="1.5" fill="#ef7ee6" opacity="0.9"/>
<circle cx="399.94" cy="363.71" r="1.5" fill="#ef7ee6" opacity="0.9"/>
<circle cx="397.37" cy="365.67" r="1.5" fill="#ef7ee6" opacity="0.9"/>
<circle cx="400.33" cy="368.11" r="1.5" fill="#ef7ee6" opacity="0.9"/>
<circle cx="398.47" cy="370.56" r="1.5" fill="#ef7ee6" opacity="0.9"/>
<circle cx="399.08" cy="372.27" r="1.5" fill="#ef7ee6" opacity="0.9"/>
<line x1="398.30" y1="407.2" x2="398.30" y2="409.59999999999997" stroke="#000" stroke-width="0.8"/>
<text transform="translate(400.00,413.8) rotate(-90)" font-family="'Liberation Sans', sans-serif" font-size="7.6" font-weight="bold" text-anchor="end" stroke="#000" stroke-width="0.15">XBD173</text>
<rect x="406.7" y="384.48" width="6.1" height="22.72" fill="#fff" stroke="#4cb04c" stroke-width="1.4"/>
<line x1="409.75" y1="384.48" x2="409.75" y2="375.44" stroke="#4cb04c" stroke-width="0.9"/>
<line x1="407.95" y1="375.44" x2="411.55" y2="375.44" stroke="#4cb04c" stroke-width="0.9"/>
<circle cx="408.45" cy="375.44" r="1.5" fill="#8fd46a" opacity="0.9"/>
<circle cx="411.69" cy="375.93" r="1.5" fill="#8fd46a" opacity="0.9"/>
<circle cx="410.59" cy="381.06" r="1.5" fill="#8fd46a" opacity="0.9"/>
<circle cx="411.80" cy="383.99" r="1.5" fill="#8fd46a" opacity="0.9"/>
<circle cx="411.48" cy="386.43" r="1.5" fill="#8fd46a" opacity="0.9"/>
<circle cx="408.86" cy="389.61" r="1.5" fill="#8fd46a" opacity="0.9"/>
<circle cx="409.14" cy="392.54" r="1.5" fill="#8fd46a" opacity="0.9"/>
<circle cx="408.28" cy="394.99" r="1.5" fill="#8fd46a" opacity="0.9"/>
<circle cx="408.19" cy="396.70" r="1.5" fill="#8fd46a" opacity="0.9"/>
<line x1="409.75" y1="407.2" x2="409.75" y2="409.59999999999997" stroke="#000" stroke-width="0.8"/>
<text transform="translate(411.45,413.8) rotate(-90)" font-family="'Liberation Sans', sans-serif" font-size="7.6" font-weight="bold" text-anchor="end" stroke="#000" stroke-width="0.15">XE991</text>
<rect x="418.09999999999997" y="385.95" width="5.800000000000045" height="21.25" fill="#fff" stroke="#1a86b0" stroke-width="1.4"/>
<line x1="421.0" y1="385.95" x2="421.0" y2="369.09" stroke="#1a86b0" stroke-width="0.9"/>
<line x1="419.2" y1="369.09" x2="422.8" y2="369.09" stroke="#1a86b0" stroke-width="0.9"/>
<circle cx="419.09" cy="369.09" r="1.5" fill="#1e93bd" opacity="0.9"/>
<circle cx="420.13" cy="373.00" r="1.5" fill="#1e93bd" opacity="0.9"/>
<circle cx="421.45" cy="375.44" r="1.5" fill="#1e93bd" opacity="0.9"/>
<circle cx="418.81" cy="381.06" r="1.5" fill="#1e93bd" opacity="0.9"/>
<circle cx="421.78" cy="383.99" r="1.5" fill="#1e93bd" opacity="0.9"/>
<circle cx="420.29" cy="386.43" r="1.5" fill="#1e93bd" opacity="0.9"/>
<circle cx="420.16" cy="389.61" r="1.5" fill="#1e93bd" opacity="0.9"/>
<circle cx="422.40" cy="392.54" r="1.5" fill="#1e93bd" opacity="0.9"/>
<circle cx="420.92" cy="394.99" r="1.5" fill="#1e93bd" opacity="0.9"/>
<circle cx="420.19" cy="396.70" r="1.5" fill="#1e93bd" opacity="0.9"/>
<line x1="421.00" y1="407.2" x2="421.00" y2="409.59999999999997" stroke="#000" stroke-width="0.8"/>
<text transform="translate(422.70,413.8) rotate(-90)" font-family="'Liberation Sans', sans-serif" font-size="7.6" font-weight="bold" text-anchor="end" stroke="#000" stroke-width="0.15">ICA27243</text>
<rect x="429.2" y="384.72" width="6.1" height="22.48" fill="#fff" stroke="#5a3794" stroke-width="1.4"/>
<line x1="432.25" y1="384.72" x2="432.25" y2="376.91" stroke="#5a3794" stroke-width="0.9"/>
<line x1="430.45" y1="376.91" x2="434.05" y2="376.91" stroke="#5a3794" stroke-width="0.9"/>
<circle cx="432.17" cy="366.16" r="1.5" fill="#6a45a6" opacity="0.9"/>
<circle cx="433.15" cy="377.15" r="1.5" fill="#6a45a6" opacity="0.9"/>
<circle cx="430.30" cy="381.55" r="1.5" fill="#6a45a6" opacity="0.9"/>
<circle cx="434.34" cy="382.77" r="1.5" fill="#6a45a6" opacity="0.9"/>
<circle cx="430.15" cy="383.99" r="1.5" fill="#6a45a6" opacity="0.9"/>
<circle cx="433.35" cy="385.21" r="1.5" fill="#6a45a6" opacity="0.9"/>
<circle cx="433.77" cy="386.43" r="1.5" fill="#6a45a6" opacity="0.9"/>
<circle cx="430.13" cy="387.66" r="1.5" fill="#6a45a6" opacity="0.9"/>
<circle cx="433.52" cy="389.61" r="1.5" fill="#6a45a6" opacity="0.9"/>
<line x1="432.25" y1="407.2" x2="432.25" y2="409.59999999999997" stroke="#000" stroke-width="0.8"/>
<text transform="translate(433.95,413.8) rotate(-90)" font-family="'Liberation Sans', sans-serif" font-size="7.6" font-weight="bold" text-anchor="end" stroke="#000" stroke-width="0.15">EtOH</text>
<polyline points="376.2,313.3 376.2,308.8 398.8,308.8 398.8,313.3" fill="none" stroke="#333" stroke-width="0.9"/>
<circle cx="387.3" cy="304.4" r="1.3" fill="#111"/>
<circle cx="376.8" cy="320.1" r="1.3" fill="#111"/>
<circle cx="381.1" cy="320.1" r="1.3" fill="#111"/>
<circle cx="385.4" cy="320.1" r="1.3" fill="#111"/>
<polyline points="376.2,369.7 376.2,324.7 386.0,324.7 386.0,329.0" fill="none" stroke="#333" stroke-width="0.9"/>
<circle cx="406.2" cy="320.1" r="1.3" fill="#111"/>
<circle cx="410.2" cy="320.1" r="1.3" fill="#111"/>
<circle cx="414.2" cy="320.1" r="1.3" fill="#111"/>
<polyline points="388.6,329.0 388.6,324.7 432.2,324.7 432.2,342.7" fill="none" stroke="#333" stroke-width="0.9"/>
<line x1="400" y1="347.1" x2="430" y2="347.1" stroke="#000" stroke-width="1.4"/>
<polygon points="396.4,347.1 401.5,344.2 401.5,350" fill="#000"/>
<polygon points="433.6,347.1 428.5,344.2 428.5,350" fill="#000"/>
</svg>
</body></html>
